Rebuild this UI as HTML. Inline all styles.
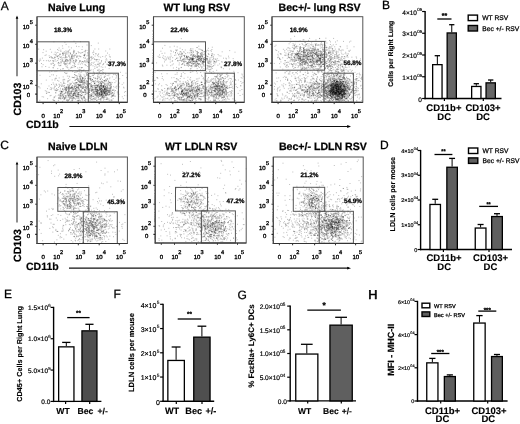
<!DOCTYPE html>
<html><head><meta charset="utf-8"><style>
html,body{margin:0;padding:0;background:#fff;}
svg{display:block;filter:blur(0.3px);}
text{font-family:"Liberation Sans", sans-serif;text-rendering:geometricPrecision;}
</style></head><body>
<svg width="520" height="424" viewBox="0 0 520 424">
<rect width="520" height="424" fill="#fff"/>
<path d="M68.6 76.2h1M102.5 74.2h1M52.6 88.1h1M108.7 68.6h1M59.3 98.1h1M91.8 58.5h1M101.2 92.7h1M98.8 88.7h1M48.5 86.0h1M46.2 93.5h1M90.5 85.1h1M109.2 56.7h1M104.9 91.1h1M126.8 95.7h1M89.5 79.0h1M59.9 90.0h1M104.8 56.9h1M45.8 80.1h1M39.3 100.3h1M65.8 73.6h1M91.8 85.7h1M117.3 93.9h1M53.6 100.4h1M98.4 76.5h1M50.4 87.5h1" stroke="#000" stroke-opacity="0.25"/>
<path d="M123.2 82.9h1M112.4 95.8h1M96.1 97.1h1M97.7 70.2h1M55.7 90.8h1M62.7 76.9h1M115.5 81.0h1M102.4 69.5h1M90.5 63.7h1M122.2 75.5h1M72.9 95.5h1M58.0 98.7h1M89.3 73.4h1M93.3 72.7h1M84.5 92.3h1M68.2 89.8h1M104.4 76.0h1M69.1 76.9h1M107.4 99.2h1M92.9 71.8h1M113.3 95.6h1M67.9 78.4h1M103.1 72.5h1M55.6 78.6h1M70.2 91.8h1" stroke="#000" stroke-opacity="0.25"/>
<path d="M67.5 101.3h1M96.8 96.2h1M95.7 61.0h1M50.9 89.6h1M100.4 85.3h1M121.8 96.8h1M100.2 63.0h1M95.6 53.8h1M96.2 59.8h1M109.3 74.1h1M43.1 97.0h1M123.5 88.0h1M124.2 95.6h1M77.8 94.5h1M77.5 100.7h1M90.4 60.3h1M108.6 92.5h1M51.7 79.9h1M74.2 74.6h1M72.9 94.4h1M117.3 74.5h1M125.1 91.5h1M103.7 77.1h1M78.8 79.1h1M91.3 57.7h1" stroke="#000" stroke-opacity="0.25"/>
<path d="M73.1 87.0h1M58.4 94.5h1M44.8 90.7h1M121.7 84.4h1M98.5 70.9h1M110.3 84.6h1M38.4 86.7h1M115.7 86.4h1M99.5 71.3h1M70.4 101.3h1M108.6 82.4h1M51.3 74.8h1M60.4 97.2h1M78.5 96.3h1M118.7 86.9h1M91.3 56.5h1M55.6 84.1h1M110.1 85.9h1M67.5 97.3h1M102.2 56.5h1M114.7 87.4h1M60.3 82.6h1M48.7 92.5h1M105.9 58.7h1M47.0 88.6h1" stroke="#000" stroke-opacity="0.25"/>
<path d="M39.5 75.3h1M111.7 100.1h1M49.7 89.3h1M93.0 92.8h1M94.2 83.3h1M116.1 76.9h1M126.0 77.7h1M82.2 88.1h1M124.0 92.2h1M69.5 97.3h1M99.0 93.3h1M82.7 98.7h1M105.2 51.0h1M93.1 80.8h1M105.9 80.7h1M95.3 59.6h1M123.1 87.2h1M58.7 77.9h1M96.6 72.9h1M71.9 100.9h1M110.5 82.3h1M84.9 72.0h1M104.7 73.1h1M96.4 73.5h1M54.4 80.1h1" stroke="#000" stroke-opacity="0.25"/>
<path d="M108.8 54.9h1M40.8 83.8h1M109.6 92.3h1M56.1 75.8h1M81.5 95.7h1M97.5 64.3h1M95.1 80.4h1M122.8 98.7h1M118.5 94.3h1M120.0 72.3h1M91.0 95.5h1M101.3 73.9h1M102.3 67.3h1M111.9 76.9h1M104.9 61.8h1M81.8 99.2h1M69.4 83.2h1M94.6 56.1h1M89.2 96.8h1M104.8 67.0h1M100.7 66.8h1M92.3 98.8h1M41.7 96.7h1M88.8 92.7h1M105.3 59.9h1" stroke="#000" stroke-opacity="0.25"/>
<path d="M100.1 57.2h1M112.1 96.1h1M83.1 83.0h1M86.4 84.6h1M84.1 80.8h1M97.0 76.9h1M116.2 75.5h1M71.5 99.9h1M97.3 59.6h1M106.4 64.2h1M111.4 95.5h1M125.5 73.2h1M53.1 100.2h1M59.8 94.0h1M74.2 74.6h1M103.0 64.4h1M80.7 86.9h1M117.5 92.0h1M66.9 76.1h1M92.9 57.7h1" stroke="#000" stroke-opacity="0.25"/>
<path d="M57.5 63.2h1M90.6 96.6h1M105.2 86.3h1M57.1 80.4h1M59.7 65.5h1M89.0 90.5h1M75.0 88.7h1M61.8 95.6h1M101.7 96.2h1M72.3 91.1h1M79.6 94.6h1M54.7 59.7h1M102.9 90.3h1M76.1 57.1h1M74.6 90.4h1M77.4 76.0h1M76.9 78.2h1M91.9 87.3h1M113.6 96.2h1M71.9 85.6h1M71.8 87.1h1M103.9 89.1h1M83.9 56.0h1M82.8 80.3h1M61.1 85.9h1" stroke="#000" stroke-opacity="0.27"/>
<path d="M72.3 88.2h1M89.2 84.0h1M73.3 95.7h1M110.6 94.2h1M105.1 94.2h1M89.9 87.9h1M64.4 83.6h1M55.2 96.0h1M102.1 96.1h1M79.6 100.5h1M79.8 56.7h1M62.8 52.3h1M67.3 82.0h1M65.4 90.0h1M103.8 81.1h1M79.7 86.2h1M64.9 89.3h1M103.3 85.6h1M81.5 92.1h1M91.5 90.5h1M98.5 72.3h1M62.7 68.6h1M98.2 77.9h1M74.0 65.8h1M83.2 84.1h1" stroke="#000" stroke-opacity="0.27"/>
<path d="M87.0 85.5h1M94.3 81.2h1M77.7 98.4h1M106.1 90.1h1M102.0 92.4h1M77.2 96.6h1M98.8 59.8h1M69.2 57.3h1M89.7 79.2h1M100.1 70.5h1M110.4 88.9h1M60.4 93.5h1M40.2 60.2h1M75.1 75.5h1M67.4 67.9h1M67.6 95.2h1M104.8 94.3h1M87.0 81.1h1M76.0 75.6h1M69.3 98.5h1M68.4 50.6h1M96.9 78.8h1M67.8 88.7h1M67.0 92.4h1M79.8 64.2h1" stroke="#000" stroke-opacity="0.27"/>
<path d="M95.5 65.1h1M74.7 89.8h1M54.9 89.9h1M56.1 90.4h1M54.5 78.9h1M80.8 90.5h1M96.8 79.1h1M89.7 57.2h1M63.6 89.3h1M83.3 87.1h1M75.4 95.5h1M106.8 84.5h1M109.2 94.5h1M112.6 90.3h1M83.8 83.2h1M106.5 79.1h1M106.4 60.0h1M95.8 91.8h1M78.1 58.7h1M78.3 94.5h1M96.3 67.2h1M72.8 95.1h1M65.8 89.9h1M100.8 83.3h1M60.5 96.6h1" stroke="#000" stroke-opacity="0.27"/>
<path d="M44.6 55.4h1M103.1 85.8h1M45.7 54.9h1M77.5 80.6h1M97.8 97.2h1M62.6 79.7h1M47.4 92.2h1M93.6 85.3h1M100.6 88.1h1M51.0 56.8h1M76.9 84.7h1M68.6 97.8h1M73.6 94.0h1M77.5 94.0h1M99.2 86.5h1M93.0 89.9h1M81.1 72.1h1M93.0 77.4h1M84.5 98.5h1M73.6 91.6h1M73.0 98.3h1M68.8 88.2h1M101.2 91.6h1M57.6 89.6h1M106.2 90.8h1" stroke="#000" stroke-opacity="0.27"/>
<path d="M67.5 92.7h1M78.4 46.6h1M87.6 55.3h1M66.7 63.0h1M107.4 90.0h1M38.6 60.2h1M74.6 66.5h1M101.0 83.8h1M71.9 85.9h1M87.0 82.7h1M75.8 93.0h1M104.3 89.4h1M94.2 99.5h1M64.1 51.8h1M54.1 100.7h1M61.2 91.5h1M62.3 48.3h1M97.5 74.2h1M111.0 91.9h1M82.9 92.5h1M64.4 98.8h1M72.3 77.5h1M81.9 88.5h1M80.8 89.4h1M79.8 78.6h1" stroke="#000" stroke-opacity="0.27"/>
<path d="M104.2 80.5h1M75.5 79.5h1M77.7 100.1h1M66.5 87.9h1M64.0 99.2h1M102.9 95.0h1M95.7 95.2h1M63.7 86.1h1M87.5 83.9h1M102.7 87.4h1M74.7 55.1h1M69.0 99.6h1M95.1 91.0h1M94.1 86.2h1M68.1 100.1h1M93.0 89.9h1M92.2 92.5h1M100.5 90.0h1M97.7 82.0h1M65.4 97.4h1M67.6 85.4h1M54.5 71.6h1M98.9 99.3h1M81.2 91.1h1M67.1 84.6h1" stroke="#000" stroke-opacity="0.27"/>
<path d="M78.6 81.8h1M84.5 64.4h1M109.2 90.6h1M80.0 41.7h1M79.0 85.6h1M64.5 87.6h1M109.0 85.7h1M103.9 77.5h1M65.4 97.1h1M83.4 92.5h1M74.2 72.5h1M85.0 87.4h1M95.9 87.5h1M116.5 86.0h1M83.8 78.0h1M78.7 69.3h1M62.5 53.9h1M55.4 54.9h1M79.1 81.9h1M86.1 75.5h1M96.5 94.3h1M94.1 93.0h1M53.5 61.0h1M60.1 95.1h1M77.2 97.9h1" stroke="#000" stroke-opacity="0.27"/>
<path d="M52.4 67.7h1M107.3 94.0h1M73.5 95.3h1M74.5 92.4h1M71.1 56.5h1M104.5 80.7h1M55.3 93.0h1M103.9 85.8h1M104.3 83.5h1M108.3 75.7h1M60.6 62.4h1M63.1 96.2h1M79.5 91.0h1M65.5 56.4h1M103.3 96.8h1M88.8 83.5h1M62.2 88.6h1M96.6 89.9h1M90.7 86.9h1M91.2 91.2h1M103.8 88.9h1M84.3 90.5h1M93.2 81.9h1M85.1 86.4h1M78.2 97.6h1" stroke="#000" stroke-opacity="0.27"/>
<path d="M98.9 72.7h1M88.2 98.4h1M66.6 67.4h1M77.6 96.1h1M101.7 90.7h1M62.2 101.3h1M98.8 89.9h1M72.8 60.7h1M104.5 93.2h1M68.6 89.2h1M98.8 89.4h1M102.7 86.8h1M84.9 101.4h1M66.1 86.9h1M66.6 100.0h1M78.6 84.6h1M82.3 100.9h1M62.0 60.3h1M88.4 97.7h1M106.0 93.4h1M109.0 93.2h1M95.3 87.6h1M111.8 95.8h1M78.4 81.2h1M77.9 92.7h1" stroke="#000" stroke-opacity="0.27"/>
<path d="M66.4 95.5h1M88.8 92.2h1M86.5 93.5h1M102.3 89.5h1M84.1 82.8h1M104.0 84.3h1M107.5 94.8h1M77.4 96.0h1M101.9 94.2h1M69.3 85.3h1M86.3 81.1h1M45.9 60.7h1M90.6 69.9h1M61.7 94.4h1M104.4 92.5h1M100.4 86.0h1M105.4 89.1h1M108.4 98.9h1M79.0 85.0h1M43.2 60.6h1M101.1 94.5h1M96.7 100.3h1M102.0 81.7h1M73.8 55.9h1M99.2 83.7h1" stroke="#000" stroke-opacity="0.27"/>
<path d="M107.8 81.0h1M69.1 63.4h1M79.8 61.2h1M89.5 98.6h1M96.3 89.3h1M114.1 91.9h1M97.7 61.8h1M91.6 79.5h1M99.1 87.2h1M98.2 93.9h1M77.7 51.7h1M75.0 61.3h1M65.0 96.0h1M104.9 95.4h1M108.8 78.8h1M81.8 70.6h1M99.4 92.2h1M65.2 57.4h1M85.8 73.8h1M68.5 95.6h1M102.4 97.8h1M52.4 99.8h1M89.6 83.7h1M101.1 60.5h1M63.9 87.6h1" stroke="#000" stroke-opacity="0.27"/>
<path d="M91.8 99.9h1M109.4 77.8h1M50.0 60.7h1M97.3 64.4h1M93.8 89.3h1M98.1 84.3h1M83.5 74.9h1M113.0 94.9h1M101.2 91.5h1M111.4 93.7h1M68.0 51.4h1M105.1 79.4h1M108.9 63.1h1M79.0 76.6h1M90.6 57.4h1M97.0 85.7h1M97.1 91.0h1M65.4 61.2h1M86.5 50.4h1M88.7 84.7h1M87.5 61.2h1M74.3 92.8h1M81.5 95.6h1M64.3 70.5h1M53.3 97.9h1" stroke="#000" stroke-opacity="0.27"/>
<path d="M95.2 53.8h1M108.0 92.1h1M100.5 91.2h1M67.6 81.2h1M79.0 85.0h1M98.3 56.7h1M74.7 86.1h1M88.9 58.4h1M75.0 90.9h1M93.3 92.2h1M72.9 53.4h1M59.4 96.4h1M94.9 87.9h1M100.6 95.7h1M75.6 83.1h1M102.0 89.1h1M62.6 80.9h1M101.2 81.4h1M72.4 90.0h1M65.5 57.3h1M77.2 94.4h1M78.4 95.6h1M72.1 95.0h1M98.6 69.3h1M74.3 84.1h1" stroke="#000" stroke-opacity="0.27"/>
<path d="M86.5 81.5h1M79.3 52.6h1M91.1 80.9h1M64.8 88.5h1M63.4 90.8h1M80.8 92.0h1M88.8 89.5h1M119.2 78.8h1M65.9 87.5h1M95.3 95.1h1M65.8 53.9h1M84.1 61.1h1M76.5 84.7h1M41.9 58.1h1M80.0 91.1h1M97.4 95.3h1M74.1 93.5h1M85.2 93.8h1M93.9 97.9h1M59.9 88.3h1M108.7 83.9h1M75.5 82.6h1M108.2 90.7h1M95.0 88.7h1M83.7 87.3h1" stroke="#000" stroke-opacity="0.27"/>
<path d="M102.5 86.9h1M107.6 83.0h1M98.5 81.8h1M41.5 66.8h1M102.4 70.0h1M103.0 86.6h1M79.8 94.9h1M99.5 90.1h1M59.4 54.5h1M77.5 80.9h1M94.7 89.9h1M84.8 50.9h1M84.0 97.4h1M71.7 58.9h1M98.4 84.2h1M112.0 92.6h1M96.3 59.6h1M103.1 80.7h1M94.9 78.0h1M72.1 55.9h1M104.3 93.0h1M60.7 98.8h1M83.9 55.1h1M59.7 57.6h1M79.0 100.0h1" stroke="#000" stroke-opacity="0.27"/>
<path d="M97.0 92.5h1M84.6 87.6h1M110.2 85.8h1M107.6 91.2h1M70.0 52.9h1M68.1 91.1h1M45.2 66.5h1M82.5 84.8h1M74.9 84.2h1M83.0 96.9h1M97.4 89.4h1M103.8 91.1h1M98.8 93.7h1M89.6 76.5h1M70.2 96.2h1M109.9 91.2h1M77.3 71.5h1M100.8 84.9h1M87.2 89.0h1M66.7 59.7h1M80.2 87.2h1M93.4 91.1h1M84.1 55.2h1M100.6 93.1h1M53.0 63.5h1" stroke="#000" stroke-opacity="0.27"/>
<path d="M84.9 51.9h1M101.3 85.0h1M93.1 51.0h1M79.7 92.0h1M71.0 56.0h1M63.6 93.8h1M110.6 84.4h1M107.8 88.2h1M94.4 92.1h1M97.2 90.9h1M78.5 89.1h1M69.9 68.1h1M108.1 81.3h1M78.2 84.1h1M68.2 87.2h1M102.1 93.0h1M82.6 88.3h1M101.1 86.5h1M79.6 90.2h1M87.1 78.2h1M102.3 94.5h1M79.6 72.8h1M90.8 97.7h1M84.7 76.5h1M62.1 98.4h1" stroke="#000" stroke-opacity="0.27"/>
<path d="M81.9 46.8h1M114.0 93.8h1M76.1 92.1h1M69.0 95.0h1M71.7 57.9h1M108.5 88.4h1M76.8 96.1h1M75.0 66.6h1M101.0 81.2h1M92.9 81.6h1M103.3 90.5h1M59.5 85.4h1M104.4 87.5h1M75.4 95.6h1M63.9 63.6h1M88.4 75.5h1M80.1 84.6h1M108.1 84.7h1M78.5 94.7h1M72.7 96.0h1M88.2 86.2h1M74.9 94.5h1M65.5 87.1h1M78.2 89.9h1M92.2 52.8h1" stroke="#000" stroke-opacity="0.27"/>
<path d="M80.7 81.3h1M64.4 42.4h1M76.6 56.9h1M79.4 76.9h1M76.2 60.4h1M54.7 52.2h1M88.5 94.4h1M70.9 47.9h1M88.1 87.0h1M57.2 60.5h1M80.8 82.5h1M59.3 84.9h1M100.9 84.7h1M110.8 86.2h1M109.7 87.8h1M62.4 94.0h1M70.2 97.9h1M105.0 84.2h1M82.3 83.7h1M65.6 44.4h1M83.0 57.7h1M64.7 60.1h1M78.3 93.2h1M106.6 98.9h1M80.0 95.3h1" stroke="#000" stroke-opacity="0.27"/>
<path d="M56.1 88.5h1M64.3 93.6h1M50.3 63.9h1M101.2 85.9h1M85.7 92.0h1M86.9 87.2h1M96.6 94.9h1M110.7 86.6h1M109.1 92.0h1M89.1 91.8h1M96.9 90.0h1M63.1 97.3h1M58.1 65.1h1M98.9 94.4h1M80.8 98.2h1M103.2 63.5h1M71.8 67.3h1M72.4 55.9h1M53.4 41.8h1M76.4 82.8h1M76.5 78.0h1M83.6 82.5h1M78.3 73.9h1M73.6 51.5h1M64.2 64.3h1" stroke="#000" stroke-opacity="0.27"/>
<path d="M71.5 57.1h1M96.5 85.6h1M86.3 88.2h1M93.2 98.4h1M38.2 49.1h1M75.3 43.4h1M58.1 87.5h1M100.9 95.0h1M97.9 85.8h1M100.3 90.9h1M104.4 81.8h1M83.9 81.9h1M93.5 101.2h1M98.2 49.0h1M85.2 94.6h1M60.6 63.0h1M54.4 56.9h1M96.0 87.8h1M107.7 91.5h1M106.8 90.6h1M75.7 53.3h1M78.0 100.7h1M80.2 85.2h1M47.1 98.7h1M65.8 91.9h1" stroke="#000" stroke-opacity="0.27"/>
<path d="M77.2 67.9h1M101.1 70.5h1M90.2 95.1h1M70.1 84.6h1M48.6 61.3h1M93.9 83.8h1M63.9 62.0h1M79.9 78.9h1M106.2 97.9h1M99.9 95.5h1M70.2 59.9h1M53.7 54.3h1M88.4 97.1h1M66.9 51.3h1M45.9 91.3h1M102.8 86.9h1M85.0 78.3h1M96.8 67.2h1M70.2 62.1h1M65.0 61.5h1M100.2 89.0h1M99.2 88.1h1M65.4 88.3h1M69.2 89.6h1M99.1 89.9h1" stroke="#000" stroke-opacity="0.27"/>
<path d="M54.6 90.4h1M75.4 59.6h1M86.4 89.8h1M104.2 93.9h1M104.4 88.2h1M57.8 58.4h1M78.8 71.3h1M94.2 93.8h1M91.7 90.4h1M62.3 53.4h1M92.2 81.5h1M96.0 93.1h1M55.4 78.1h1M86.4 92.9h1M84.0 100.5h1M99.8 79.1h1M75.3 62.1h1M84.8 65.0h1M95.3 93.8h1M98.4 74.9h1M71.8 82.1h1M68.2 91.8h1M111.9 92.6h1M82.7 91.9h1M60.7 91.4h1" stroke="#000" stroke-opacity="0.27"/>
<path d="M68.4 90.9h1M109.5 88.7h1M77.9 92.9h1M102.9 82.9h1M54.2 64.6h1M75.9 87.4h1M97.1 86.3h1M55.9 53.1h1M102.9 87.2h1M103.8 93.1h1M101.9 91.1h1M90.8 82.6h1M102.1 97.2h1M106.7 75.3h1M99.5 88.1h1M105.0 90.9h1M73.4 89.2h1M63.3 63.3h1M70.8 57.6h1M96.8 89.7h1M64.1 72.6h1M71.5 96.1h1M81.4 80.5h1M75.9 85.6h1M96.6 89.0h1" stroke="#000" stroke-opacity="0.27"/>
<path d="M77.7 87.1h1M52.9 61.8h1M75.1 96.5h1M76.3 94.9h1M52.8 60.7h1M60.3 92.1h1M72.9 93.7h1M90.1 78.3h1M101.2 91.7h1M69.3 90.7h1M109.6 100.9h1M84.3 91.2h1M103.6 91.1h1M87.6 86.0h1M110.5 87.3h1M70.9 83.7h1M73.7 77.8h1M112.9 93.1h1M99.3 93.7h1M81.5 82.1h1M91.2 80.3h1M72.4 99.7h1M75.7 90.7h1M87.0 74.6h1M86.8 61.6h1" stroke="#000" stroke-opacity="0.27"/>
<path d="M89.8 70.6h1M98.1 82.4h1M61.2 59.0h1M64.6 98.3h1M95.1 89.5h1M81.9 79.6h1M59.2 63.3h1M112.7 98.6h1M100.8 88.8h1M70.1 88.2h1M81.6 81.4h1M63.8 89.2h1M89.0 76.8h1M87.9 88.1h1M98.1 53.9h1M63.7 85.5h1M90.0 90.0h1M95.3 95.7h1M102.3 89.1h1M53.7 89.1h1M86.1 87.7h1M94.2 83.3h1M81.3 79.8h1M105.1 91.5h1M90.8 45.6h1" stroke="#000" stroke-opacity="0.27"/>
<path d="M71.9 94.1h1M59.2 56.1h1M67.4 52.7h1M57.9 100.6h1M72.9 52.1h1M104.4 86.1h1M100.9 88.1h1M101.8 89.3h1M107.0 94.9h1M74.1 86.7h1M97.6 93.1h1M110.8 87.7h1M100.4 94.5h1M101.5 94.5h1M78.0 85.9h1M76.8 94.2h1M99.5 89.6h1M69.3 91.6h1M98.1 98.0h1M87.3 58.8h1M79.1 61.7h1M100.8 77.2h1M106.1 95.6h1M76.5 87.1h1M87.4 83.7h1" stroke="#000" stroke-opacity="0.27"/>
<path d="M77.8 101.0h1M57.8 58.9h1M93.5 98.7h1M84.4 76.1h1M53.0 67.8h1M108.7 92.0h1M100.1 82.4h1M106.9 88.4h1M115.4 74.8h1M99.2 63.2h1M100.3 85.1h1M69.8 60.3h1M76.4 71.9h1M57.3 52.5h1M80.6 80.8h1M83.8 79.4h1M62.3 68.9h1M58.8 91.3h1M60.0 95.1h1M76.6 82.8h1M82.2 94.3h1M65.6 96.4h1M72.5 89.5h1M82.1 78.5h1M85.8 80.6h1" stroke="#000" stroke-opacity="0.27"/>
<path d="M106.5 93.2h1M69.6 97.9h1M67.6 94.6h1M61.2 86.4h1M100.7 98.1h1M87.8 76.0h1M65.4 64.7h1M39.5 88.0h1M108.8 82.4h1M75.6 88.7h1M82.9 82.0h1M57.8 95.6h1M97.4 86.4h1M96.9 93.8h1M103.9 92.2h1M66.2 100.5h1M104.4 93.3h1M70.6 94.1h1M98.1 95.7h1M73.5 41.3h1M82.1 84.8h1M85.7 61.3h1M74.0 87.7h1M86.2 83.4h1M62.7 54.4h1" stroke="#000" stroke-opacity="0.27"/>
<path d="M96.3 89.8h1M67.6 89.4h1M71.0 86.5h1M84.6 54.1h1M65.9 90.1h1M70.6 87.7h1M100.9 95.5h1M76.0 96.7h1M69.0 94.7h1M100.2 99.5h1M66.4 92.9h1M83.1 86.4h1M77.9 94.2h1M77.8 87.4h1M110.7 99.7h1M101.0 83.2h1M70.2 58.7h1M116.1 88.1h1M72.2 71.6h1M80.4 79.5h1M67.4 93.1h1M104.7 89.7h1M74.5 60.9h1M71.6 87.1h1M106.9 93.5h1" stroke="#000" stroke-opacity="0.27"/>
<path d="M103.0 86.1h1M62.2 92.0h1M90.0 80.6h1M84.2 98.8h1M83.5 96.7h1M94.4 87.9h1M86.5 62.7h1M68.2 86.8h1M59.4 65.8h1M94.4 83.0h1M103.2 88.0h1M102.3 91.5h1M61.0 91.2h1M81.1 81.0h1M104.1 80.6h1M84.4 60.6h1M95.5 98.6h1M78.0 84.7h1M69.7 93.6h1M88.2 62.4h1M81.0 87.9h1M78.5 62.7h1M104.9 62.2h1M85.4 86.6h1M100.9 90.3h1" stroke="#000" stroke-opacity="0.27"/>
<path d="M103.1 97.7h1M106.8 85.9h1M91.1 86.5h1M71.6 58.8h1M78.3 87.4h1M81.0 93.6h1M107.8 90.2h1M62.3 59.8h1M96.3 81.9h1M88.2 92.3h1M106.8 78.5h1M71.7 98.7h1M69.4 79.8h1M90.2 98.4h1M65.7 59.2h1M67.3 93.7h1M103.0 92.4h1M105.6 55.4h1M63.4 99.7h1M74.1 50.8h1M104.7 88.3h1M78.5 56.0h1M43.1 49.7h1M73.1 97.3h1M101.7 96.8h1" stroke="#000" stroke-opacity="0.27"/>
<path d="M84.9 82.1h1M105.4 87.8h1M105.4 87.1h1M80.3 85.0h1M70.3 96.0h1M87.2 72.5h1M54.6 86.5h1M102.6 92.6h1M56.6 90.0h1M106.0 95.7h1M62.1 85.2h1M78.7 69.9h1M103.0 89.7h1M104.9 94.8h1M66.5 73.1h1M67.1 60.4h1M79.9 76.6h1M74.9 95.6h1M100.0 88.2h1M97.1 55.7h1M70.9 93.6h1M51.0 84.5h1M70.0 93.3h1M69.3 59.6h1M58.3 81.1h1" stroke="#000" stroke-opacity="0.27"/>
<path d="M42.6 64.7h1M112.8 94.9h1M91.3 88.7h1M77.3 80.1h1M67.4 80.9h1M72.3 62.0h1M56.8 90.1h1M58.6 48.0h1M51.3 71.3h1M68.3 56.2h1M76.6 76.8h1M110.4 92.2h1M97.8 90.6h1M79.6 82.3h1M68.1 90.6h1M57.3 56.2h1M65.5 88.8h1M85.1 92.2h1M106.6 99.2h1M65.1 73.2h1M82.5 88.8h1M66.6 87.8h1M90.3 76.7h1M73.6 57.8h1M109.1 88.7h1" stroke="#000" stroke-opacity="0.27"/>
<path d="M71.0 91.7h1M90.1 85.7h1M79.2 80.8h1M71.6 87.6h1M96.4 90.1h1M84.1 97.3h1M98.6 66.3h1M103.7 96.3h1M86.9 85.0h1M80.3 74.9h1M109.1 91.6h1M65.6 66.6h1M58.1 62.4h1M108.6 90.2h1M81.0 76.3h1M101.5 98.0h1M91.8 75.6h1M76.4 87.3h1M100.1 89.6h1M99.8 89.8h1M73.7 85.2h1M106.5 89.0h1M76.8 91.4h1M96.5 92.6h1M64.6 97.9h1" stroke="#000" stroke-opacity="0.27"/>
<path d="M72.7 91.1h1M62.1 89.6h1M95.3 91.6h1M81.5 61.4h1M114.8 96.2h1M106.2 91.3h1M72.7 97.6h1M82.6 87.9h1M76.5 88.0h1M89.1 88.6h1M63.6 61.8h1M62.2 89.2h1M73.7 55.1h1M69.5 92.1h1M81.0 63.0h1M87.7 84.0h1M95.1 85.4h1M65.2 60.1h1M51.9 63.2h1M73.0 60.7h1M53.4 58.5h1M80.6 80.4h1M65.4 50.9h1M78.2 85.5h1M102.4 93.8h1" stroke="#000" stroke-opacity="0.27"/>
<path d="M76.6 89.8h1M99.3 87.4h1M74.1 63.1h1M105.4 81.0h1M76.3 56.8h1M77.8 88.6h1M103.0 100.0h1M101.0 61.7h1M71.5 98.0h1M53.3 84.3h1M82.1 82.7h1M98.8 92.3h1M86.4 99.8h1M91.8 89.8h1M97.6 54.7h1M69.7 88.5h1M87.5 86.1h1M75.5 60.0h1M99.9 91.7h1M81.8 80.2h1M103.1 98.1h1M73.6 83.0h1M71.9 98.1h1M93.7 95.9h1M90.8 86.2h1" stroke="#000" stroke-opacity="0.27"/>
<path d="M93.7 62.2h1M73.5 97.4h1M75.3 82.8h1M82.1 63.9h1M98.8 77.4h1M69.5 92.2h1M73.2 93.6h1M96.7 87.5h1M67.1 91.5h1M82.2 91.9h1M86.1 88.7h1M61.4 84.1h1M95.5 88.3h1M66.3 99.1h1M78.1 52.8h1M113.5 90.5h1M111.9 90.2h1M63.3 82.1h1M73.4 98.0h1M54.8 57.6h1M75.1 91.1h1M84.8 62.1h1M84.3 85.1h1M83.4 69.8h1M97.6 86.0h1" stroke="#000" stroke-opacity="0.27"/>
<path d="M102.0 85.9h1M89.1 83.6h1M97.3 87.8h1M60.4 93.5h1M82.1 87.2h1M96.1 91.5h1M98.2 87.8h1M105.1 87.1h1M92.0 79.8h1M115.4 78.1h1M90.3 65.3h1M112.9 74.6h1M59.8 98.4h1M103.6 92.5h1M116.8 92.1h1M73.5 67.1h1M105.8 89.2h1M103.8 97.8h1M104.4 89.0h1M75.6 98.2h1M62.3 61.5h1M94.0 73.2h1M74.8 91.9h1M95.4 87.9h1M76.9 87.6h1" stroke="#000" stroke-opacity="0.27"/>
<path d="M79.9 79.0h1M55.9 84.4h1M83.4 61.8h1M102.9 91.5h1M107.7 83.5h1M80.0 75.3h1M91.3 62.5h1M98.6 85.6h1M71.4 88.1h1M84.8 78.9h1M78.4 92.4h1M100.6 93.1h1M113.3 89.3h1M69.2 49.7h1M57.2 68.6h1M49.2 72.0h1M49.0 57.5h1M101.3 94.6h1M100.4 99.2h1M48.6 67.3h1M60.1 69.4h1M75.7 61.0h1M71.0 54.9h1M80.8 96.8h1M81.6 98.3h1" stroke="#000" stroke-opacity="0.27"/>
<path d="M64.2 79.8h1M62.0 53.1h1M71.5 96.4h1M84.4 94.4h1M39.6 58.9h1M91.2 59.1h1M94.4 81.8h1M96.0 100.5h1M87.4 75.4h1M70.9 67.1h1M106.7 87.5h1M98.2 94.1h1M110.2 64.0h1M87.3 81.7h1M65.0 56.1h1M106.4 83.3h1M106.9 94.4h1M92.5 99.7h1M101.1 88.3h1M102.0 93.5h1M91.1 85.6h1M68.3 95.8h1M71.7 88.1h1M80.9 95.4h1M67.9 92.9h1" stroke="#000" stroke-opacity="0.27"/>
<path d="M77.7 64.2h1M56.3 85.5h1M99.5 81.5h1M100.4 86.0h1M83.4 80.8h1M94.4 49.0h1M82.8 78.4h1M76.2 86.9h1M87.2 87.6h1M42.5 52.6h1M92.5 94.0h1M49.9 56.9h1M65.2 54.6h1M98.4 95.2h1M113.1 86.7h1M66.6 60.1h1M88.7 90.4h1M51.8 57.8h1M105.3 92.0h1M80.9 95.5h1M102.7 87.4h1M91.5 91.4h1M84.6 92.2h1M64.2 97.8h1M81.7 78.5h1" stroke="#000" stroke-opacity="0.27"/>
<path d="M100.9 89.9h1M95.2 99.4h1M97.3 93.0h1M104.0 88.6h1M74.4 64.4h1M62.6 96.5h1M84.9 58.0h1M55.2 54.9h1M72.0 54.6h1M101.9 72.0h1M100.4 86.4h1M104.5 96.0h1M56.4 55.9h1M48.7 55.8h1M102.1 64.8h1M104.4 88.8h1M102.9 91.1h1M107.6 61.7h1M84.9 99.5h1M108.6 94.8h1M75.1 99.1h1M90.8 84.5h1M90.7 94.0h1M67.6 99.8h1M65.6 90.4h1" stroke="#000" stroke-opacity="0.27"/>
<path d="M89.5 78.4h1M80.2 82.8h1M80.7 82.0h1M67.5 88.9h1M96.8 93.8h1M86.2 74.5h1M104.0 92.3h1M103.1 85.8h1M94.1 83.5h1M104.6 89.1h1M108.2 90.9h1M74.3 77.1h1M91.7 89.6h1M106.3 87.8h1M94.3 85.6h1M68.3 46.9h1M90.0 79.5h1M85.7 65.6h1M112.1 95.9h1M65.1 60.4h1M95.2 87.2h1M105.7 88.3h1M109.2 82.4h1M100.1 98.6h1M107.0 53.1h1" stroke="#000" stroke-opacity="0.27"/>
<path d="M70.9 87.5h1M63.7 53.6h1M100.7 86.0h1M69.4 62.5h1M83.8 85.0h1M53.0 74.9h1M106.5 85.5h1M86.0 72.9h1M74.7 91.1h1M88.4 71.7h1M100.8 78.4h1M109.5 89.5h1M104.1 92.6h1M79.6 77.6h1M95.2 97.7h1M105.6 92.1h1M67.6 87.2h1M61.3 95.7h1M71.4 56.1h1M88.7 74.9h1M59.5 53.7h1M97.8 85.0h1M68.9 85.4h1M79.0 89.8h1M69.7 94.8h1" stroke="#000" stroke-opacity="0.27"/>
<path d="M61.5 91.5h1M92.0 79.6h1M84.4 89.3h1M80.8 67.9h1M51.1 88.4h1M87.9 62.3h1M58.9 86.5h1M74.4 88.6h1M101.0 94.7h1M58.1 97.6h1M49.4 76.4h1M39.0 61.3h1M69.7 63.9h1M98.2 93.0h1M84.4 58.2h1M104.3 89.1h1M85.1 88.1h1M81.0 98.2h1M89.4 95.2h1M77.8 86.6h1M65.9 90.2h1M78.4 81.3h1M106.9 64.3h1M54.3 85.9h1M77.5 79.3h1" stroke="#000" stroke-opacity="0.27"/>
<path d="M87.5 86.4h1M102.3 95.6h1M64.7 52.7h1M78.7 98.1h1M96.2 90.3h1M98.8 65.2h1M62.2 94.9h1M83.4 55.5h1M60.2 95.7h1M83.7 96.0h1M73.1 50.3h1M97.6 97.3h1M78.8 85.6h1M64.5 58.0h1M56.3 71.2h1M82.1 77.5h1M92.8 69.9h1M111.1 100.6h1M48.6 92.4h1M83.7 51.6h1M54.1 87.7h1M99.8 79.7h1M92.8 63.2h1M90.9 95.8h1M107.7 65.2h1" stroke="#000" stroke-opacity="0.27"/>
<path d="M79.4 82.6h1M81.9 82.2h1M104.6 95.4h1M79.2 75.1h1M81.4 52.6h1M81.2 70.6h1M47.8 60.4h1M92.5 65.8h1M84.8 83.5h1M68.3 87.3h1M69.1 86.5h1M95.3 89.8h1M63.7 97.8h1M100.6 85.4h1M76.0 46.3h1M71.6 100.6h1M64.8 95.5h1M68.7 88.7h1M75.9 96.6h1M60.4 51.5h1M69.3 87.5h1M69.4 59.0h1M101.0 88.5h1M106.0 90.6h1M86.5 84.7h1" stroke="#000" stroke-opacity="0.27"/>
<path d="M97.1 93.9h1M110.4 93.5h1M102.3 90.3h1M73.4 92.3h1M107.4 88.9h1M72.4 65.5h1M80.7 86.8h1M101.5 92.8h1M104.0 86.8h1M98.9 90.2h1M85.7 82.7h1M95.8 85.7h1M51.1 64.1h1M77.4 92.5h1M74.9 80.2h1M105.0 92.9h1M84.9 50.3h1M73.4 95.3h1M73.7 63.4h1M99.2 86.4h1M88.9 94.9h1M76.2 82.7h1M86.8 72.8h1M110.9 96.8h1M90.8 87.0h1" stroke="#000" stroke-opacity="0.27"/>
<path d="M89.6 100.7h1M105.8 91.8h1M73.5 93.7h1M68.5 52.7h1M104.0 93.7h1M90.4 78.6h1M104.6 76.5h1M96.7 84.9h1M109.9 82.7h1M63.6 98.5h1M83.7 80.4h1M81.5 86.3h1M109.9 59.7h1M71.6 89.3h1M80.0 81.1h1M101.1 93.4h1M73.0 77.5h1M106.8 79.5h1M99.3 93.1h1M114.5 74.4h1M100.2 89.5h1M51.1 52.2h1M86.3 86.5h1M99.8 96.1h1M76.1 90.8h1" stroke="#000" stroke-opacity="0.27"/>
<path d="M71.8 91.2h1M104.2 89.1h1M71.0 91.9h1M45.7 51.2h1M84.3 54.9h1M66.1 59.8h1M99.8 85.4h1M68.5 93.8h1M69.9 95.4h1M104.0 89.8h1M62.5 55.5h1M101.0 92.2h1M90.3 95.1h1M87.3 66.5h1M70.0 53.5h1M75.3 72.1h1M80.3 85.3h1M77.8 84.7h1M60.3 50.2h1M101.0 94.8h1M102.0 79.6h1M69.8 54.2h1M65.0 91.9h1M104.2 89.6h1M91.3 90.1h1" stroke="#000" stroke-opacity="0.27"/>
<path d="M101.8 96.9h1M59.8 93.2h1M102.1 82.9h1M108.7 100.2h1M74.3 86.9h1M58.7 98.3h1M67.8 96.3h1M101.5 87.6h1M100.5 91.9h1M76.8 93.2h1M67.5 61.4h1M103.6 91.4h1M89.8 96.9h1M91.8 96.6h1M88.4 96.2h1M62.2 57.9h1M73.4 56.4h1M94.7 86.8h1M94.6 89.3h1M101.2 88.3h1M67.5 86.2h1M108.1 73.9h1M63.2 95.1h1M59.8 98.9h1M97.6 91.0h1" stroke="#000" stroke-opacity="0.27"/>
<path d="M79.5 92.2h1M100.2 83.5h1M74.4 80.4h1M38.3 86.9h1M98.0 90.5h1M86.5 60.4h1M66.4 61.4h1M104.7 90.0h1M62.4 91.2h1M70.5 61.1h1M103.1 93.9h1M73.3 89.2h1M75.9 53.6h1M101.3 97.8h1M59.6 54.5h1M97.1 75.9h1M83.6 55.0h1M80.4 87.3h1M71.2 96.4h1M99.4 88.1h1M66.8 65.9h1M86.5 55.9h1M99.0 92.7h1M105.7 85.1h1M100.9 93.6h1" stroke="#000" stroke-opacity="0.27"/>
<path d="M66.7 94.1h1M58.0 62.9h1M70.9 88.2h1M57.0 49.6h1M111.8 90.1h1M49.8 49.3h1M68.0 88.3h1M102.6 86.6h1M60.8 93.8h1M91.9 86.0h1M98.8 95.2h1M88.2 62.5h1M59.4 97.6h1M87.2 52.6h1M96.8 90.1h1M73.0 93.8h1M84.7 90.8h1M110.3 88.4h1M71.6 87.8h1M64.9 92.7h1M96.6 95.3h1M97.8 43.1h1M69.0 93.5h1M93.3 52.3h1M77.6 79.0h1" stroke="#000" stroke-opacity="0.27"/>
<path d="M115.0 90.5h1M78.1 96.5h1M117.6 84.3h1M71.1 90.7h1M106.1 94.5h1M71.2 67.8h1M85.3 90.7h1M89.0 92.2h1M68.4 69.7h1M69.5 87.7h1M71.2 92.0h1M63.0 83.2h1M99.0 94.7h1M93.8 58.9h1M96.5 86.7h1M109.9 57.0h1M88.2 96.4h1M72.0 96.0h1M80.7 84.9h1M93.0 75.4h1M111.8 82.6h1M82.3 92.4h1M58.5 84.2h1M99.9 73.7h1M74.8 93.5h1" stroke="#000" stroke-opacity="0.27"/>
<path d="M103.9 84.2h1M63.2 96.8h1M82.0 77.9h1M79.5 85.8h1M88.7 89.7h1M99.7 88.1h1M77.5 90.4h1M60.7 56.7h1M84.6 90.0h1M95.9 93.8h1M97.5 80.7h1M105.8 94.6h1M61.4 60.9h1M74.0 92.9h1M67.4 54.0h1M100.0 94.4h1M106.0 99.5h1M97.0 85.6h1M65.3 63.3h1M82.8 97.5h1M69.4 61.0h1M106.5 92.2h1M63.4 83.1h1M66.9 101.0h1M108.7 94.4h1" stroke="#000" stroke-opacity="0.27"/>
<path d="M100.7 92.5h1M99.4 63.8h1M108.5 85.3h1M108.3 95.2h1M68.5 80.5h1M102.3 91.0h1M96.6 92.2h1M94.6 64.6h1M96.9 81.6h1M97.7 64.0h1M52.7 82.9h1M82.0 61.5h1M62.6 86.4h1M80.7 82.5h1M92.8 85.4h1M76.4 78.9h1M108.6 87.2h1M73.1 51.8h1M70.9 98.0h1M82.5 87.0h1M63.5 79.3h1M95.8 91.5h1M100.6 83.4h1M105.0 86.3h1M55.2 92.6h1" stroke="#000" stroke-opacity="0.27"/>
<path d="M90.3 86.4h1M97.2 91.4h1M106.8 87.3h1M82.1 81.4h1M83.1 70.6h1M105.1 91.3h1M63.4 57.4h1M104.2 93.2h1M87.4 92.8h1M103.1 86.3h1M104.2 91.1h1M75.0 93.9h1M102.9 93.1h1M118.8 83.1h1M103.2 95.3h1M111.5 93.7h1M68.7 56.2h1M90.7 90.9h1M80.6 77.2h1M73.7 52.7h1M72.7 58.8h1M93.1 92.0h1M65.2 63.6h1M109.7 94.0h1M105.9 80.7h1" stroke="#000" stroke-opacity="0.27"/>
<path d="M95.7 91.5h1M63.6 62.1h1M91.4 93.7h1M64.8 93.0h1M73.2 62.3h1M61.3 92.4h1M98.5 86.7h1M96.6 93.4h1M102.3 95.9h1M89.5 88.4h1M93.0 54.6h1M100.3 100.4h1M65.6 87.7h1M60.4 65.2h1M74.5 86.6h1M94.0 74.2h1M78.5 88.6h1M107.0 92.2h1M60.5 57.6h1M79.3 56.1h1M74.9 85.8h1M91.3 95.0h1M74.1 98.6h1M107.1 90.1h1M99.1 96.4h1" stroke="#000" stroke-opacity="0.27"/>
<path d="M105.3 89.1h1M84.2 90.0h1M100.7 94.4h1M81.3 67.6h1M67.7 100.6h1M77.1 55.9h1M76.4 96.7h1M68.4 55.3h1M110.8 97.0h1M87.9 78.3h1M106.0 89.3h1M113.6 79.5h1M68.7 96.6h1M106.8 97.9h1M101.8 82.2h1M67.9 95.3h1M107.0 86.6h1M65.3 53.7h1M99.7 82.4h1M94.4 87.8h1M73.3 83.4h1M54.1 97.4h1M81.7 67.5h1M91.0 89.3h1M88.6 78.3h1" stroke="#000" stroke-opacity="0.27"/>
<path d="M96.8 78.3h1M79.3 60.7h1M97.8 99.4h1M75.8 79.5h1M90.8 64.6h1M57.2 56.7h1M94.2 59.4h1M71.7 77.3h1M96.8 92.7h1M68.4 63.8h1M106.8 90.4h1M66.6 57.3h1M101.0 91.1h1M92.0 89.2h1M95.7 85.2h1M90.6 95.9h1M102.5 85.5h1M66.1 88.9h1M94.3 66.8h1M114.4 82.6h1M66.3 64.0h1M70.4 70.5h1M93.7 78.1h1M97.0 70.3h1M92.5 75.0h1" stroke="#000" stroke-opacity="0.27"/>
<path d="M80.3 101.3h1M82.5 77.3h1M101.2 90.4h1M94.6 90.2h1M51.1 57.8h1M69.6 88.4h1M110.3 90.6h1M52.2 58.0h1M105.4 95.7h1M41.0 63.5h1M103.4 91.6h1M109.2 90.7h1M99.2 88.0h1M82.7 62.1h1M98.9 94.7h1M86.4 59.3h1M61.9 45.9h1M90.6 99.6h1M94.4 68.5h1M95.1 78.5h1M65.1 89.9h1M57.9 55.5h1M60.4 61.6h1M110.7 83.9h1M81.7 99.8h1" stroke="#000" stroke-opacity="0.27"/>
<path d="M94.5 94.6h1M92.5 88.8h1M72.9 88.4h1M105.8 91.8h1M60.5 91.4h1M97.4 96.4h1M68.5 84.4h1M77.7 88.2h1M59.9 59.6h1M80.0 97.0h1M71.0 93.0h1M93.7 91.5h1M99.4 94.1h1M97.5 92.8h1M75.7 89.3h1M118.3 96.8h1M85.0 100.7h1M99.7 79.0h1M71.2 58.2h1M64.7 64.8h1M109.3 49.0h1M108.2 92.5h1M76.8 100.8h1M70.2 83.8h1M87.8 93.7h1" stroke="#000" stroke-opacity="0.27"/>
<path d="M93.5 93.8h1M67.9 87.2h1M104.4 93.3h1M62.0 97.8h1M49.6 95.8h1M91.5 95.0h1M97.2 91.3h1M100.4 75.6h1M84.3 89.4h1M54.0 57.6h1M52.2 60.7h1M56.6 56.7h1M80.3 53.3h1M64.8 55.5h1M67.5 91.3h1M62.5 53.7h1M82.2 52.4h1M110.0 87.8h1M76.4 87.0h1M98.7 96.3h1M95.0 94.4h1M50.5 95.4h1M45.9 93.0h1M110.1 83.8h1M53.8 96.7h1" stroke="#000" stroke-opacity="0.27"/>
<path d="M76.3 90.4h1M86.5 45.0h1M104.6 90.7h1M109.7 89.9h1M81.5 49.5h1M105.8 93.5h1M74.1 94.1h1M75.8 90.0h1M92.4 87.4h1M90.8 99.7h1M96.2 96.1h1M92.9 96.5h1M100.7 91.9h1M75.5 55.2h1M80.4 56.7h1M103.2 90.9h1M55.5 61.2h1M80.2 69.7h1M100.6 96.2h1M107.2 93.2h1M105.1 74.4h1M87.3 53.8h1M79.5 60.8h1M53.6 65.9h1M58.3 50.3h1" stroke="#000" stroke-opacity="0.27"/>
<path d="M103.3 82.7h1M67.9 60.4h1M90.2 84.0h1M82.3 78.3h1M102.8 95.8h1M61.2 92.3h1M59.1 95.4h1M92.8 96.3h1M96.8 94.9h1M75.1 88.7h1M53.4 65.4h1M110.5 61.5h1M79.2 67.4h1M92.5 87.0h1M100.0 91.1h1M95.0 94.1h1M95.5 85.0h1M104.6 97.2h1M104.5 99.5h1M66.0 52.2h1" stroke="#000" stroke-opacity="0.27"/>
<rect x="37" y="41.8" width="52" height="29.0" fill="none" stroke="#555" stroke-width="1.0"/>
<rect x="88.3" y="73.2" width="30.10000000000001" height="29.0" fill="none" stroke="#555" stroke-width="1.0"/>
<rect x="37" y="16.7" width="90.4" height="85.6" fill="none" stroke="#555" stroke-width="1.0"/>
<line x1="36.5" y1="102.3" x2="127.4" y2="102.3" stroke="#333" stroke-width="1.2"/>
<line x1="37" y1="16.7" x2="37" y2="102.8" stroke="#444" stroke-width="1.1"/>
<line x1="36.0" y1="30.919569917615647" x2="37" y2="30.919569917615647" stroke="#666" stroke-width="0.8"/>
<line x1="36.0" y1="34.26530383967359" x2="37" y2="34.26530383967359" stroke="#666" stroke-width="0.8"/>
<line x1="36.0" y1="36.63913983523129" x2="37" y2="36.63913983523129" stroke="#666" stroke-width="0.8"/>
<line x1="36.0" y1="38.48043008238436" x2="37" y2="38.48043008238436" stroke="#666" stroke-width="0.8"/>
<line x1="36.0" y1="39.984873757289236" x2="37" y2="39.984873757289236" stroke="#666" stroke-width="0.8"/>
<line x1="36.0" y1="41.25686276027088" x2="37" y2="41.25686276027088" stroke="#666" stroke-width="0.8"/>
<line x1="36.0" y1="42.358709752846934" x2="37" y2="42.358709752846934" stroke="#666" stroke-width="0.8"/>
<line x1="36.0" y1="43.330607679347175" x2="37" y2="43.330607679347175" stroke="#666" stroke-width="0.8"/>
<line x1="36.0" y1="50.01956991761565" x2="37" y2="50.01956991761565" stroke="#666" stroke-width="0.8"/>
<line x1="36.0" y1="53.36530383967359" x2="37" y2="53.36530383967359" stroke="#666" stroke-width="0.8"/>
<line x1="36.0" y1="55.73913983523129" x2="37" y2="55.73913983523129" stroke="#666" stroke-width="0.8"/>
<line x1="36.0" y1="57.58043008238436" x2="37" y2="57.58043008238436" stroke="#666" stroke-width="0.8"/>
<line x1="36.0" y1="59.08487375728923" x2="37" y2="59.08487375728923" stroke="#666" stroke-width="0.8"/>
<line x1="36.0" y1="60.356862760270886" x2="37" y2="60.356862760270886" stroke="#666" stroke-width="0.8"/>
<line x1="36.0" y1="61.45870975284693" x2="37" y2="61.45870975284693" stroke="#666" stroke-width="0.8"/>
<line x1="36.0" y1="62.430607679347176" x2="37" y2="62.430607679347176" stroke="#666" stroke-width="0.8"/>
<line x1="36.0" y1="68.91956991761563" x2="37" y2="68.91956991761563" stroke="#666" stroke-width="0.8"/>
<line x1="36.0" y1="72.26530383967358" x2="37" y2="72.26530383967358" stroke="#666" stroke-width="0.8"/>
<line x1="36.0" y1="74.63913983523128" x2="37" y2="74.63913983523128" stroke="#666" stroke-width="0.8"/>
<line x1="36.0" y1="76.48043008238436" x2="37" y2="76.48043008238436" stroke="#666" stroke-width="0.8"/>
<line x1="36.0" y1="77.98487375728922" x2="37" y2="77.98487375728922" stroke="#666" stroke-width="0.8"/>
<line x1="36.0" y1="79.25686276027088" x2="37" y2="79.25686276027088" stroke="#666" stroke-width="0.8"/>
<line x1="36.0" y1="80.35870975284692" x2="37" y2="80.35870975284692" stroke="#666" stroke-width="0.8"/>
<line x1="36.0" y1="81.33060767934717" x2="37" y2="81.33060767934717" stroke="#666" stroke-width="0.8"/>
<line x1="36.0" y1="91.01956991761564" x2="37" y2="91.01956991761564" stroke="#666" stroke-width="0.8"/>
<line x1="36.0" y1="94.36530383967359" x2="37" y2="94.36530383967359" stroke="#666" stroke-width="0.8"/>
<line x1="36.0" y1="96.73913983523128" x2="37" y2="96.73913983523128" stroke="#666" stroke-width="0.8"/>
<line x1="36.0" y1="98.58043008238435" x2="37" y2="98.58043008238435" stroke="#666" stroke-width="0.8"/>
<line x1="43.1" y1="102.3" x2="43.1" y2="104.1" stroke="#333" stroke-width="1.0"/>
<line x1="56.3" y1="102.3" x2="56.3" y2="104.1" stroke="#333" stroke-width="1.0"/>
<line x1="78.3" y1="102.3" x2="78.3" y2="104.1" stroke="#333" stroke-width="1.0"/>
<line x1="99.2" y1="102.3" x2="99.2" y2="104.1" stroke="#333" stroke-width="1.0"/>
<line x1="119.3" y1="102.3" x2="119.3" y2="104.1" stroke="#333" stroke-width="1.0"/>
<text x="29.4" y="28.6" font-size="6.0" stroke="#000" stroke-width="0.32" text-anchor="end" fill="#000" >10</text>
<text x="29.7" y="24.0" font-size="5.6" stroke="#000" stroke-width="0.32" text-anchor="start" fill="#000" >5</text>
<line x1="35.2" y1="25.200000000000003" x2="37" y2="25.200000000000003" stroke="#333" stroke-width="1"/>
<text x="29.4" y="47.7" font-size="6.0" stroke="#000" stroke-width="0.32" text-anchor="end" fill="#000" >10</text>
<text x="29.7" y="43.1" font-size="5.6" stroke="#000" stroke-width="0.32" text-anchor="start" fill="#000" >4</text>
<line x1="35.2" y1="44.300000000000004" x2="37" y2="44.300000000000004" stroke="#333" stroke-width="1"/>
<text x="29.4" y="66.6" font-size="6.0" stroke="#000" stroke-width="0.32" text-anchor="end" fill="#000" >10</text>
<text x="29.7" y="61.99999999999999" font-size="5.6" stroke="#000" stroke-width="0.32" text-anchor="start" fill="#000" >3</text>
<line x1="35.2" y1="63.199999999999996" x2="37" y2="63.199999999999996" stroke="#333" stroke-width="1"/>
<text x="29.4" y="88.7" font-size="6.0" stroke="#000" stroke-width="0.32" text-anchor="end" fill="#000" >10</text>
<text x="29.7" y="84.10000000000001" font-size="5.6" stroke="#000" stroke-width="0.32" text-anchor="start" fill="#000" >2</text>
<line x1="35.2" y1="85.3" x2="37" y2="85.3" stroke="#333" stroke-width="1"/>
<text x="30.1" y="97.2" font-size="6.0" stroke="#000" stroke-width="0.32" text-anchor="end" fill="#000" >0</text>
<line x1="35.2" y1="94.10000000000001" x2="37" y2="94.10000000000001" stroke="#222" stroke-width="1.2"/>
<text x="43.1" y="117.89999999999999" font-size="6.0" stroke="#000" stroke-width="0.32" text-anchor="middle" fill="#000" >0</text>
<text x="53.3" y="117.89999999999999" font-size="6.0" stroke="#000" stroke-width="0.32" text-anchor="start" fill="#000" >10</text>
<text x="60.0" y="112.8" font-size="5.6" stroke="#000" stroke-width="0.32" text-anchor="start" fill="#000" >2</text>
<text x="75.5" y="117.89999999999999" font-size="6.0" stroke="#000" stroke-width="0.32" text-anchor="start" fill="#000" >10</text>
<text x="82.19999999999999" y="112.8" font-size="5.6" stroke="#000" stroke-width="0.32" text-anchor="start" fill="#000" >3</text>
<text x="96.0" y="117.89999999999999" font-size="6.0" stroke="#000" stroke-width="0.32" text-anchor="start" fill="#000" >10</text>
<text x="102.69999999999999" y="112.8" font-size="5.6" stroke="#000" stroke-width="0.32" text-anchor="start" fill="#000" >4</text>
<text x="116.10000000000001" y="117.89999999999999" font-size="6.0" stroke="#000" stroke-width="0.32" text-anchor="start" fill="#000" >10</text>
<text x="122.8" y="112.8" font-size="5.6" stroke="#000" stroke-width="0.32" text-anchor="start" fill="#000" >5</text>
<text x="54.1" y="31.6" font-size="6.35" font-weight="bold" stroke="#000" stroke-width="0.25" text-anchor="start" fill="#000" >18.3%</text>
<text x="107.9" y="66.1" font-size="6.35" font-weight="bold" stroke="#000" stroke-width="0.25" text-anchor="start" fill="#000" >37.3%</text>
<path d="M174.3 81.5h1M240.4 85.9h1M168.7 96.0h1M159.5 99.1h1M202.2 87.0h1M225.5 90.1h1M228.4 57.9h1M173.5 96.2h1M217.4 86.9h1M194.7 99.5h1M177.6 94.1h1M227.9 92.4h1M219.1 74.5h1M193.5 82.9h1M184.0 94.6h1M155.1 83.9h1M216.3 77.4h1M224.0 95.1h1M234.5 52.2h1M208.5 97.3h1M196.6 90.0h1M206.4 89.9h1M174.5 95.6h1M244.0 81.1h1M189.2 87.1h1" stroke="#000" stroke-opacity="0.25"/>
<path d="M226.5 77.3h1M228.0 56.2h1M224.4 99.8h1M156.7 77.5h1M221.7 51.8h1M176.1 81.3h1M197.0 88.5h1M234.0 94.5h1M189.3 79.2h1M157.4 88.5h1M228.8 78.3h1M218.2 91.7h1M154.7 80.3h1M164.7 98.3h1M240.1 85.7h1M173.4 92.4h1M218.3 60.5h1M217.3 93.3h1M225.4 58.2h1M198.7 78.2h1M183.2 95.8h1M237.7 93.4h1M163.5 96.6h1M186.4 99.0h1M180.9 73.7h1" stroke="#000" stroke-opacity="0.25"/>
<path d="M161.1 73.8h1M165.6 84.5h1M242.5 82.5h1M241.4 74.0h1M241.8 75.0h1M180.9 88.6h1M175.6 87.6h1M207.2 79.0h1M204.9 98.4h1M176.7 72.7h1M227.8 79.7h1M210.9 73.4h1M220.4 56.0h1M241.3 83.3h1M230.4 93.7h1M230.8 82.9h1M225.9 74.4h1M203.0 87.8h1M229.2 50.6h1M160.0 92.0h1M166.6 73.7h1M190.1 100.5h1M239.5 90.7h1M205.5 76.0h1M175.1 89.1h1" stroke="#000" stroke-opacity="0.25"/>
<path d="M189.8 72.4h1M223.0 58.2h1M186.6 85.6h1M206.9 92.0h1M230.4 92.8h1M226.6 72.9h1M237.5 72.7h1M167.3 98.2h1M211.2 94.7h1M210.9 64.3h1M176.8 86.2h1M232.7 58.6h1M207.9 100.0h1M237.9 80.0h1M209.6 64.2h1M221.1 67.7h1M163.4 94.8h1M203.6 79.9h1M174.7 74.4h1M208.2 65.4h1M186.6 101.3h1M233.1 73.7h1M201.0 75.3h1M220.2 95.5h1M173.1 97.6h1" stroke="#000" stroke-opacity="0.25"/>
<path d="M220.3 90.6h1M242.2 94.3h1M225.9 58.9h1M235.1 100.4h1M173.5 77.6h1M161.8 90.6h1M195.2 101.8h1M156.6 77.7h1M157.3 78.4h1M164.4 100.0h1M170.8 101.7h1M190.1 100.9h1M161.9 76.6h1M223.3 65.4h1M157.4 101.7h1M206.8 58.9h1M170.3 83.4h1M240.3 81.5h1M210.9 51.3h1M184.1 94.6h1M154.1 80.6h1M221.0 84.3h1M185.5 100.6h1M184.0 93.0h1M168.3 88.2h1" stroke="#000" stroke-opacity="0.25"/>
<path d="M233.4 71.3h1M159.3 93.9h1M172.5 97.7h1M203.1 96.0h1M207.8 53.4h1M222.9 68.7h1M171.2 77.8h1M181.2 97.4h1M182.8 72.3h1M201.2 84.5h1M226.7 73.9h1M216.0 96.1h1M214.1 61.7h1M162.2 99.8h1M228.7 99.3h1M222.5 84.4h1M174.2 87.4h1M241.6 78.2h1M230.1 81.1h1M167.1 88.6h1M162.9 99.0h1M182.5 99.4h1M201.5 84.6h1M217.6 54.5h1M182.5 95.1h1" stroke="#000" stroke-opacity="0.25"/>
<path d="M154.6 72.3h1M213.7 61.7h1M206.8 67.7h1M190.5 72.0h1M164.5 91.1h1M213.7 96.6h1M231.9 91.0h1M201.6 76.4h1M159.0 83.8h1M210.3 69.8h1M205.7 81.7h1M174.7 81.6h1M205.1 72.1h1M213.2 59.2h1M207.2 93.9h1M157.7 89.4h1M233.8 72.6h1M235.0 79.5h1M205.8 80.4h1M162.3 97.3h1M218.3 95.9h1M210.3 50.6h1M195.2 83.7h1M167.5 87.9h1M171.3 98.4h1" stroke="#000" stroke-opacity="0.25"/>
<path d="M229.1 69.0h1M212.6 81.8h1M190.6 86.7h1M231.9 86.8h1M230.4 64.6h1M161.1 89.7h1M181.8 99.9h1M176.5 74.2h1M207.3 99.2h1M217.3 75.4h1M235.3 80.5h1M218.5 94.6h1M185.6 101.3h1M212.0 95.1h1M213.2 58.5h1M206.8 56.3h1M157.9 84.9h1M197.5 93.3h1M180.3 96.9h1M209.6 61.2h1M228.3 75.9h1M231.2 95.9h1M239.6 95.5h1M232.6 76.3h1M240.7 77.6h1" stroke="#000" stroke-opacity="0.25"/>
<path d="M161.7 78.5h1M179.8 78.5h1M227.0 76.3h1M191.2 82.2h1M165.3 94.1h1M234.5 84.6h1M196.1 93.2h1M165.3 95.2h1M213.9 86.8h1M227.6 99.0h1M205.0 100.9h1M233.0 60.9h1M200.4 100.0h1M154.4 98.8h1M203.7 72.8h1M242.7 76.7h1M219.8 75.0h1M175.9 78.9h1M207.6 94.3h1M229.6 82.8h1" stroke="#000" stroke-opacity="0.25"/>
<path d="M186.0 63.6h1M216.2 101.3h1M175.1 94.4h1M209.1 71.1h1M193.5 92.7h1M196.1 64.7h1M218.4 96.3h1M206.0 88.5h1M204.6 60.5h1M185.1 93.8h1M215.8 86.3h1M225.9 92.1h1M169.1 93.7h1M191.2 84.9h1M184.1 84.7h1M181.9 91.2h1M198.5 58.3h1M176.7 94.0h1M218.9 95.0h1M190.9 59.9h1M205.4 87.7h1M221.8 85.0h1M168.5 95.6h1M188.6 89.7h1M168.0 58.1h1" stroke="#000" stroke-opacity="0.27"/>
<path d="M214.5 88.8h1M198.3 98.6h1M194.4 96.0h1M185.0 95.9h1M208.2 66.6h1M202.6 85.6h1M189.8 59.8h1M210.3 89.0h1M199.3 58.5h1M187.6 93.0h1M212.2 54.1h1M198.4 90.7h1M227.3 96.2h1M200.4 93.9h1M217.0 78.3h1M222.3 97.4h1M195.7 51.7h1M187.2 95.1h1M201.9 84.5h1M224.6 76.5h1M183.5 93.7h1M212.1 82.4h1M182.1 63.7h1M209.5 87.8h1M181.0 90.1h1" stroke="#000" stroke-opacity="0.27"/>
<path d="M195.7 98.0h1M203.5 57.4h1M184.0 56.4h1M195.4 66.6h1M173.8 46.2h1M174.2 88.6h1M198.8 89.0h1M190.9 59.8h1M217.2 98.1h1M191.0 63.7h1M188.3 59.3h1M180.6 67.6h1M203.0 77.9h1M199.0 94.5h1M196.6 51.4h1M208.3 85.0h1M201.2 58.9h1M205.3 90.0h1M185.7 94.1h1M202.7 58.6h1M222.4 81.5h1M203.5 62.4h1M214.2 89.3h1M203.7 86.6h1M207.3 66.3h1" stroke="#000" stroke-opacity="0.27"/>
<path d="M222.6 99.9h1M201.2 55.6h1M196.2 66.6h1M215.8 89.8h1M181.9 60.3h1M224.2 86.8h1M197.1 57.6h1M196.7 96.3h1M197.0 65.3h1M211.1 57.0h1M225.9 92.1h1M194.8 98.3h1M221.5 87.5h1M196.9 54.5h1M214.8 92.9h1M186.5 83.5h1M210.1 86.8h1M227.0 88.4h1M213.0 100.2h1M214.4 63.2h1M206.9 50.2h1M186.4 98.6h1M181.3 93.3h1M216.0 89.2h1M190.0 55.1h1" stroke="#000" stroke-opacity="0.27"/>
<path d="M224.4 86.2h1M191.2 57.4h1M198.5 58.0h1M222.3 90.4h1M190.1 57.5h1M206.5 58.9h1M188.5 93.8h1M174.1 55.4h1M214.9 88.4h1M220.7 66.9h1M179.0 97.1h1M199.9 96.6h1M221.8 91.5h1M191.8 59.1h1M174.1 100.9h1M204.8 82.8h1M202.1 56.8h1M182.6 96.4h1M217.3 86.1h1M192.1 90.1h1M200.9 99.2h1M182.3 95.6h1M194.1 56.2h1M192.5 63.6h1M200.8 91.7h1" stroke="#000" stroke-opacity="0.27"/>
<path d="M181.4 85.6h1M199.5 60.9h1M200.3 57.0h1M192.2 59.5h1M192.4 56.5h1M212.1 88.5h1M203.2 61.6h1M218.6 82.2h1M224.8 82.8h1M192.7 61.3h1M181.8 91.6h1M170.4 50.4h1M211.5 55.3h1M158.7 57.4h1M230.4 84.0h1M208.2 54.1h1M193.7 91.1h1M183.7 94.3h1M220.9 86.6h1M215.0 88.5h1M170.8 89.5h1M202.6 78.7h1M202.6 54.6h1M232.3 98.8h1M199.8 56.2h1" stroke="#000" stroke-opacity="0.27"/>
<path d="M225.7 88.8h1M207.9 48.3h1M196.7 68.7h1M217.4 83.5h1M181.0 75.1h1M196.1 65.7h1M196.5 96.7h1M188.4 61.0h1M196.2 89.9h1M222.4 83.3h1M171.7 64.9h1M166.8 94.5h1M191.7 89.1h1M218.6 80.0h1M203.5 92.9h1M181.2 91.2h1M205.3 88.0h1M181.8 64.2h1M210.4 66.4h1M182.5 84.1h1M184.2 98.6h1M155.8 91.3h1M196.5 59.9h1M225.3 95.7h1M214.7 100.8h1" stroke="#000" stroke-opacity="0.27"/>
<path d="M195.7 65.8h1M192.7 93.6h1M189.7 62.1h1M194.0 90.1h1M180.9 88.4h1M225.5 91.3h1M209.4 66.0h1M179.8 86.0h1M181.2 100.0h1M162.3 66.1h1M196.8 63.2h1M182.2 90.6h1M175.0 101.0h1M222.1 94.1h1M221.4 86.7h1M174.9 86.3h1M198.6 90.4h1M158.7 91.7h1M198.2 55.9h1M211.1 89.1h1M181.4 85.9h1M180.1 57.6h1M210.1 86.3h1M199.3 92.3h1M205.2 93.7h1" stroke="#000" stroke-opacity="0.27"/>
<path d="M219.7 89.9h1M220.7 101.1h1M186.0 92.5h1M197.5 86.1h1M197.4 65.0h1M200.7 92.9h1M206.9 65.7h1M199.4 57.0h1M226.9 98.1h1M220.9 94.4h1M217.4 65.2h1M241.4 89.5h1M176.2 58.3h1M215.3 84.8h1M224.0 96.7h1M219.1 93.3h1M174.1 88.2h1M187.2 88.3h1M216.7 94.4h1M181.8 53.7h1M167.1 88.9h1M179.9 58.7h1M196.7 55.0h1M197.7 56.2h1M192.7 52.3h1" stroke="#000" stroke-opacity="0.27"/>
<path d="M194.4 96.7h1M205.8 92.0h1M212.8 94.2h1M168.7 99.8h1M194.9 61.9h1M156.1 62.9h1M225.3 94.5h1M165.8 59.7h1M203.8 52.9h1M204.4 70.0h1M200.8 90.5h1M216.2 82.1h1M194.1 61.3h1M174.0 93.7h1M201.1 84.5h1M195.7 91.1h1M211.6 96.6h1M189.7 100.7h1M179.5 81.1h1M182.1 91.6h1M218.9 89.8h1M179.1 93.0h1M183.1 93.8h1M215.2 94.9h1M197.1 63.2h1" stroke="#000" stroke-opacity="0.27"/>
<path d="M207.9 95.7h1M201.6 50.4h1M213.5 79.9h1M198.6 56.1h1M199.8 59.1h1M193.2 64.2h1M220.8 77.9h1M208.6 67.6h1M216.0 96.9h1M179.3 87.4h1M178.8 53.7h1M187.0 90.6h1M204.7 83.1h1M177.7 94.6h1M194.7 95.8h1M224.6 91.5h1M179.1 99.3h1M198.1 66.5h1M179.7 87.7h1M193.1 54.7h1M220.2 92.3h1M178.8 63.0h1M192.4 57.5h1M222.8 98.0h1M208.3 98.5h1" stroke="#000" stroke-opacity="0.27"/>
<path d="M204.1 54.0h1M182.8 97.2h1M214.7 90.7h1M185.0 87.9h1M175.9 93.5h1M220.3 96.1h1M196.5 61.7h1M208.5 96.9h1M205.1 61.8h1M187.4 63.2h1M180.7 94.3h1M171.5 88.6h1M201.6 53.1h1M212.6 57.1h1M184.3 55.4h1M177.3 60.4h1M208.4 54.6h1M204.1 57.4h1M223.9 85.3h1M221.0 90.1h1M222.0 93.3h1M202.1 61.6h1M205.5 98.8h1M183.8 93.1h1M187.5 95.8h1" stroke="#000" stroke-opacity="0.27"/>
<path d="M164.2 88.5h1M182.0 94.8h1M191.8 83.2h1M198.8 67.5h1M194.9 87.2h1M180.8 86.8h1M189.2 86.0h1M201.9 90.4h1M210.5 62.0h1M164.3 53.1h1M204.4 95.0h1M218.6 96.0h1M228.4 94.3h1M200.2 57.5h1M215.0 89.3h1M220.6 87.0h1M224.5 93.4h1M191.5 84.6h1M219.7 81.4h1M182.1 91.7h1M202.4 61.5h1M200.3 96.6h1M220.8 94.3h1M173.7 94.1h1M211.2 55.4h1" stroke="#000" stroke-opacity="0.27"/>
<path d="M199.7 88.1h1M191.8 90.4h1M193.4 62.9h1M202.1 50.4h1M230.1 78.5h1M196.0 60.5h1M216.3 88.4h1M186.5 86.3h1M197.3 78.9h1M177.7 97.7h1M164.7 60.2h1M218.7 88.4h1M200.3 91.3h1M220.6 96.6h1M183.5 100.0h1M172.8 90.3h1M208.2 63.6h1M206.7 68.7h1M183.8 91.5h1M223.1 95.5h1M201.5 66.4h1M181.7 92.7h1M189.8 68.9h1M177.9 80.0h1M217.2 87.2h1" stroke="#000" stroke-opacity="0.27"/>
<path d="M231.5 93.8h1M213.4 90.4h1M189.2 91.7h1M192.4 87.7h1M213.3 82.5h1M196.6 91.5h1M189.6 91.3h1M213.2 87.1h1M188.1 93.4h1M186.4 63.9h1M180.8 98.0h1M196.1 90.5h1M215.8 76.7h1M198.1 63.5h1M223.3 88.0h1M162.0 48.2h1M229.1 91.7h1M199.1 58.0h1M219.7 83.3h1M197.4 89.5h1M217.9 79.2h1M182.5 90.2h1M216.7 76.7h1M190.5 51.1h1M204.4 61.6h1" stroke="#000" stroke-opacity="0.27"/>
<path d="M178.6 91.8h1M198.2 64.8h1M220.9 95.3h1M192.6 89.7h1M217.1 92.2h1M178.0 88.6h1M215.1 81.8h1M200.6 60.4h1M187.6 89.7h1M175.6 89.1h1M220.7 75.6h1M209.8 88.0h1M208.3 91.9h1M216.4 87.9h1M207.5 56.7h1M214.3 64.9h1M200.3 64.8h1M219.9 76.8h1M213.7 94.9h1M187.5 97.4h1M195.2 55.4h1M186.0 94.8h1M183.6 100.8h1M223.3 96.7h1M208.2 50.8h1" stroke="#000" stroke-opacity="0.27"/>
<path d="M185.7 93.4h1M214.1 91.6h1M207.4 80.4h1M205.5 69.0h1M191.1 97.5h1M198.3 59.2h1M213.1 101.2h1M192.7 59.2h1M197.3 83.5h1M207.4 62.4h1M214.4 100.5h1M192.1 89.4h1M207.8 90.8h1M201.5 50.2h1M195.1 56.9h1M179.4 51.9h1M192.2 85.7h1M174.1 98.5h1M200.4 66.4h1M202.7 86.5h1M178.4 87.9h1M180.4 86.8h1M170.7 99.9h1M191.2 82.9h1M211.3 91.9h1" stroke="#000" stroke-opacity="0.27"/>
<path d="M191.5 66.9h1M237.1 87.6h1M190.2 95.2h1M226.1 82.9h1M214.8 91.6h1M223.6 84.9h1M187.9 88.1h1M218.6 55.8h1M197.5 95.0h1M177.0 53.2h1M177.3 97.3h1M175.8 50.1h1M188.3 96.6h1M213.2 86.1h1M176.4 78.5h1M198.2 63.9h1M192.4 93.5h1M211.3 93.4h1M220.5 90.2h1M175.4 55.0h1M180.8 93.6h1M202.6 92.0h1M154.5 91.2h1M195.0 92.1h1M218.9 86.9h1" stroke="#000" stroke-opacity="0.27"/>
<path d="M180.3 94.5h1M218.5 97.7h1M235.8 86.7h1M211.0 67.8h1M183.4 85.8h1M192.9 84.0h1M197.7 56.2h1M172.8 83.3h1M185.0 70.4h1M205.0 61.3h1M196.5 59.4h1M218.8 80.3h1M224.8 90.0h1M203.6 58.8h1M193.1 58.0h1M194.7 63.2h1M188.4 63.3h1M204.3 91.2h1M185.7 88.7h1M192.8 52.0h1M235.4 84.1h1M185.4 99.1h1M210.2 69.2h1M195.4 57.3h1M200.1 59.2h1" stroke="#000" stroke-opacity="0.27"/>
<path d="M220.3 89.1h1M209.0 94.0h1M169.5 47.0h1M190.9 61.2h1M216.5 95.0h1M203.3 59.5h1M213.7 90.4h1M216.6 94.4h1M172.2 57.7h1M211.0 55.2h1M180.2 85.4h1M197.2 56.9h1M181.4 85.0h1M202.2 87.2h1M180.9 67.4h1M184.9 82.1h1M188.8 57.7h1M204.3 95.2h1M199.5 88.8h1M210.2 57.9h1M182.9 99.9h1M192.7 61.4h1M223.0 89.3h1M205.2 80.4h1M190.9 82.9h1" stroke="#000" stroke-opacity="0.27"/>
<path d="M202.9 65.9h1M189.9 91.5h1M189.4 90.4h1M216.6 86.6h1M206.5 65.2h1M213.7 54.8h1M216.5 82.8h1M221.7 94.9h1M216.1 61.3h1M199.9 56.5h1M197.4 95.2h1M195.7 95.1h1M201.5 94.0h1M206.9 92.8h1M217.1 90.6h1M173.6 95.0h1M230.9 92.4h1M212.0 82.8h1M194.1 96.1h1M207.9 88.9h1M214.9 91.2h1M199.9 55.8h1M190.4 98.0h1M175.0 53.0h1M214.3 83.2h1" stroke="#000" stroke-opacity="0.27"/>
<path d="M177.5 99.3h1M194.3 91.6h1M174.3 92.3h1M219.5 92.1h1M180.9 98.3h1M180.7 92.3h1M218.0 81.5h1M188.7 97.5h1M172.4 95.7h1M186.0 95.8h1M188.1 83.5h1M216.3 93.5h1M166.7 85.4h1M206.5 56.5h1M222.5 78.2h1M176.8 94.8h1M208.8 60.1h1M205.5 90.3h1M170.5 91.8h1M222.3 87.3h1M214.1 86.2h1M223.2 83.0h1M189.6 50.2h1M195.4 64.8h1M202.3 88.4h1" stroke="#000" stroke-opacity="0.27"/>
<path d="M187.2 80.4h1M211.7 89.3h1M190.1 77.6h1M210.4 96.0h1M211.1 84.9h1M184.3 93.3h1M190.4 59.6h1M211.5 66.2h1M211.5 53.5h1M206.4 58.4h1M219.2 91.0h1M218.8 86.3h1M219.9 94.0h1M206.7 60.5h1M218.2 83.8h1M182.5 90.4h1M186.6 91.7h1M160.0 95.7h1M182.6 83.4h1M215.1 90.1h1M225.1 90.0h1M188.7 95.7h1M198.2 60.4h1M183.6 52.6h1M211.3 91.9h1" stroke="#000" stroke-opacity="0.27"/>
<path d="M192.5 58.9h1M190.3 65.8h1M183.4 101.0h1M190.8 52.4h1M194.3 58.4h1M176.1 96.5h1M215.1 79.8h1M213.6 86.6h1M191.0 54.6h1M187.3 96.4h1M222.0 94.8h1M171.2 90.9h1M160.4 51.2h1M198.2 64.4h1M228.9 85.8h1M217.7 94.2h1M207.3 63.2h1M220.9 92.0h1M204.1 59.2h1M206.0 55.2h1M166.2 58.2h1M216.3 76.2h1M216.9 88.1h1M208.9 69.5h1M209.3 81.0h1" stroke="#000" stroke-opacity="0.27"/>
<path d="M189.4 88.8h1M212.8 98.1h1M170.0 95.8h1M188.1 84.4h1M204.8 92.5h1M194.4 65.6h1M190.6 86.0h1M227.0 92.6h1M180.1 58.2h1M204.0 93.0h1M182.7 81.9h1M183.2 99.5h1M218.7 90.2h1M212.3 87.2h1M187.1 58.6h1M188.6 57.3h1M170.1 98.3h1M210.1 81.2h1M215.5 94.9h1M190.7 66.2h1M179.2 97.4h1M214.4 94.1h1M187.7 56.6h1M220.6 81.3h1M216.2 86.6h1" stroke="#000" stroke-opacity="0.27"/>
<path d="M215.9 98.3h1M203.0 64.1h1M190.4 49.1h1M175.5 81.8h1M197.3 95.0h1M218.6 78.2h1M174.2 94.8h1M190.2 62.8h1M216.3 93.6h1M210.6 84.9h1M201.4 53.4h1M211.1 91.3h1M196.6 94.0h1M222.2 77.5h1M201.6 82.3h1M197.9 89.6h1M168.8 89.0h1M215.5 62.3h1M188.8 99.2h1M178.3 55.0h1M172.0 92.0h1M185.3 93.5h1M228.4 95.3h1M209.2 89.9h1M211.9 59.7h1" stroke="#000" stroke-opacity="0.27"/>
<path d="M219.2 79.5h1M196.9 51.8h1M213.7 73.1h1M196.6 94.5h1M205.9 59.8h1M192.5 80.6h1M169.8 62.1h1M231.1 90.7h1M210.3 93.2h1M169.8 87.0h1M186.3 93.9h1M157.5 96.1h1M190.9 90.2h1M211.2 87.2h1M219.0 90.9h1M177.3 58.0h1M189.8 58.3h1M197.4 88.7h1M194.3 97.1h1M221.7 97.5h1M231.9 81.3h1M219.5 87.8h1M191.6 92.6h1M218.1 90.8h1M215.6 93.2h1" stroke="#000" stroke-opacity="0.27"/>
<path d="M219.6 87.9h1M202.9 88.6h1M197.7 93.5h1M201.1 68.0h1M219.7 94.3h1M186.6 93.1h1M177.6 98.4h1M186.6 57.4h1M197.2 61.9h1M196.5 59.5h1M176.9 50.0h1M223.7 86.1h1M184.3 61.9h1M192.7 87.1h1M189.1 60.4h1M187.3 92.0h1M209.1 61.5h1M191.3 58.6h1M188.4 61.7h1M162.2 57.4h1M184.2 88.5h1M180.3 60.4h1M218.0 81.9h1M192.0 91.7h1M200.6 62.5h1" stroke="#000" stroke-opacity="0.27"/>
<path d="M181.1 76.6h1M206.4 94.0h1M187.9 81.9h1M188.6 96.4h1M222.9 90.0h1M188.4 62.5h1M217.5 99.1h1M214.7 61.8h1M198.2 87.1h1M191.2 87.9h1M198.3 89.3h1M192.1 58.6h1M218.3 93.6h1M220.3 83.3h1M218.1 88.8h1M181.8 90.1h1M223.5 92.6h1M181.1 97.4h1M185.1 53.6h1M186.9 57.6h1M186.7 95.9h1M221.7 88.0h1M187.9 94.7h1M219.3 76.5h1M213.4 84.2h1" stroke="#000" stroke-opacity="0.27"/>
<path d="M209.3 71.8h1M198.7 56.8h1M197.1 57.1h1M209.5 92.3h1M188.9 86.6h1M185.1 61.4h1M229.0 87.6h1M194.6 65.0h1M193.9 96.9h1M212.9 96.7h1M225.4 85.2h1M199.1 87.4h1M183.6 78.3h1M178.8 99.1h1M197.4 97.2h1M163.7 92.1h1M196.0 89.8h1M222.7 97.5h1M185.4 82.0h1M185.7 100.1h1M224.9 87.6h1M183.1 89.4h1M192.4 98.9h1M223.6 93.1h1M190.4 70.3h1" stroke="#000" stroke-opacity="0.27"/>
<path d="M181.0 91.5h1M225.8 94.5h1M207.1 95.3h1M231.0 79.0h1M215.9 85.4h1M212.9 95.6h1M171.0 86.9h1M202.2 70.0h1M185.6 94.6h1M180.6 85.2h1M233.8 99.0h1M167.3 57.0h1M194.3 90.5h1M190.8 98.9h1M181.4 56.2h1M197.9 59.3h1M172.2 93.5h1M222.3 82.2h1M207.6 89.8h1M213.0 63.1h1M183.7 55.5h1M188.9 88.3h1M220.1 78.6h1M225.4 101.5h1M216.5 86.2h1" stroke="#000" stroke-opacity="0.27"/>
<path d="M201.4 63.7h1M216.1 90.1h1M186.1 95.6h1M184.8 93.8h1M181.1 99.7h1M195.0 62.0h1M202.0 63.9h1M182.3 63.9h1M159.0 54.9h1M181.8 53.3h1M199.5 49.2h1M201.1 59.0h1M219.3 88.6h1M201.1 96.7h1M223.7 84.6h1M192.0 96.6h1M221.8 62.1h1M225.4 85.6h1M195.1 82.6h1M170.7 51.4h1M203.6 62.2h1M176.7 46.9h1M201.8 61.5h1M185.2 90.4h1M177.9 88.5h1" stroke="#000" stroke-opacity="0.27"/>
<path d="M192.7 91.4h1M200.6 93.6h1M216.2 70.3h1M195.5 64.2h1M185.9 94.0h1M196.6 56.5h1M215.2 91.3h1M203.3 64.8h1M180.6 56.1h1M173.3 88.9h1M185.7 65.3h1M203.6 54.9h1M215.8 92.2h1M196.9 55.8h1M181.1 54.1h1M176.4 89.4h1M178.8 87.9h1M210.7 87.6h1M174.6 87.0h1M189.3 94.5h1M207.4 61.8h1M180.7 53.8h1M214.4 100.1h1M190.6 54.0h1M216.3 87.7h1" stroke="#000" stroke-opacity="0.27"/>
<path d="M192.8 59.8h1M214.7 86.6h1M191.5 100.0h1M189.5 100.9h1M178.3 69.9h1M197.3 87.0h1M222.8 91.8h1M183.3 51.5h1M184.3 61.1h1M202.3 61.7h1M221.1 61.8h1M172.5 83.5h1M222.1 77.7h1M212.3 95.8h1M202.5 60.4h1M197.0 53.1h1M211.4 90.6h1M168.4 59.0h1M176.0 50.9h1M197.3 57.6h1M213.7 91.6h1M224.1 94.8h1M172.6 83.3h1M193.2 89.9h1M204.8 55.7h1" stroke="#000" stroke-opacity="0.27"/>
<path d="M223.7 91.7h1M217.2 89.9h1M218.7 86.2h1M199.6 99.1h1M222.9 84.1h1M176.1 67.4h1M186.7 97.5h1M217.1 84.7h1M197.1 90.8h1M232.4 88.4h1M205.7 58.6h1M166.4 65.2h1M210.6 92.5h1M167.5 95.3h1M189.2 65.5h1M217.6 90.8h1M196.0 56.6h1M216.4 86.4h1M200.0 59.3h1M179.7 54.5h1M196.8 59.4h1M218.1 98.6h1M216.6 83.1h1M203.1 61.3h1M190.6 95.5h1" stroke="#000" stroke-opacity="0.27"/>
<path d="M164.0 61.9h1M213.4 60.7h1M203.6 59.3h1M219.2 88.3h1M206.6 87.0h1M218.2 86.0h1M210.6 61.0h1M217.2 74.4h1M187.4 77.2h1M226.1 96.0h1M182.5 59.6h1M186.7 82.6h1M189.4 96.3h1M187.0 62.6h1M208.9 58.1h1M190.8 63.1h1M225.6 99.9h1M213.1 83.9h1M186.4 56.1h1M180.3 93.4h1M203.2 95.2h1M222.8 83.1h1M224.4 81.6h1M222.8 78.6h1M181.8 89.6h1" stroke="#000" stroke-opacity="0.27"/>
<path d="M205.8 89.4h1M182.9 93.4h1M171.7 88.8h1M177.6 85.7h1M195.6 100.6h1M213.0 83.1h1M178.1 54.6h1M201.7 56.9h1M185.6 86.9h1M219.7 90.7h1M221.8 88.5h1M222.9 87.4h1M188.6 90.7h1M217.9 83.2h1M194.7 61.0h1M177.3 60.9h1M213.0 65.5h1M200.6 85.2h1M186.6 90.3h1M222.2 100.2h1M170.6 56.1h1M201.0 82.5h1M213.9 90.6h1M224.9 88.3h1M181.2 92.1h1" stroke="#000" stroke-opacity="0.27"/>
<path d="M217.8 88.6h1M224.1 97.2h1M180.0 94.4h1M169.7 59.7h1M225.0 78.3h1M183.2 61.5h1M211.8 68.4h1M198.3 46.2h1M189.5 62.6h1M217.3 90.9h1M179.3 99.2h1M222.9 91.3h1M221.8 84.9h1M197.7 60.8h1M182.1 94.4h1M210.3 95.2h1M186.8 90.1h1M177.2 85.2h1M198.7 88.6h1M207.9 91.0h1M206.3 87.4h1M191.8 60.1h1M189.0 59.1h1M212.9 78.4h1M194.7 94.4h1" stroke="#000" stroke-opacity="0.27"/>
<path d="M199.0 91.9h1M205.2 92.8h1M176.1 101.0h1M198.4 49.0h1M221.2 86.4h1M193.2 60.9h1M215.7 85.2h1M208.8 62.7h1M187.4 65.2h1M216.6 89.1h1M179.0 60.3h1M206.8 91.0h1M178.5 68.9h1M206.8 59.6h1M223.9 86.2h1M223.7 89.2h1M175.9 58.3h1M200.1 69.8h1M200.9 90.2h1M166.0 93.7h1M212.7 71.4h1M205.5 89.4h1M217.7 84.8h1M221.8 92.6h1M209.3 88.3h1" stroke="#000" stroke-opacity="0.27"/>
<path d="M213.8 97.9h1M193.1 63.5h1M207.8 62.7h1M175.8 69.8h1M177.1 101.4h1M213.3 99.8h1M196.2 81.6h1M184.4 73.6h1M205.1 58.5h1M203.7 89.3h1M177.8 90.0h1M190.5 89.8h1M192.0 90.8h1M185.4 90.0h1M194.4 63.2h1M180.1 76.3h1M184.8 50.0h1M216.5 85.4h1M186.7 59.5h1M217.7 83.3h1M175.2 89.6h1M195.9 79.0h1M189.6 96.2h1M217.2 86.7h1M192.4 58.8h1" stroke="#000" stroke-opacity="0.27"/>
<path d="M211.4 87.1h1M194.8 56.1h1M191.2 95.7h1M178.2 95.3h1M204.9 64.7h1M203.8 51.5h1M217.5 85.7h1M193.7 95.5h1M196.9 53.0h1M195.0 66.1h1M226.1 87.5h1M169.8 58.0h1M193.8 61.4h1M175.4 90.4h1M179.6 48.2h1M197.0 85.4h1M161.9 65.1h1M220.6 93.4h1M182.2 90.3h1M200.1 54.2h1M196.6 91.4h1M190.6 87.4h1M212.8 56.8h1M178.8 93.7h1M186.1 92.8h1" stroke="#000" stroke-opacity="0.27"/>
<path d="M184.7 57.8h1M195.7 91.6h1M229.6 96.2h1M197.6 89.5h1M192.0 100.4h1M176.8 93.8h1M207.6 61.5h1M191.9 60.6h1M206.4 81.7h1M211.8 47.2h1M220.6 67.2h1M217.7 78.7h1M203.8 51.4h1M216.2 82.8h1M181.6 54.8h1M219.7 86.2h1M211.8 82.9h1M188.8 84.2h1M223.1 81.8h1M212.1 79.2h1M192.8 55.8h1M196.8 94.8h1M197.3 93.8h1M226.8 96.9h1M214.7 99.1h1" stroke="#000" stroke-opacity="0.27"/>
<path d="M196.4 95.5h1M187.9 100.3h1M206.4 95.8h1M159.7 57.3h1M191.8 92.3h1M170.1 88.2h1M217.9 92.0h1M221.3 97.8h1M203.3 60.3h1M191.2 65.6h1M200.6 49.7h1M192.5 58.7h1M202.8 61.1h1M198.3 93.1h1M195.4 90.3h1M202.8 62.5h1M187.9 66.4h1M219.5 88.9h1M230.8 95.0h1M194.5 87.7h1M170.2 65.7h1M184.0 99.6h1M209.6 86.1h1M222.6 96.3h1M211.0 80.9h1" stroke="#000" stroke-opacity="0.27"/>
<path d="M177.8 88.6h1M214.7 88.0h1M217.9 80.7h1M206.6 59.0h1M188.2 62.0h1M222.2 93.6h1M171.6 90.3h1M191.3 88.4h1M188.1 56.4h1M200.1 61.5h1M221.7 74.2h1M219.4 96.2h1M212.3 90.5h1M190.5 68.5h1M196.9 93.4h1M198.5 58.5h1M215.3 86.6h1M199.5 60.2h1M213.3 88.4h1M166.7 93.0h1M171.8 91.4h1M190.7 98.0h1M196.5 86.7h1M173.9 88.4h1M192.5 98.5h1" stroke="#000" stroke-opacity="0.27"/>
<path d="M217.6 86.9h1M190.9 97.3h1M187.8 86.3h1M173.0 51.9h1M183.2 83.8h1M182.2 59.4h1M198.7 56.2h1M210.4 92.7h1M174.6 90.6h1M198.4 59.5h1M190.6 86.2h1M175.0 52.5h1M177.7 98.0h1M221.0 79.2h1M170.3 53.9h1M219.1 95.7h1M168.9 95.7h1M187.6 84.3h1M216.2 86.1h1M199.6 98.8h1M220.1 82.7h1M181.1 64.6h1M179.2 84.2h1M196.2 86.5h1M230.3 91.5h1" stroke="#000" stroke-opacity="0.27"/>
<path d="M223.8 92.9h1M190.5 97.2h1M187.3 97.0h1M170.7 91.4h1M202.1 93.1h1M202.2 62.3h1M190.1 62.0h1M228.3 88.0h1M220.1 86.6h1M208.8 82.4h1M182.9 93.0h1M222.8 90.2h1M189.1 97.2h1M192.0 100.2h1M216.9 89.2h1M212.7 87.3h1M205.2 95.4h1M223.4 89.1h1M181.9 94.8h1M220.6 74.8h1M222.0 92.3h1M169.4 57.0h1M219.5 89.7h1M201.1 52.6h1M186.9 97.1h1" stroke="#000" stroke-opacity="0.27"/>
<path d="M189.9 95.5h1M186.1 85.6h1M197.9 52.8h1M189.0 100.4h1M184.7 59.4h1M219.8 92.2h1M197.8 88.9h1M213.1 96.8h1M184.2 58.5h1M184.2 65.4h1M225.1 98.4h1M193.8 97.8h1M214.8 94.7h1M181.7 87.7h1M189.0 96.3h1M174.9 59.5h1M186.0 83.4h1M185.9 89.6h1M192.2 65.0h1M217.9 84.8h1M200.6 82.3h1M195.2 90.8h1M199.1 85.0h1M183.9 64.8h1M214.1 83.4h1" stroke="#000" stroke-opacity="0.27"/>
<path d="M193.7 96.4h1M161.8 90.2h1M181.7 94.7h1M179.4 98.0h1M166.6 90.2h1M213.7 61.6h1M198.6 89.6h1M199.6 58.2h1M186.3 84.3h1M213.8 90.9h1M218.4 92.5h1M192.0 56.2h1M210.3 79.9h1M217.5 91.9h1M180.8 52.2h1M215.6 98.3h1M217.1 92.7h1M187.9 86.6h1M177.5 60.8h1M202.2 62.9h1M190.2 80.1h1M201.2 59.2h1M211.1 94.7h1M190.4 58.5h1M178.3 68.3h1" stroke="#000" stroke-opacity="0.27"/>
<path d="M221.6 74.0h1M173.1 92.0h1M208.0 77.6h1M174.9 86.8h1M191.6 81.7h1M193.2 87.8h1M213.4 90.4h1M202.9 58.7h1M192.1 60.9h1M196.7 83.8h1M188.7 85.8h1M215.1 84.9h1M221.2 98.1h1M227.1 88.2h1M202.3 96.5h1M186.6 56.7h1M184.2 95.5h1M210.7 72.4h1M222.3 92.8h1M205.0 47.8h1M209.8 89.3h1M196.8 58.9h1M201.3 56.5h1M172.2 90.3h1M179.5 81.8h1" stroke="#000" stroke-opacity="0.27"/>
<path d="M191.3 50.6h1M185.1 92.7h1M222.1 89.7h1M187.9 89.3h1M193.7 56.2h1M181.2 93.9h1M226.0 87.8h1M218.1 89.1h1M193.4 88.8h1M211.1 79.0h1M201.0 60.5h1M186.0 57.4h1M192.5 51.1h1M196.1 62.9h1M225.4 87.0h1M188.1 96.5h1M196.7 73.1h1M194.5 88.8h1M179.0 86.7h1M201.9 55.3h1M195.3 94.0h1M156.6 97.2h1M214.9 59.0h1M187.6 92.7h1M182.7 93.2h1" stroke="#000" stroke-opacity="0.27"/>
<path d="M180.2 86.4h1M196.0 71.4h1M193.1 61.5h1M226.6 93.8h1M181.9 49.6h1M219.8 82.0h1M188.4 64.9h1M231.4 84.9h1M188.2 84.0h1M214.3 96.3h1M203.7 96.9h1M166.2 92.4h1M187.5 63.7h1M219.2 90.2h1M196.1 90.0h1M202.3 52.0h1M212.9 84.0h1M186.1 58.8h1M191.9 59.2h1M180.1 88.8h1M223.6 84.0h1M207.4 82.2h1M179.5 100.4h1M214.8 87.2h1M201.2 88.7h1" stroke="#000" stroke-opacity="0.27"/>
<path d="M175.7 82.7h1M187.4 89.8h1M164.3 59.0h1M182.8 59.1h1M168.9 93.4h1M221.7 86.3h1M200.0 53.8h1M213.7 95.1h1M224.2 78.8h1M188.8 52.9h1M190.7 93.7h1M216.4 93.1h1M199.1 63.6h1M220.5 84.6h1M206.1 71.7h1M183.3 96.0h1M222.5 85.6h1M200.1 99.7h1M200.2 61.2h1M200.9 82.1h1M208.7 94.6h1M190.5 89.0h1M186.4 100.9h1M204.4 61.6h1M212.7 83.1h1" stroke="#000" stroke-opacity="0.27"/>
<path d="M192.3 71.6h1M225.8 94.1h1M221.7 85.1h1M174.5 96.0h1M185.9 56.2h1M218.3 91.9h1M195.5 57.9h1M203.1 86.1h1M194.3 86.0h1M166.5 98.6h1M225.8 93.4h1M191.6 81.5h1M193.1 88.0h1M203.4 68.7h1M206.4 93.9h1M198.6 89.5h1M185.3 90.2h1M183.0 59.0h1M214.7 86.5h1M164.7 56.8h1M221.0 83.2h1M192.2 95.1h1M225.4 92.8h1M216.8 58.7h1M204.1 59.4h1" stroke="#000" stroke-opacity="0.27"/>
<path d="M216.5 89.0h1M196.0 61.5h1M162.9 58.6h1M217.5 95.0h1M197.5 91.7h1M224.1 92.9h1M198.9 90.1h1M214.7 100.1h1M175.7 90.2h1M184.8 89.2h1M217.5 84.0h1M187.4 93.0h1M198.3 99.1h1M219.4 93.8h1M201.2 58.4h1M190.3 48.7h1M225.6 90.3h1M209.8 62.8h1M191.9 62.1h1M221.3 87.3h1M220.3 94.1h1M225.9 91.1h1M161.6 53.4h1M189.9 86.0h1M171.4 93.8h1" stroke="#000" stroke-opacity="0.27"/>
<path d="M190.3 58.3h1M208.4 60.8h1M193.1 94.6h1M212.7 92.8h1M193.6 95.4h1M214.9 84.4h1M208.1 91.1h1M212.1 84.7h1M211.9 87.3h1M195.1 95.2h1M205.8 91.7h1M187.8 59.6h1M209.2 92.7h1M192.8 99.4h1M197.0 87.4h1M190.2 93.1h1M176.1 89.4h1M172.9 68.0h1M192.5 55.4h1M229.8 87.5h1M210.7 90.7h1M207.6 82.1h1M214.3 76.4h1M216.5 95.1h1M197.4 81.1h1" stroke="#000" stroke-opacity="0.27"/>
<path d="M180.3 60.0h1M211.3 87.8h1M182.9 93.1h1M217.7 85.9h1M181.4 61.4h1M186.9 63.1h1M200.5 60.1h1M164.4 45.4h1M193.8 66.7h1M197.7 52.6h1M191.7 59.2h1M205.0 61.2h1M227.1 86.0h1M230.1 84.7h1M186.0 56.4h1M194.9 50.4h1M213.3 84.9h1M223.9 99.7h1M190.3 61.5h1M186.8 57.8h1M193.1 55.8h1M196.9 63.5h1M181.1 91.0h1M180.5 83.4h1M204.0 83.4h1" stroke="#000" stroke-opacity="0.27"/>
<path d="M200.9 54.4h1M200.2 72.5h1M197.5 96.1h1M226.6 86.9h1M192.2 54.0h1M186.0 61.9h1M215.0 97.4h1M173.4 92.1h1M192.0 58.0h1M218.9 85.6h1M167.6 93.5h1M194.1 80.7h1M190.3 91.6h1M193.4 58.8h1M205.4 83.0h1M190.3 58.9h1M222.0 86.7h1M221.7 90.7h1M191.9 63.1h1M222.9 80.6h1M208.4 90.7h1M161.3 96.9h1M175.2 87.6h1M219.9 75.7h1M196.6 53.7h1" stroke="#000" stroke-opacity="0.27"/>
<path d="M215.4 82.2h1M212.5 73.7h1M177.4 84.1h1M186.7 94.3h1M174.5 100.3h1M182.4 83.8h1M192.4 97.5h1M211.4 49.5h1M171.7 61.2h1M210.8 92.4h1M212.3 66.5h1M200.9 55.3h1M201.5 67.7h1M199.6 90.8h1M175.6 91.2h1M190.7 52.6h1M215.2 88.9h1M172.8 63.9h1M182.2 100.9h1M222.7 84.7h1M191.1 90.1h1M206.0 51.1h1M177.7 97.8h1M223.2 92.7h1M162.3 100.6h1" stroke="#000" stroke-opacity="0.27"/>
<path d="M186.1 90.5h1M173.4 95.4h1M190.0 94.4h1M175.2 50.1h1M202.6 63.2h1M223.8 97.2h1M194.8 92.2h1M223.0 80.5h1M186.1 57.0h1M198.8 64.2h1M190.5 50.7h1M190.9 90.4h1M193.5 54.6h1M206.3 58.1h1M191.3 98.3h1M188.5 64.8h1M221.4 86.4h1M176.5 95.1h1M183.5 62.9h1M198.7 60.4h1M231.1 87.4h1M181.0 92.2h1M221.1 90.1h1M191.0 85.3h1M208.9 66.3h1" stroke="#000" stroke-opacity="0.27"/>
<path d="M217.4 73.4h1M166.8 92.0h1M214.5 85.8h1M226.8 81.4h1M188.3 91.7h1M171.4 90.1h1M177.8 89.1h1M182.9 93.0h1M190.6 86.5h1M194.2 63.1h1M201.2 58.6h1M192.4 58.5h1M208.9 92.3h1M184.0 88.3h1M198.5 85.8h1M218.8 100.4h1M205.3 52.7h1M172.0 85.5h1M181.6 91.3h1M189.9 90.5h1M203.5 62.0h1M191.5 85.5h1M180.9 60.9h1M212.1 92.7h1M171.8 84.5h1" stroke="#000" stroke-opacity="0.27"/>
<path d="M221.8 91.3h1M214.3 82.8h1M209.5 59.6h1M180.2 99.6h1M188.6 96.3h1M218.4 87.9h1M215.2 85.0h1M196.5 47.6h1M214.6 94.3h1M173.9 95.6h1M215.4 76.8h1M187.8 92.7h1M187.3 63.2h1M186.4 98.9h1M208.6 63.5h1M223.5 88.8h1M223.2 80.1h1M184.0 56.7h1M195.3 98.3h1M219.1 63.9h1M185.4 91.9h1M196.8 87.6h1M187.2 97.5h1M226.2 87.1h1M194.1 56.3h1" stroke="#000" stroke-opacity="0.27"/>
<path d="M196.0 61.7h1M196.3 92.5h1M161.9 93.1h1M199.8 53.2h1M207.9 86.8h1M171.7 88.9h1M219.2 95.3h1M209.8 66.9h1M196.9 96.2h1M214.1 87.8h1M192.5 64.1h1M182.8 60.8h1M183.5 88.1h1M195.2 87.3h1M174.9 92.7h1M162.9 79.9h1M221.5 91.6h1M213.7 83.5h1M205.2 92.9h1M226.0 81.8h1M198.9 96.6h1M214.7 78.5h1M191.0 101.0h1M219.9 89.8h1M192.0 59.5h1" stroke="#000" stroke-opacity="0.27"/>
<path d="M200.6 93.2h1M219.1 85.7h1M196.2 61.2h1M210.7 95.6h1M221.8 91.2h1M199.9 65.0h1M183.9 89.8h1M184.1 89.9h1M186.2 84.8h1M190.6 91.3h1M197.9 58.0h1M190.7 55.6h1M215.4 59.4h1M208.3 97.6h1M222.0 90.5h1M209.8 100.4h1M196.6 47.5h1M180.1 51.6h1M198.7 60.9h1M167.4 89.2h1M197.6 55.6h1M189.0 59.7h1M188.7 59.8h1M217.2 94.4h1M190.8 65.8h1" stroke="#000" stroke-opacity="0.27"/>
<path d="M223.3 92.2h1M224.4 91.1h1M173.7 88.1h1M201.5 54.3h1M179.2 56.8h1M216.5 85.3h1M157.6 56.3h1M195.3 84.3h1M184.1 59.8h1M188.9 62.3h1M189.4 90.1h1M198.3 59.3h1M192.7 93.5h1M222.7 89.5h1M195.6 61.0h1M214.7 76.8h1M220.2 79.6h1M195.5 88.6h1M192.4 59.8h1M201.9 56.8h1M171.3 95.2h1M172.1 60.8h1M219.3 93.9h1M214.4 94.9h1M180.8 56.8h1" stroke="#000" stroke-opacity="0.27"/>
<path d="M187.2 52.7h1M162.8 55.8h1M216.4 60.4h1M185.1 95.0h1M224.6 65.5h1M204.2 66.0h1M219.9 85.0h1M187.7 99.1h1M187.1 65.1h1M227.3 75.2h1M167.9 93.1h1M191.8 96.7h1M215.5 80.4h1M192.4 48.9h1M199.3 98.6h1M207.8 69.2h1M178.6 64.9h1M161.2 85.8h1M191.0 58.7h1M220.5 87.9h1M222.0 94.2h1M224.7 89.2h1M197.6 56.5h1M217.2 81.7h1M176.6 96.6h1" stroke="#000" stroke-opacity="0.27"/>
<path d="M215.9 97.2h1M199.3 85.5h1M208.4 91.0h1M177.3 79.8h1M182.0 97.1h1M173.2 91.3h1M180.9 91.7h1M180.8 38.7h1M182.5 91.1h1M193.7 94.2h1M189.4 91.1h1M197.7 93.4h1M188.7 97.8h1M183.3 55.4h1M183.3 61.9h1" stroke="#000" stroke-opacity="0.27"/>
<rect x="153.5" y="41.8" width="52.0" height="28.799999999999997" fill="none" stroke="#555" stroke-width="1.0"/>
<rect x="205.2" y="73.2" width="29.200000000000017" height="29.0" fill="none" stroke="#555" stroke-width="1.0"/>
<rect x="153.5" y="16.7" width="90.80000000000001" height="85.6" fill="none" stroke="#555" stroke-width="1.0"/>
<line x1="153.0" y1="102.3" x2="244.3" y2="102.3" stroke="#333" stroke-width="1.2"/>
<line x1="153.5" y1="16.7" x2="153.5" y2="102.8" stroke="#444" stroke-width="1.1"/>
<line x1="152.5" y1="30.919569917615647" x2="153.5" y2="30.919569917615647" stroke="#666" stroke-width="0.8"/>
<line x1="152.5" y1="34.26530383967359" x2="153.5" y2="34.26530383967359" stroke="#666" stroke-width="0.8"/>
<line x1="152.5" y1="36.63913983523129" x2="153.5" y2="36.63913983523129" stroke="#666" stroke-width="0.8"/>
<line x1="152.5" y1="38.48043008238436" x2="153.5" y2="38.48043008238436" stroke="#666" stroke-width="0.8"/>
<line x1="152.5" y1="39.984873757289236" x2="153.5" y2="39.984873757289236" stroke="#666" stroke-width="0.8"/>
<line x1="152.5" y1="41.25686276027088" x2="153.5" y2="41.25686276027088" stroke="#666" stroke-width="0.8"/>
<line x1="152.5" y1="42.358709752846934" x2="153.5" y2="42.358709752846934" stroke="#666" stroke-width="0.8"/>
<line x1="152.5" y1="43.330607679347175" x2="153.5" y2="43.330607679347175" stroke="#666" stroke-width="0.8"/>
<line x1="152.5" y1="50.01956991761565" x2="153.5" y2="50.01956991761565" stroke="#666" stroke-width="0.8"/>
<line x1="152.5" y1="53.36530383967359" x2="153.5" y2="53.36530383967359" stroke="#666" stroke-width="0.8"/>
<line x1="152.5" y1="55.73913983523129" x2="153.5" y2="55.73913983523129" stroke="#666" stroke-width="0.8"/>
<line x1="152.5" y1="57.58043008238436" x2="153.5" y2="57.58043008238436" stroke="#666" stroke-width="0.8"/>
<line x1="152.5" y1="59.08487375728923" x2="153.5" y2="59.08487375728923" stroke="#666" stroke-width="0.8"/>
<line x1="152.5" y1="60.356862760270886" x2="153.5" y2="60.356862760270886" stroke="#666" stroke-width="0.8"/>
<line x1="152.5" y1="61.45870975284693" x2="153.5" y2="61.45870975284693" stroke="#666" stroke-width="0.8"/>
<line x1="152.5" y1="62.430607679347176" x2="153.5" y2="62.430607679347176" stroke="#666" stroke-width="0.8"/>
<line x1="152.5" y1="68.91956991761563" x2="153.5" y2="68.91956991761563" stroke="#666" stroke-width="0.8"/>
<line x1="152.5" y1="72.26530383967358" x2="153.5" y2="72.26530383967358" stroke="#666" stroke-width="0.8"/>
<line x1="152.5" y1="74.63913983523128" x2="153.5" y2="74.63913983523128" stroke="#666" stroke-width="0.8"/>
<line x1="152.5" y1="76.48043008238436" x2="153.5" y2="76.48043008238436" stroke="#666" stroke-width="0.8"/>
<line x1="152.5" y1="77.98487375728922" x2="153.5" y2="77.98487375728922" stroke="#666" stroke-width="0.8"/>
<line x1="152.5" y1="79.25686276027088" x2="153.5" y2="79.25686276027088" stroke="#666" stroke-width="0.8"/>
<line x1="152.5" y1="80.35870975284692" x2="153.5" y2="80.35870975284692" stroke="#666" stroke-width="0.8"/>
<line x1="152.5" y1="81.33060767934717" x2="153.5" y2="81.33060767934717" stroke="#666" stroke-width="0.8"/>
<line x1="152.5" y1="91.01956991761564" x2="153.5" y2="91.01956991761564" stroke="#666" stroke-width="0.8"/>
<line x1="152.5" y1="94.36530383967359" x2="153.5" y2="94.36530383967359" stroke="#666" stroke-width="0.8"/>
<line x1="152.5" y1="96.73913983523128" x2="153.5" y2="96.73913983523128" stroke="#666" stroke-width="0.8"/>
<line x1="152.5" y1="98.58043008238435" x2="153.5" y2="98.58043008238435" stroke="#666" stroke-width="0.8"/>
<line x1="159.6" y1="102.3" x2="159.6" y2="104.1" stroke="#333" stroke-width="1.0"/>
<line x1="172.8" y1="102.3" x2="172.8" y2="104.1" stroke="#333" stroke-width="1.0"/>
<line x1="194.8" y1="102.3" x2="194.8" y2="104.1" stroke="#333" stroke-width="1.0"/>
<line x1="215.7" y1="102.3" x2="215.7" y2="104.1" stroke="#333" stroke-width="1.0"/>
<line x1="235.8" y1="102.3" x2="235.8" y2="104.1" stroke="#333" stroke-width="1.0"/>
<text x="145.9" y="28.6" font-size="6.0" stroke="#000" stroke-width="0.32" text-anchor="end" fill="#000" >10</text>
<text x="146.2" y="24.0" font-size="5.6" stroke="#000" stroke-width="0.32" text-anchor="start" fill="#000" >5</text>
<line x1="151.7" y1="25.200000000000003" x2="153.5" y2="25.200000000000003" stroke="#333" stroke-width="1"/>
<text x="145.9" y="47.7" font-size="6.0" stroke="#000" stroke-width="0.32" text-anchor="end" fill="#000" >10</text>
<text x="146.2" y="43.1" font-size="5.6" stroke="#000" stroke-width="0.32" text-anchor="start" fill="#000" >4</text>
<line x1="151.7" y1="44.300000000000004" x2="153.5" y2="44.300000000000004" stroke="#333" stroke-width="1"/>
<text x="145.9" y="66.6" font-size="6.0" stroke="#000" stroke-width="0.32" text-anchor="end" fill="#000" >10</text>
<text x="146.2" y="61.99999999999999" font-size="5.6" stroke="#000" stroke-width="0.32" text-anchor="start" fill="#000" >3</text>
<line x1="151.7" y1="63.199999999999996" x2="153.5" y2="63.199999999999996" stroke="#333" stroke-width="1"/>
<text x="145.9" y="88.7" font-size="6.0" stroke="#000" stroke-width="0.32" text-anchor="end" fill="#000" >10</text>
<text x="146.2" y="84.10000000000001" font-size="5.6" stroke="#000" stroke-width="0.32" text-anchor="start" fill="#000" >2</text>
<line x1="151.7" y1="85.3" x2="153.5" y2="85.3" stroke="#333" stroke-width="1"/>
<text x="146.6" y="97.2" font-size="6.0" stroke="#000" stroke-width="0.32" text-anchor="end" fill="#000" >0</text>
<line x1="151.7" y1="94.10000000000001" x2="153.5" y2="94.10000000000001" stroke="#222" stroke-width="1.2"/>
<text x="159.6" y="117.89999999999999" font-size="6.0" stroke="#000" stroke-width="0.32" text-anchor="middle" fill="#000" >0</text>
<text x="169.8" y="117.89999999999999" font-size="6.0" stroke="#000" stroke-width="0.32" text-anchor="start" fill="#000" >10</text>
<text x="176.5" y="112.8" font-size="5.6" stroke="#000" stroke-width="0.32" text-anchor="start" fill="#000" >2</text>
<text x="192.0" y="117.89999999999999" font-size="6.0" stroke="#000" stroke-width="0.32" text-anchor="start" fill="#000" >10</text>
<text x="198.7" y="112.8" font-size="5.6" stroke="#000" stroke-width="0.32" text-anchor="start" fill="#000" >3</text>
<text x="212.5" y="117.89999999999999" font-size="6.0" stroke="#000" stroke-width="0.32" text-anchor="start" fill="#000" >10</text>
<text x="219.2" y="112.8" font-size="5.6" stroke="#000" stroke-width="0.32" text-anchor="start" fill="#000" >4</text>
<text x="232.6" y="117.89999999999999" font-size="6.0" stroke="#000" stroke-width="0.32" text-anchor="start" fill="#000" >10</text>
<text x="239.29999999999998" y="112.8" font-size="5.6" stroke="#000" stroke-width="0.32" text-anchor="start" fill="#000" >5</text>
<text x="170.5" y="31.900000000000002" font-size="6.35" font-weight="bold" stroke="#000" stroke-width="0.25" text-anchor="start" fill="#000" >22.4%</text>
<text x="224.1" y="65.8" font-size="6.35" font-weight="bold" stroke="#000" stroke-width="0.25" text-anchor="start" fill="#000" >27.8%</text>
<path d="M359.5 97.3h1M308.0 101.0h1M318.9 92.4h1M288.6 98.7h1M313.3 75.3h1M324.9 99.7h1M346.3 93.4h1M355.6 86.4h1M284.5 96.3h1M361.2 100.4h1M276.5 93.6h1M344.7 99.2h1M345.3 82.3h1M355.6 83.0h1M355.4 78.9h1M285.9 77.2h1M336.5 83.7h1M300.0 86.8h1M282.7 85.7h1M337.6 91.6h1M301.1 82.3h1M350.5 101.3h1M344.7 88.6h1M325.9 97.1h1M304.8 80.3h1" stroke="#000" stroke-opacity="0.25"/>
<path d="M344.3 78.6h1M290.4 99.3h1M342.1 82.8h1M347.9 78.7h1M335.9 84.3h1M293.5 74.7h1M277.3 95.6h1M275.0 84.1h1M316.7 99.4h1M313.2 78.5h1M331.6 85.5h1M347.0 95.1h1M311.7 94.0h1M357.8 94.3h1M302.1 98.8h1M336.8 88.1h1M300.1 95.5h1M312.9 84.8h1M361.5 79.4h1M291.9 93.4h1M352.7 91.0h1M327.2 75.4h1M334.6 87.9h1M294.6 76.9h1M305.6 92.5h1" stroke="#000" stroke-opacity="0.25"/>
<path d="M323.2 89.3h1M316.1 88.3h1M314.0 90.8h1M355.0 90.4h1M306.3 77.9h1M354.7 92.9h1M358.9 73.2h1M322.5 94.1h1M301.5 78.6h1M360.2 86.0h1M358.5 80.5h1M322.3 76.3h1M351.6 90.8h1M295.7 72.7h1M298.1 93.5h1M276.3 78.1h1M285.3 77.5h1M277.4 96.0h1M342.3 96.8h1M338.7 92.1h1M356.6 90.1h1M298.1 77.0h1M282.3 95.0h1M329.3 88.6h1M300.2 80.5h1" stroke="#000" stroke-opacity="0.25"/>
<path d="M314.1 84.2h1M276.8 94.8h1M339.5 73.9h1M304.2 90.8h1M304.0 80.9h1M344.7 80.0h1M288.7 82.5h1M350.2 89.7h1M289.6 83.7h1M287.8 74.1h1M304.1 92.6h1M308.6 91.5h1M335.9 81.7h1M317.6 84.2h1M357.0 97.1h1M360.1 81.3h1M281.4 84.9h1M316.1 100.6h1M334.7 72.7h1M355.8 79.9h1M283.8 88.3h1M344.6 94.4h1M279.7 89.8h1M356.4 81.0h1M351.2 98.0h1" stroke="#000" stroke-opacity="0.25"/>
<path d="M355.5 89.7h1M329.5 91.6h1M333.5 77.8h1M336.2 79.9h1M275.7 98.6h1M299.9 79.4h1M322.2 88.1h1M341.9 97.0h1M298.0 100.2h1M313.6 73.0h1M319.4 96.6h1M336.0 99.5h1M347.4 85.1h1M320.7 85.2h1M327.7 76.5h1M354.9 95.4h1M318.9 83.2h1M341.8 91.9h1M345.4 89.5h1M273.9 89.2h1M292.2 88.0h1M297.5 77.7h1M353.0 100.7h1M358.6 94.9h1M315.6 101.1h1" stroke="#000" stroke-opacity="0.25"/>
<path d="M288.8 72.0h1M335.4 86.3h1M326.7 83.1h1M317.8 95.6h1M319.0 84.7h1M293.6 96.0h1M327.0 80.9h1M273.9 83.1h1M298.7 82.5h1M330.6 91.7h1M284.3 76.4h1M355.8 78.6h1M324.0 81.2h1M322.9 82.4h1M351.0 82.2h1M313.6 97.7h1M316.0 81.7h1M361.4 77.3h1M316.4 79.2h1M321.0 87.8h1M327.3 96.7h1M336.1 79.7h1M307.4 76.4h1M298.5 78.7h1M280.0 80.8h1" stroke="#000" stroke-opacity="0.25"/>
<path d="M337.3 84.0h1M331.1 74.8h1M358.7 77.1h1M274.0 86.5h1M356.0 82.5h1M307.9 88.7h1M353.5 86.6h1M321.0 91.9h1M327.9 101.1h1M361.0 77.9h1M346.6 85.6h1M319.4 86.0h1M337.9 99.2h1M356.9 95.0h1M321.8 91.4h1M308.5 82.9h1M361.9 74.8h1M276.6 81.6h1M307.7 73.2h1M337.7 96.5h1M361.7 76.2h1M277.0 88.3h1M335.0 82.3h1M305.0 87.7h1M359.4 74.4h1" stroke="#000" stroke-opacity="0.25"/>
<path d="M302.8 74.5h1M297.4 82.8h1M283.3 83.8h1M344.1 100.4h1M328.0 97.9h1M276.5 101.0h1M355.5 80.0h1M330.8 84.4h1M328.9 84.9h1M277.8 87.9h1M334.4 76.7h1M329.6 88.8h1M355.9 84.3h1M331.5 98.0h1M356.0 74.3h1M276.2 100.8h1M324.2 92.6h1M301.9 89.7h1M348.7 79.8h1M312.6 96.2h1M327.5 95.6h1M298.4 80.2h1M348.2 89.2h1M310.6 101.2h1M317.4 83.3h1" stroke="#000" stroke-opacity="0.25"/>
<path d="M293.7 89.0h1M282.3 99.1h1M325.5 87.8h1M287.2 78.8h1M326.1 82.8h1M358.0 88.3h1M295.4 72.7h1M351.5 100.0h1M361.4 79.1h1M340.4 79.8h1M330.3 99.1h1M280.1 100.3h1M293.8 100.6h1M305.4 75.2h1M358.8 98.8h1M311.2 101.3h1M307.2 97.3h1M288.4 73.4h1M288.5 83.4h1M291.9 73.1h1M292.5 95.0h1M360.5 85.3h1M334.0 76.0h1M335.5 99.5h1M294.7 78.4h1" stroke="#000" stroke-opacity="0.25"/>
<path d="M282.9 86.8h1M287.1 79.6h1M353.4 91.2h1M302.2 87.5h1M316.8 76.6h1M338.8 79.2h1M289.6 88.2h1M285.0 79.3h1M331.8 94.8h1M304.0 95.1h1M299.5 85.6h1M338.4 75.3h1M291.4 101.5h1M356.0 100.9h1M284.5 73.0h1M277.0 91.0h1M298.6 88.2h1M292.5 72.7h1M281.9 93.9h1M300.4 87.9h1M354.5 72.4h1M334.8 79.0h1M315.7 84.1h1M297.4 97.7h1M299.5 75.8h1" stroke="#000" stroke-opacity="0.25"/>
<path d="M295.5 78.2h1M282.8 77.4h1M338.0 89.2h1M348.4 94.0h1M343.0 75.1h1M343.0 81.2h1M313.2 81.6h1M315.7 102.0h1M299.7 72.3h1M285.4 95.4h1M324.9 92.9h1M349.3 89.6h1M275.6 72.9h1M321.9 72.1h1M281.2 98.1h1M279.2 87.0h1M286.5 92.2h1M325.2 88.4h1M356.0 83.2h1M298.3 88.3h1M303.7 77.5h1M333.3 75.6h1M291.0 98.1h1M289.4 85.1h1M307.7 100.8h1" stroke="#000" stroke-opacity="0.25"/>
<path d="M290.0 80.6h1M300.2 95.2h1M317.3 83.0h1M325.7 93.3h1M335.2 75.3h1M336.6 83.3h1M344.2 75.2h1M354.4 90.8h1M279.8 101.3h1M289.3 74.1h1M280.5 101.6h1M320.8 81.8h1M278.2 77.9h1M329.9 95.0h1M303.4 96.1h1M294.9 90.2h1M295.5 80.3h1M327.7 91.9h1M308.7 96.7h1M317.0 89.0h1M343.7 77.8h1M355.8 84.9h1M301.2 101.4h1M327.9 79.0h1M335.0 99.0h1" stroke="#000" stroke-opacity="0.25"/>
<path d="M302.8 55.9h1M337.9 85.0h1M347.3 95.8h1M346.1 87.1h1M287.5 50.8h1M333.8 86.4h1M311.5 51.2h1M284.3 50.4h1M325.7 90.8h1M329.8 85.6h1M328.4 97.4h1M330.7 88.3h1M343.0 93.5h1M297.3 53.9h1M310.1 50.8h1M335.6 94.5h1M282.9 49.3h1M305.2 56.2h1M344.0 92.6h1M338.1 95.5h1M343.7 93.2h1M311.9 64.8h1M303.5 61.5h1M303.0 48.7h1M297.0 54.7h1" stroke="#000" stroke-opacity="0.27"/>
<path d="M318.8 59.7h1M337.5 89.1h1M339.8 87.4h1M327.9 66.7h1M338.6 49.4h1M340.8 69.7h1M322.6 86.5h1M329.9 44.5h1M298.1 55.2h1M302.8 100.0h1M349.3 87.3h1M317.9 90.4h1M301.9 68.0h1M346.7 97.1h1M314.1 53.3h1M319.1 83.5h1M334.8 86.0h1M335.4 88.6h1M322.8 92.3h1M335.5 88.2h1M340.6 88.2h1M314.6 49.6h1M305.7 92.1h1M308.1 59.5h1M293.6 60.0h1" stroke="#000" stroke-opacity="0.27"/>
<path d="M319.8 48.1h1M337.4 81.5h1M308.4 59.8h1M308.5 87.3h1M311.2 91.0h1M337.2 90.7h1M320.9 66.4h1M337.5 81.9h1M336.1 75.5h1M339.4 76.4h1M349.5 93.6h1M333.1 38.4h1M328.1 78.3h1M310.4 87.0h1M333.6 88.0h1M336.5 84.8h1M339.8 82.0h1M303.8 63.1h1M316.1 52.5h1M346.4 86.4h1M334.8 86.7h1M310.7 53.5h1M320.3 80.7h1M308.3 52.0h1M326.4 86.7h1" stroke="#000" stroke-opacity="0.27"/>
<path d="M326.1 94.7h1M341.4 98.3h1M326.9 66.3h1M299.1 84.1h1M316.1 50.3h1M328.2 101.0h1M337.4 86.4h1M338.3 86.1h1M317.4 64.5h1M336.4 88.6h1M337.0 82.4h1M317.5 58.9h1M296.7 54.0h1M344.4 84.5h1M314.1 83.9h1M339.3 76.3h1M339.6 84.4h1M324.4 59.4h1M303.0 56.3h1M332.0 92.9h1M306.7 49.7h1M336.5 96.8h1M287.3 47.9h1M352.2 74.5h1M357.8 90.7h1" stroke="#000" stroke-opacity="0.27"/>
<path d="M328.1 94.0h1M324.7 64.4h1M348.6 83.3h1M294.3 87.1h1M344.4 90.4h1M344.0 90.6h1M343.9 86.3h1M336.3 51.4h1M320.2 66.1h1M316.4 54.7h1M339.2 87.3h1M340.2 95.8h1M328.2 101.2h1M345.6 93.1h1M314.2 73.5h1M320.3 54.0h1M292.7 59.5h1M295.5 46.9h1M317.4 53.2h1M338.8 94.5h1M315.4 45.2h1M289.7 42.2h1M326.1 87.0h1M331.7 93.5h1M318.8 54.8h1" stroke="#000" stroke-opacity="0.27"/>
<path d="M348.8 89.3h1M304.8 54.0h1M339.3 73.0h1M340.6 88.4h1M339.4 62.2h1M298.1 53.5h1M310.3 70.7h1M328.7 81.2h1M335.4 84.9h1M314.3 64.7h1M338.1 87.6h1M339.6 98.7h1M319.8 51.9h1M324.1 88.5h1M338.1 88.6h1M337.2 95.7h1M339.3 82.4h1M348.7 67.0h1M308.9 92.9h1M307.4 52.6h1M321.2 95.7h1M339.1 92.1h1M332.5 90.9h1M294.1 60.0h1M337.3 90.0h1" stroke="#000" stroke-opacity="0.27"/>
<path d="M344.5 86.9h1M316.1 63.4h1M325.3 50.4h1M338.4 56.0h1M328.9 76.5h1M334.5 88.7h1M300.0 46.6h1M312.5 50.7h1M325.8 57.5h1M334.3 83.6h1M320.7 62.4h1M340.4 59.4h1M346.1 94.5h1M296.1 46.0h1M318.3 58.0h1M317.3 69.1h1M301.9 59.9h1M338.5 57.6h1M334.5 56.9h1M293.7 100.1h1M329.1 40.6h1M313.8 47.3h1M339.1 87.1h1M331.0 70.9h1M315.5 54.0h1" stroke="#000" stroke-opacity="0.27"/>
<path d="M305.3 63.0h1M321.2 56.4h1M342.5 82.2h1M323.5 58.3h1M344.7 93.4h1M299.0 65.3h1M336.1 88.0h1M340.9 90.3h1M303.2 55.8h1M356.1 76.5h1M336.5 99.5h1M310.0 52.8h1M342.0 89.5h1M327.5 89.4h1M338.4 82.4h1M334.9 67.6h1M329.4 78.8h1M303.4 59.3h1M324.9 97.0h1M329.6 91.0h1M334.9 71.3h1M340.9 97.9h1M344.7 90.9h1M312.6 54.8h1M318.3 91.2h1" stroke="#000" stroke-opacity="0.27"/>
<path d="M342.3 95.0h1M326.2 61.3h1M321.0 87.3h1M286.1 49.3h1M342.2 89.2h1M315.0 88.3h1M305.2 56.8h1M340.1 46.9h1M329.9 94.7h1M311.5 51.6h1M343.7 85.3h1M351.2 91.4h1M352.2 90.3h1M347.4 85.6h1M297.4 46.3h1M315.6 81.4h1M326.6 86.0h1M318.9 90.4h1M327.5 86.5h1M337.3 99.4h1M317.4 71.0h1M321.1 96.3h1M349.2 98.4h1M294.4 94.0h1M346.4 67.6h1" stroke="#000" stroke-opacity="0.27"/>
<path d="M345.8 91.1h1M342.6 90.8h1M333.1 92.9h1M333.8 80.7h1M336.8 95.8h1M325.4 79.8h1M336.9 74.5h1M295.0 59.1h1M322.1 74.5h1M320.1 55.2h1M345.8 84.1h1M339.0 86.9h1M303.0 62.1h1M331.5 64.7h1M334.8 85.5h1M329.1 100.4h1M315.1 92.1h1M313.6 41.4h1M334.6 92.4h1M339.3 87.0h1M324.3 62.4h1M355.9 86.7h1M303.9 57.1h1M333.2 83.1h1M333.0 94.3h1" stroke="#000" stroke-opacity="0.27"/>
<path d="M342.2 90.9h1M347.2 93.9h1M333.3 76.6h1M335.7 63.2h1M312.2 56.7h1M294.2 93.5h1M329.4 70.1h1M286.7 96.9h1M328.7 48.9h1M318.3 97.4h1M303.4 58.7h1M338.0 91.6h1M332.0 66.8h1M296.4 53.9h1M313.2 58.4h1M336.0 76.8h1M343.6 75.1h1M352.3 90.6h1M345.1 89.4h1M336.6 86.6h1M311.6 58.9h1M326.9 86.7h1M333.3 87.6h1M299.6 61.4h1M319.9 95.7h1" stroke="#000" stroke-opacity="0.27"/>
<path d="M341.0 93.7h1M340.9 99.5h1M341.1 95.9h1M342.0 77.9h1M330.9 54.6h1M339.3 84.4h1M344.5 79.1h1M351.8 70.4h1M305.4 84.6h1M302.8 90.7h1M336.4 100.3h1M335.8 90.0h1M329.7 78.8h1M325.1 83.7h1M319.6 60.5h1M343.0 41.4h1M333.9 80.7h1M318.4 86.2h1M339.0 96.4h1M336.7 99.5h1M356.1 58.1h1M332.7 93.3h1M341.2 95.4h1M330.2 92.5h1M342.8 86.5h1" stroke="#000" stroke-opacity="0.27"/>
<path d="M331.5 48.4h1M314.5 54.4h1M340.3 94.9h1M319.4 58.4h1M343.3 85.2h1M323.0 87.8h1M333.6 93.4h1M341.1 89.6h1M347.3 78.6h1M338.6 76.7h1M334.9 92.4h1M336.8 84.8h1M297.4 91.8h1M334.1 93.6h1M307.7 58.2h1M312.7 46.4h1M338.8 92.0h1M317.5 93.7h1M360.4 78.4h1M312.7 58.5h1M329.6 84.7h1M336.1 81.7h1M339.7 94.3h1M335.5 88.5h1M346.0 98.9h1" stroke="#000" stroke-opacity="0.27"/>
<path d="M323.9 100.5h1M327.6 84.8h1M339.9 83.8h1M338.8 89.3h1M300.3 65.8h1M303.9 59.3h1M330.9 68.5h1M334.0 84.7h1M322.0 89.8h1M328.5 77.1h1M298.0 59.5h1M297.5 57.1h1M352.2 88.8h1M294.8 90.5h1M335.9 87.4h1M333.5 87.8h1M343.9 56.6h1M310.4 53.7h1M285.2 66.7h1M347.9 83.6h1M337.8 82.2h1M307.1 90.8h1M315.7 62.5h1M327.7 82.0h1M335.6 84.6h1" stroke="#000" stroke-opacity="0.27"/>
<path d="M335.8 84.6h1M336.1 91.6h1M311.2 67.0h1M339.6 89.6h1M333.4 80.2h1M341.5 97.1h1M341.8 89.6h1M324.3 92.2h1M352.3 84.4h1M324.3 43.8h1M338.3 78.5h1M277.0 57.7h1M333.9 94.3h1M333.1 86.9h1M338.4 98.5h1M317.6 96.5h1M346.9 87.2h1M332.8 53.4h1M343.9 56.8h1M339.0 78.8h1M323.4 60.4h1M326.2 66.1h1M332.2 92.6h1M340.0 92.1h1M352.6 82.2h1" stroke="#000" stroke-opacity="0.27"/>
<path d="M287.8 54.6h1M338.3 92.2h1M344.6 86.6h1M339.6 92.9h1M297.0 56.1h1M342.1 97.3h1M342.8 93.4h1M308.6 90.8h1M305.4 58.2h1M334.8 54.7h1M342.2 84.9h1M303.5 89.5h1M322.9 83.9h1M332.7 88.3h1M341.9 84.1h1M333.3 88.8h1M351.5 92.4h1M341.9 94.9h1M341.4 98.6h1M323.7 85.1h1M320.4 56.5h1M344.8 93.5h1M332.2 79.7h1M327.6 80.9h1M339.7 91.6h1" stroke="#000" stroke-opacity="0.27"/>
<path d="M330.8 90.9h1M298.5 58.5h1M319.5 61.5h1M341.1 91.5h1M342.5 93.3h1M312.3 89.7h1M341.9 87.3h1M345.4 83.0h1M319.5 64.1h1M347.5 96.9h1M328.3 86.9h1M299.7 88.8h1M346.2 77.1h1M309.6 51.7h1M343.6 74.2h1M299.3 48.3h1M313.7 64.7h1M337.0 91.5h1M290.9 91.2h1M345.4 90.1h1M327.6 92.4h1M343.4 72.0h1M335.1 85.6h1M311.3 65.8h1M328.8 94.3h1" stroke="#000" stroke-opacity="0.27"/>
<path d="M338.8 97.9h1M337.5 90.3h1M337.2 95.8h1M304.1 94.0h1M290.3 90.2h1M352.4 85.7h1M306.2 60.5h1M331.6 93.1h1M339.1 94.0h1M333.4 91.7h1M312.6 46.2h1M336.2 94.5h1M330.9 85.6h1M311.9 55.1h1M323.7 73.5h1M315.3 53.2h1M327.7 88.3h1M355.1 88.6h1M321.1 57.4h1M336.9 69.8h1M287.5 70.3h1M330.5 90.8h1M338.9 93.4h1M333.9 85.8h1M302.9 59.7h1" stroke="#000" stroke-opacity="0.27"/>
<path d="M335.3 93.6h1M349.0 88.9h1M305.2 87.7h1M330.9 94.6h1M304.5 69.3h1M348.7 51.5h1M323.3 84.6h1M318.0 87.9h1M307.2 68.0h1M343.1 89.3h1M329.1 64.9h1M308.2 59.9h1M347.2 87.4h1M347.3 88.3h1M338.7 92.2h1M341.6 79.4h1M307.3 53.6h1M300.4 56.7h1M325.2 89.5h1M303.3 49.8h1M338.1 93.2h1M342.8 95.6h1M321.2 61.5h1M311.8 100.2h1M320.8 90.5h1" stroke="#000" stroke-opacity="0.27"/>
<path d="M337.3 89.4h1M325.9 79.1h1M352.3 85.6h1M324.5 72.0h1M336.2 81.7h1M321.7 44.2h1M336.8 40.8h1M335.0 42.0h1M326.6 97.0h1M304.3 82.3h1M327.1 65.4h1M286.1 62.5h1M309.6 82.3h1M311.6 93.5h1M324.5 90.0h1M339.3 84.4h1M329.7 77.5h1M320.1 63.7h1M300.1 47.6h1M333.9 89.2h1M333.2 94.1h1M301.9 61.8h1M310.4 62.9h1M337.8 82.4h1M303.5 64.1h1" stroke="#000" stroke-opacity="0.27"/>
<path d="M306.8 62.9h1M301.0 89.8h1M329.1 90.1h1M336.1 96.1h1M324.3 45.6h1M312.5 60.2h1M316.8 61.3h1M343.4 88.0h1M325.2 83.6h1M331.8 94.7h1M295.4 60.8h1M346.8 82.2h1M298.3 60.5h1M330.3 84.0h1M304.7 42.3h1M347.4 88.6h1M317.0 70.5h1M333.0 89.3h1M348.9 95.5h1M342.7 89.0h1M323.8 72.0h1M327.1 61.0h1M336.9 88.1h1M328.7 64.6h1M333.0 94.8h1" stroke="#000" stroke-opacity="0.27"/>
<path d="M337.8 98.9h1M336.2 53.0h1M303.3 48.4h1M341.9 90.1h1M324.5 54.0h1M296.5 60.3h1M327.8 62.3h1M328.9 55.8h1M336.0 88.9h1M323.7 59.7h1M344.0 72.3h1M338.6 87.3h1M299.3 57.2h1M351.6 93.1h1M318.4 60.9h1M309.2 95.0h1M341.6 89.4h1M334.6 85.2h1M341.0 71.7h1M299.8 71.4h1M290.5 60.8h1M336.6 75.2h1M340.3 81.8h1M340.3 85.7h1M337.3 89.3h1" stroke="#000" stroke-opacity="0.27"/>
<path d="M334.2 97.6h1M327.7 85.4h1M333.3 74.5h1M317.0 54.8h1M303.5 49.9h1M322.9 90.5h1M285.4 55.0h1M356.1 78.8h1M303.0 48.0h1M342.5 90.1h1M336.4 86.6h1M337.7 96.4h1M348.3 81.2h1M308.2 60.7h1M344.4 94.2h1M296.9 71.1h1M314.2 63.2h1M329.0 99.5h1M335.4 95.9h1M325.1 62.9h1M344.0 81.2h1M333.3 90.5h1M308.1 94.8h1M317.9 83.8h1M314.1 58.8h1" stroke="#000" stroke-opacity="0.27"/>
<path d="M311.3 56.9h1M338.1 92.0h1M310.7 55.7h1M302.7 54.3h1M309.2 65.6h1M329.7 48.2h1M340.5 88.9h1M334.8 80.7h1M336.3 87.7h1M328.2 69.3h1M332.6 95.2h1M333.9 91.2h1M310.3 44.5h1M323.8 56.9h1M330.0 86.1h1M307.2 58.2h1M327.2 96.7h1M305.6 92.1h1M304.6 49.4h1M341.4 80.1h1M347.8 100.3h1M317.8 60.0h1M333.5 80.8h1M285.2 84.7h1M337.8 96.3h1" stroke="#000" stroke-opacity="0.27"/>
<path d="M323.7 59.1h1M333.2 92.0h1M329.7 70.1h1M325.1 84.7h1M338.6 88.8h1M350.5 91.7h1M332.8 93.4h1M315.1 49.4h1M330.2 59.5h1M331.9 100.6h1M355.7 56.9h1M349.3 88.6h1M295.9 95.4h1M304.8 72.3h1M319.5 69.9h1M302.0 62.1h1M337.4 91.4h1M339.7 69.0h1M322.4 49.4h1M332.7 59.2h1M294.4 61.5h1M331.2 97.2h1M299.9 58.4h1M295.9 54.9h1M323.1 62.0h1" stroke="#000" stroke-opacity="0.27"/>
<path d="M323.6 69.1h1M327.0 92.9h1M346.9 84.1h1M332.3 78.4h1M303.7 69.5h1M334.3 90.8h1M309.4 53.9h1M329.2 46.9h1M311.8 41.5h1M340.0 88.1h1M332.0 90.8h1M349.4 94.3h1M340.1 86.1h1M347.7 96.9h1M312.7 49.9h1M337.5 83.4h1M331.5 82.6h1M337.4 56.7h1M333.9 98.9h1M334.5 60.7h1M311.2 66.9h1M303.6 47.2h1M327.2 85.0h1M316.6 84.1h1M359.5 75.0h1" stroke="#000" stroke-opacity="0.27"/>
<path d="M323.4 91.0h1M327.0 94.7h1M310.2 60.9h1M307.6 48.8h1M312.6 86.1h1M339.6 84.1h1M316.7 88.3h1M327.7 85.9h1M273.8 63.4h1M335.9 93.5h1M334.2 84.0h1M325.0 51.8h1M328.2 53.5h1M336.3 95.0h1M295.3 65.2h1M309.7 61.8h1M348.9 79.1h1M341.4 87.8h1M302.5 55.2h1M280.4 61.9h1M331.7 81.7h1M335.0 62.3h1M292.6 43.7h1M300.2 65.8h1M341.7 59.7h1" stroke="#000" stroke-opacity="0.27"/>
<path d="M347.2 92.1h1M334.7 73.9h1M316.3 51.5h1M319.1 38.6h1M340.5 91.5h1M351.2 85.7h1M338.1 98.1h1M331.4 73.7h1M337.5 99.7h1M323.4 86.6h1M314.0 101.0h1M291.0 81.8h1M320.5 66.4h1M306.9 91.4h1M333.3 91.7h1M344.8 90.4h1M339.8 67.8h1M333.2 92.1h1M332.6 94.4h1M317.9 92.4h1M303.6 89.6h1M336.4 88.2h1M348.0 92.9h1M297.1 53.9h1M354.0 83.5h1" stroke="#000" stroke-opacity="0.27"/>
<path d="M307.4 50.6h1M322.5 74.2h1M325.2 67.7h1M305.1 51.0h1M299.4 58.3h1M341.0 82.5h1M314.1 69.7h1M335.4 92.1h1M325.5 92.4h1M306.4 95.9h1M350.2 92.8h1M315.3 41.3h1M329.7 91.3h1M288.0 54.0h1M316.0 68.8h1M330.3 81.9h1M297.2 57.7h1M331.9 92.7h1M291.2 88.8h1M340.0 83.6h1M334.5 85.7h1M345.7 80.7h1M312.9 95.2h1M331.3 88.5h1M279.0 58.2h1" stroke="#000" stroke-opacity="0.27"/>
<path d="M343.1 85.8h1M286.3 71.5h1M303.4 39.8h1M328.0 52.4h1M291.4 55.3h1M332.9 86.5h1M279.0 59.2h1M312.7 61.4h1M289.4 48.5h1M332.0 90.2h1M292.4 53.1h1M328.3 90.6h1M321.2 71.9h1M308.0 87.8h1M286.6 97.8h1M326.3 86.7h1M312.9 59.0h1M336.7 55.7h1M338.0 67.7h1M315.1 100.7h1M324.4 84.5h1M318.5 95.2h1M309.3 48.1h1M337.1 93.9h1M343.2 78.4h1" stroke="#000" stroke-opacity="0.27"/>
<path d="M336.9 90.6h1M348.3 96.7h1M341.1 94.6h1M320.2 60.4h1M345.3 89.7h1M326.5 63.4h1M333.2 93.6h1M324.2 86.0h1M318.6 90.2h1M346.9 55.5h1M345.6 98.3h1M334.9 63.6h1M336.3 90.3h1M308.7 50.5h1M322.6 85.2h1M311.4 83.0h1M308.2 54.4h1M335.6 99.2h1M301.9 64.1h1M345.4 57.0h1M336.9 91.4h1M332.7 64.3h1M344.1 86.2h1M339.1 88.4h1M301.2 59.7h1" stroke="#000" stroke-opacity="0.27"/>
<path d="M336.1 75.4h1M294.1 46.1h1M341.1 64.4h1M327.6 56.0h1M317.5 100.4h1M298.7 56.4h1M292.4 65.1h1M316.9 56.5h1M338.1 89.7h1M301.1 54.4h1M334.5 79.5h1M330.1 54.5h1M338.1 72.1h1M332.1 93.0h1M318.5 88.1h1M343.0 91.4h1M322.8 89.2h1M321.8 96.5h1M305.7 55.3h1M296.9 50.6h1M320.6 53.7h1M336.1 89.0h1M338.2 95.7h1M291.7 59.0h1M313.4 88.8h1" stroke="#000" stroke-opacity="0.27"/>
<path d="M320.3 95.2h1M307.2 97.3h1M341.3 90.7h1M318.8 55.0h1M350.6 98.5h1M331.9 84.1h1M276.2 50.5h1M306.4 58.9h1M322.4 49.7h1M293.3 68.5h1M341.7 94.5h1M307.2 54.2h1M303.2 59.4h1M333.0 90.9h1M289.7 52.2h1M319.2 60.5h1M346.3 81.9h1M327.6 58.7h1M338.3 88.3h1M314.8 60.3h1M340.5 88.4h1M288.8 85.7h1M329.9 85.8h1M306.4 59.0h1M335.3 84.8h1" stroke="#000" stroke-opacity="0.27"/>
<path d="M336.4 81.3h1M309.7 61.2h1M340.1 65.8h1M341.8 95.2h1M305.2 46.4h1M300.9 54.7h1M323.6 94.3h1M329.1 52.2h1M342.1 71.2h1M342.1 90.0h1M332.7 81.7h1M329.8 63.0h1M326.9 90.7h1M289.2 64.0h1M296.2 84.5h1M329.2 91.7h1M335.0 89.1h1M322.2 60.1h1M336.1 56.1h1M312.2 57.0h1M343.1 93.3h1M315.6 80.8h1M323.0 84.3h1M323.9 72.1h1M313.2 95.0h1" stroke="#000" stroke-opacity="0.27"/>
<path d="M333.1 88.1h1M298.9 58.5h1M343.7 82.8h1M291.2 57.2h1M319.0 79.4h1M314.0 55.5h1M341.7 96.6h1M333.5 78.7h1M343.1 86.2h1M337.4 94.6h1M332.3 89.3h1M306.2 62.4h1M334.6 86.6h1M328.9 100.6h1M341.3 94.1h1M319.9 58.4h1M341.6 66.6h1M345.3 94.0h1M330.5 85.4h1M316.8 85.3h1M331.6 89.2h1M335.6 86.1h1M327.1 90.3h1M336.1 81.9h1M341.0 85.4h1" stroke="#000" stroke-opacity="0.27"/>
<path d="M299.2 48.0h1M307.1 71.1h1M339.6 80.7h1M331.9 92.7h1M310.5 62.5h1M330.2 65.7h1M303.3 95.6h1M337.1 88.7h1M290.8 59.6h1M304.0 100.2h1M348.3 92.9h1M317.9 51.2h1M310.9 61.8h1M324.5 62.1h1M338.8 76.4h1M315.4 54.8h1M341.2 75.6h1M324.9 68.1h1M312.3 67.4h1M318.8 92.5h1M356.1 90.5h1M315.4 89.9h1M323.7 92.6h1M343.6 70.5h1M323.4 55.3h1" stroke="#000" stroke-opacity="0.27"/>
<path d="M343.9 89.9h1M347.5 57.2h1M335.3 92.3h1M332.0 87.0h1M341.4 60.4h1M331.5 57.7h1M303.4 52.8h1M317.4 58.0h1M325.8 93.7h1M342.3 85.3h1M329.9 92.7h1M335.6 58.7h1M280.1 59.6h1M309.6 89.5h1M290.8 99.1h1M333.9 78.4h1M325.7 77.4h1M316.5 45.2h1M328.5 90.8h1M288.4 54.8h1M322.2 99.4h1M329.3 61.7h1M336.3 101.5h1M300.3 86.4h1M336.4 90.7h1" stroke="#000" stroke-opacity="0.27"/>
<path d="M306.8 59.4h1M348.3 87.8h1M342.6 54.4h1M331.5 92.9h1M342.9 78.1h1M308.6 49.7h1M317.4 64.8h1M311.2 98.1h1M336.8 90.1h1M317.1 49.8h1M348.8 94.3h1M312.4 57.7h1M337.6 74.2h1M339.6 88.6h1M309.1 38.4h1M331.7 89.8h1M326.4 54.9h1M346.9 88.0h1M313.3 93.2h1M326.9 81.3h1M334.8 85.7h1M338.9 83.6h1M325.7 83.3h1M333.9 86.5h1M327.0 96.0h1" stroke="#000" stroke-opacity="0.27"/>
<path d="M341.6 94.8h1M335.0 94.1h1M309.2 50.4h1M324.0 81.2h1M277.4 54.3h1M339.5 82.0h1M320.6 67.7h1M341.5 83.4h1M322.9 94.8h1M342.3 77.7h1M311.5 66.3h1M340.3 92.8h1M334.4 56.9h1M335.2 84.5h1M346.4 93.1h1M302.5 61.3h1M305.7 61.9h1M328.7 73.8h1M308.5 52.2h1M345.3 85.3h1M332.3 95.4h1M330.8 88.8h1M336.1 99.1h1M304.7 62.0h1M342.1 95.7h1" stroke="#000" stroke-opacity="0.27"/>
<path d="M301.0 60.5h1M305.9 67.4h1M353.6 87.6h1M330.0 93.9h1M341.8 91.7h1M296.6 93.6h1M336.1 86.5h1M329.3 57.5h1M315.1 66.7h1M312.9 92.9h1M325.4 61.8h1M312.7 90.9h1M334.7 86.5h1M330.1 88.1h1M331.4 89.6h1M341.1 90.9h1M340.2 79.6h1M342.0 66.9h1M333.3 79.5h1M323.7 44.4h1M301.7 57.8h1M324.2 95.0h1M286.3 67.3h1M355.7 94.7h1M310.9 61.3h1" stroke="#000" stroke-opacity="0.27"/>
<path d="M333.2 89.4h1M343.9 94.9h1M290.1 54.8h1M337.9 61.7h1M331.1 66.2h1M316.1 43.8h1M322.6 54.4h1M285.3 55.6h1M332.5 61.6h1M314.1 89.0h1M315.0 48.2h1M337.3 87.5h1M297.7 55.2h1M318.2 60.6h1M347.1 80.3h1M338.7 91.0h1M338.7 84.6h1M322.1 61.8h1M328.4 82.9h1M322.6 50.1h1M341.8 96.2h1M343.9 96.2h1M329.6 61.3h1M337.0 86.8h1M319.2 53.5h1" stroke="#000" stroke-opacity="0.27"/>
<path d="M320.6 65.7h1M332.8 44.9h1M335.1 82.6h1M335.8 86.5h1M345.8 96.6h1M330.4 82.6h1M340.0 94.0h1M296.4 57.7h1M335.7 96.7h1M327.5 59.8h1M304.2 50.9h1M340.0 84.1h1M303.7 56.3h1M312.5 92.5h1M336.7 87.7h1M320.7 41.5h1M345.1 81.7h1M328.1 80.9h1M320.6 58.4h1M308.1 40.4h1M347.6 97.7h1M319.8 46.0h1M330.4 73.2h1M335.2 92.9h1M310.4 48.4h1" stroke="#000" stroke-opacity="0.27"/>
<path d="M310.3 86.9h1M320.3 44.7h1M338.2 90.5h1M324.3 93.7h1M275.5 45.2h1M334.0 93.8h1M339.6 93.5h1M318.0 87.0h1M311.6 91.9h1M336.8 81.5h1M313.1 66.6h1M309.2 94.9h1M306.7 82.2h1M308.8 90.7h1M315.9 84.1h1M341.7 83.6h1M338.4 79.8h1M331.7 91.3h1M320.9 86.0h1M330.6 91.3h1M287.9 88.8h1M296.6 53.2h1M338.6 89.5h1M308.2 56.7h1M322.7 84.7h1" stroke="#000" stroke-opacity="0.27"/>
<path d="M325.3 56.3h1M322.4 57.3h1M307.2 52.9h1M303.5 45.3h1M333.1 87.4h1M335.6 87.3h1M335.7 44.4h1M333.2 87.5h1M322.2 61.0h1M291.9 87.3h1M324.3 99.2h1M321.9 57.3h1M327.4 94.9h1M336.4 57.3h1M329.0 85.0h1M298.4 56.1h1M350.1 80.0h1M318.1 53.7h1M337.6 79.2h1M345.8 88.2h1M330.2 78.2h1M338.0 89.2h1M351.4 91.0h1M292.1 66.8h1M341.7 99.0h1" stroke="#000" stroke-opacity="0.27"/>
<path d="M323.8 47.5h1M330.1 90.7h1M332.7 91.6h1M351.5 96.3h1M324.1 78.0h1M332.6 84.5h1M315.2 97.1h1M314.1 82.8h1M288.7 57.7h1M294.7 78.7h1M298.5 52.1h1M337.7 86.4h1M288.6 43.8h1M346.7 91.0h1M327.8 88.7h1M338.2 100.0h1M328.8 91.2h1M340.2 86.6h1M338.3 72.5h1M333.0 99.0h1M336.2 80.0h1M286.9 62.2h1M331.5 91.9h1M315.1 83.5h1M313.2 93.8h1" stroke="#000" stroke-opacity="0.27"/>
<path d="M313.3 95.7h1M335.4 91.1h1M341.5 90.3h1M335.0 95.9h1M333.0 83.5h1M279.1 63.6h1M289.6 71.7h1M305.3 58.3h1M315.2 47.9h1M292.8 95.2h1M345.6 90.4h1M337.0 84.0h1M306.4 90.7h1M301.0 62.5h1M301.6 43.6h1M324.7 90.7h1M337.0 92.1h1M315.8 52.9h1M309.6 89.0h1M336.1 85.9h1M337.0 98.2h1M326.1 56.1h1M341.5 84.8h1M313.1 83.6h1M344.1 88.6h1" stroke="#000" stroke-opacity="0.27"/>
<path d="M334.5 92.0h1M323.3 88.2h1M316.2 78.4h1M339.8 87.0h1M347.9 82.4h1M341.9 97.8h1M340.0 89.9h1M334.4 61.2h1M322.6 86.4h1M289.1 57.8h1M293.6 49.2h1M313.8 50.8h1M322.1 55.2h1M349.9 92.4h1M337.3 91.7h1M340.3 91.7h1M350.0 76.0h1M291.9 47.4h1M348.8 90.4h1M340.0 60.5h1M331.3 82.8h1M351.2 89.6h1M342.9 83.9h1M329.0 86.8h1M316.9 98.7h1" stroke="#000" stroke-opacity="0.27"/>
<path d="M342.2 96.7h1M311.0 45.0h1M337.6 85.0h1M311.9 72.1h1M303.4 96.8h1M330.9 75.8h1M342.4 90.4h1M304.8 87.2h1M305.4 57.9h1M327.5 88.2h1M323.3 64.4h1M311.6 58.7h1M339.0 94.9h1M312.0 54.9h1M337.9 72.1h1M337.9 101.2h1M336.1 91.6h1M310.7 50.8h1M344.6 84.1h1M305.4 44.2h1M335.5 95.0h1M337.8 89.2h1M317.4 48.8h1M341.1 85.4h1M345.9 92.2h1" stroke="#000" stroke-opacity="0.27"/>
<path d="M332.0 94.0h1M324.5 96.9h1M326.0 96.1h1M336.1 54.1h1M335.7 93.3h1M316.3 94.9h1M293.9 87.5h1M343.9 96.8h1M344.2 87.1h1M306.9 54.2h1M334.1 92.8h1M336.9 89.9h1M331.5 89.2h1M340.5 98.5h1M335.3 94.3h1M330.3 100.3h1M334.0 50.8h1M295.3 41.7h1M337.9 89.1h1M301.5 47.5h1M334.9 98.1h1M297.1 51.4h1M348.2 86.4h1M323.8 79.9h1M346.6 46.0h1" stroke="#000" stroke-opacity="0.27"/>
<path d="M350.3 41.1h1M330.3 87.7h1M299.1 49.5h1M336.9 93.1h1M338.7 89.7h1M308.3 67.6h1M310.5 56.6h1M342.0 94.1h1M346.9 85.5h1M332.1 48.6h1M316.3 96.6h1M314.8 84.8h1M307.6 63.9h1M349.8 50.2h1M310.2 47.7h1M351.1 63.2h1M287.9 100.4h1M353.5 46.8h1M350.7 85.1h1M310.8 64.7h1M312.7 59.0h1M343.3 76.2h1M327.1 65.8h1M304.6 60.7h1M315.5 53.9h1" stroke="#000" stroke-opacity="0.27"/>
<path d="M325.3 49.3h1M301.4 56.5h1M330.7 85.1h1M334.7 93.5h1M315.9 74.4h1M336.5 82.2h1M331.4 94.6h1M334.1 91.6h1M335.4 94.2h1M322.8 92.7h1M313.7 88.2h1M327.2 54.9h1M358.9 94.0h1M337.9 84.2h1M310.5 53.0h1M324.9 96.5h1M328.5 94.1h1M331.7 61.4h1M315.8 64.4h1M285.5 53.1h1M343.8 89.3h1M323.4 86.2h1M333.4 84.7h1M341.1 90.9h1M307.2 90.0h1" stroke="#000" stroke-opacity="0.27"/>
<path d="M308.5 43.9h1M320.5 80.6h1M311.1 56.1h1M340.5 89.2h1M339.9 64.2h1M331.1 86.7h1M313.3 66.4h1M299.8 61.5h1M333.0 87.1h1M318.4 57.5h1M337.7 83.6h1M310.3 61.2h1M317.0 56.9h1M300.9 69.2h1M357.1 78.7h1M312.4 93.7h1M308.3 61.3h1M334.7 92.7h1M330.4 60.3h1M313.1 61.8h1M335.2 97.0h1M333.2 89.7h1M307.6 45.7h1M346.1 77.7h1M335.7 90.1h1" stroke="#000" stroke-opacity="0.27"/>
<path d="M335.9 87.7h1M323.1 61.5h1M330.1 86.1h1M332.5 81.8h1M329.9 69.9h1M356.4 65.6h1M324.5 90.1h1M293.3 48.3h1M329.2 66.2h1M302.2 44.6h1M303.9 92.4h1M336.0 93.0h1M300.4 94.7h1M348.4 89.1h1M315.2 44.6h1M326.1 95.3h1M336.2 88.7h1M307.4 94.0h1M333.1 89.9h1M332.8 89.3h1M299.6 59.7h1M337.7 72.0h1M336.3 74.9h1M336.6 95.3h1M333.0 89.2h1" stroke="#000" stroke-opacity="0.27"/>
<path d="M339.2 59.4h1M336.1 88.4h1M308.0 64.4h1M305.6 44.7h1M343.5 86.8h1M299.8 58.3h1M335.3 82.9h1M313.5 52.2h1M322.4 56.3h1M330.5 89.4h1M339.9 79.9h1M308.2 97.4h1M321.8 52.9h1M331.6 89.1h1M331.4 46.0h1M334.2 92.5h1M299.1 50.6h1M331.5 89.9h1M316.5 60.3h1M337.6 98.9h1M312.6 60.3h1M301.6 93.4h1M330.3 81.2h1M338.8 83.5h1M333.2 82.5h1" stroke="#000" stroke-opacity="0.27"/>
<path d="M302.3 59.3h1M282.3 69.2h1M303.8 92.0h1M325.8 87.2h1M305.2 55.8h1M302.5 84.6h1M345.9 84.4h1M336.4 69.2h1M304.7 64.0h1M296.2 60.2h1M310.8 50.7h1M306.7 52.0h1M345.3 98.5h1M315.0 53.1h1M338.3 91.7h1M323.7 77.5h1M321.8 62.8h1M323.8 98.4h1M309.0 87.7h1M316.2 86.3h1M333.1 80.7h1M341.4 83.7h1M348.3 94.0h1M304.2 53.9h1M318.2 51.0h1" stroke="#000" stroke-opacity="0.27"/>
<path d="M320.8 65.9h1M329.7 63.4h1M274.4 46.3h1M312.1 57.3h1M304.1 81.8h1M323.1 89.9h1M331.5 78.9h1M296.1 58.9h1M340.1 87.3h1M336.1 98.7h1M334.1 56.4h1M333.3 85.1h1M336.0 90.2h1M310.2 56.1h1M339.6 83.3h1M330.9 62.4h1M317.3 45.1h1M304.1 78.2h1M331.2 92.1h1M309.7 83.9h1M286.7 64.7h1M333.4 96.7h1M331.7 97.7h1M299.6 40.9h1M332.6 74.1h1" stroke="#000" stroke-opacity="0.27"/>
<path d="M345.0 88.7h1M336.4 87.0h1M343.2 88.6h1M332.5 87.6h1M338.2 92.8h1M334.9 96.0h1M326.7 92.1h1M316.3 81.6h1M313.8 86.9h1M285.0 60.7h1M305.2 54.3h1M338.0 88.2h1M312.0 83.2h1M330.6 56.9h1M293.5 64.1h1M309.6 96.9h1M335.9 54.0h1M336.9 86.2h1M325.8 57.4h1M343.1 82.2h1M289.0 90.9h1M340.4 79.6h1M301.7 51.4h1M336.6 56.1h1M333.7 91.9h1" stroke="#000" stroke-opacity="0.27"/>
<path d="M339.5 91.4h1M311.5 62.4h1M331.0 85.7h1M301.8 59.9h1M328.0 91.3h1M333.6 87.7h1M308.9 93.4h1M332.3 85.6h1M307.1 43.7h1M338.7 89.5h1M315.5 92.7h1M345.4 86.2h1M320.0 66.9h1M337.2 84.1h1M338.9 89.9h1M300.3 56.5h1M346.5 91.0h1M331.7 78.4h1M339.9 100.4h1M339.1 91.1h1M329.6 93.7h1M336.9 84.6h1M339.4 99.5h1M296.6 54.8h1M357.7 80.6h1" stroke="#000" stroke-opacity="0.27"/>
<path d="M317.7 59.1h1M341.8 64.7h1M328.2 80.2h1M336.1 85.5h1M318.3 45.1h1M356.7 87.9h1M319.0 86.7h1M330.4 89.9h1M325.0 87.0h1M291.7 64.4h1M342.7 83.0h1M335.4 73.9h1M330.5 90.0h1M304.1 63.5h1M288.1 62.3h1M322.7 95.9h1M314.0 53.5h1M321.0 54.7h1M324.5 91.5h1M331.7 96.8h1M321.7 55.0h1M339.5 93.1h1M334.4 81.0h1M330.8 91.2h1M338.7 91.0h1" stroke="#000" stroke-opacity="0.27"/>
<path d="M313.7 62.0h1M332.6 69.2h1M332.2 90.1h1M336.5 98.8h1M337.7 94.6h1M305.1 91.4h1M311.3 95.5h1M343.5 69.1h1M316.7 55.8h1M337.0 89.0h1M352.6 88.6h1M307.3 65.8h1M361.1 88.6h1M302.7 60.4h1M301.9 62.5h1M341.7 89.2h1M318.5 57.9h1M311.5 85.1h1M329.2 79.2h1M277.7 55.9h1M322.5 86.9h1M302.0 56.9h1M344.6 86.9h1M335.3 84.9h1M311.8 60.3h1" stroke="#000" stroke-opacity="0.27"/>
<path d="M305.5 68.3h1M334.7 79.3h1M304.4 59.8h1M310.7 95.6h1M342.6 91.7h1M329.7 95.3h1M300.5 64.7h1M338.6 98.0h1M316.0 61.2h1M328.7 70.8h1M340.0 87.2h1M334.3 88.8h1M343.2 87.8h1M338.2 65.9h1M330.0 80.5h1M343.2 94.7h1M314.9 95.4h1M340.6 91.8h1M317.9 49.5h1M276.8 89.7h1M310.0 61.6h1M308.6 95.4h1M303.8 51.2h1M313.4 82.9h1M327.7 74.6h1" stroke="#000" stroke-opacity="0.27"/>
<path d="M303.8 54.5h1M335.7 92.5h1M343.4 77.0h1M323.9 65.2h1M298.9 51.6h1M340.3 87.4h1M335.5 92.0h1M332.5 85.9h1M309.5 52.9h1M329.1 83.1h1M334.0 58.0h1M335.4 78.2h1M303.5 47.7h1M312.8 52.9h1M337.4 91.5h1M304.9 81.5h1M332.2 76.9h1M343.2 90.4h1M312.4 44.9h1M316.5 49.9h1M331.4 94.9h1M326.6 100.5h1M336.9 96.3h1M332.1 72.6h1M337.3 95.1h1" stroke="#000" stroke-opacity="0.27"/>
<path d="M346.2 89.2h1M331.7 87.8h1M344.1 100.3h1M342.6 95.1h1M300.1 55.8h1M335.0 61.1h1M336.4 97.1h1M333.0 88.8h1M302.2 90.4h1M328.4 64.9h1M291.3 59.1h1M319.7 58.6h1M339.9 97.6h1M294.5 58.9h1M337.3 97.3h1M320.7 70.0h1M298.1 58.5h1M303.1 48.5h1M303.7 59.9h1M331.8 93.4h1M333.6 82.2h1M329.3 56.4h1M305.1 68.3h1M325.9 47.7h1M339.9 85.7h1" stroke="#000" stroke-opacity="0.27"/>
<path d="M307.8 85.3h1M313.5 95.1h1M330.1 91.3h1M335.4 94.6h1M350.5 83.0h1M339.4 97.5h1M336.0 81.7h1M337.0 61.8h1M353.2 84.8h1M340.2 91.0h1M297.5 59.0h1M297.5 67.4h1M332.8 95.0h1M342.8 69.7h1M345.1 96.2h1M333.1 89.9h1M335.3 70.5h1M324.8 85.1h1M341.2 92.3h1M313.3 55.1h1M345.4 86.1h1M339.3 87.8h1M348.5 50.7h1M316.3 87.5h1M331.5 90.6h1" stroke="#000" stroke-opacity="0.27"/>
<path d="M304.4 79.3h1M339.0 80.7h1M339.4 93.6h1M336.8 92.6h1M309.2 53.6h1M327.6 87.8h1M342.5 96.5h1M325.4 38.2h1M292.9 90.2h1M341.9 95.7h1M343.5 97.3h1M336.4 78.9h1M317.1 60.0h1M306.5 93.6h1M311.9 86.9h1M318.2 97.7h1M340.0 85.9h1M342.8 83.8h1M315.4 74.6h1M346.4 91.3h1M332.1 96.3h1M334.9 92.4h1M344.4 92.9h1M306.0 55.8h1M336.7 91.6h1" stroke="#000" stroke-opacity="0.27"/>
<path d="M319.9 58.0h1M309.5 59.3h1M344.2 86.5h1M295.7 56.6h1M336.9 76.2h1M332.8 76.9h1M330.0 89.0h1M316.3 59.0h1M335.2 88.0h1M335.6 86.8h1M293.1 100.6h1M300.3 59.6h1M355.1 66.9h1M345.2 87.8h1M326.1 66.3h1M332.0 94.7h1M338.5 48.8h1M284.2 52.1h1M313.9 50.1h1M315.8 61.3h1M339.4 93.2h1M326.1 74.8h1M294.0 57.1h1M340.1 99.3h1M332.6 81.3h1" stroke="#000" stroke-opacity="0.27"/>
<path d="M331.6 86.5h1M321.8 54.8h1M293.8 87.3h1M353.1 97.1h1M322.8 57.6h1M317.1 93.7h1M333.2 100.4h1M330.6 53.0h1M339.9 96.6h1M324.2 44.6h1M332.7 57.8h1M342.8 92.2h1M299.4 53.8h1M336.0 92.3h1M344.8 96.9h1M299.5 97.4h1M296.6 48.3h1M300.3 67.8h1M348.4 89.6h1M325.8 47.2h1M338.0 87.3h1M345.2 52.3h1M316.4 70.3h1M312.7 57.7h1M307.5 89.4h1" stroke="#000" stroke-opacity="0.27"/>
<path d="M316.6 64.6h1M292.5 61.1h1M325.1 87.4h1M295.7 96.7h1M338.0 64.4h1M330.3 65.2h1M311.9 59.8h1M339.6 64.6h1M340.8 82.4h1M310.3 82.4h1M314.9 74.1h1M301.1 80.9h1M299.6 63.4h1M307.0 65.2h1M345.6 101.4h1M341.5 49.9h1M330.4 85.5h1M316.0 57.8h1M331.6 89.5h1M336.9 89.9h1M343.3 88.1h1M332.9 84.9h1M333.9 75.9h1M329.4 95.5h1M311.0 53.1h1" stroke="#000" stroke-opacity="0.27"/>
<path d="M310.7 90.1h1M327.8 94.4h1M329.9 90.4h1M301.5 90.1h1M320.9 42.7h1M296.6 98.2h1M317.9 92.9h1M344.2 58.7h1M329.9 95.8h1M332.7 52.2h1M328.5 74.6h1M303.5 50.3h1M347.7 81.8h1M313.4 61.6h1M337.5 94.7h1M311.4 65.4h1M290.3 38.9h1M329.2 94.9h1M326.5 47.4h1M294.7 54.3h1M339.6 89.2h1M319.0 59.1h1M334.5 84.0h1M312.9 87.5h1M339.5 83.1h1" stroke="#000" stroke-opacity="0.27"/>
<path d="M294.3 67.4h1M337.4 86.9h1M311.2 80.1h1M328.5 79.4h1M320.5 63.8h1M315.1 91.1h1M319.9 97.7h1M339.9 91.5h1M307.1 91.9h1M343.4 78.7h1M325.4 54.0h1M341.4 93.9h1M288.5 52.7h1M342.4 90.7h1M325.7 50.4h1M334.2 91.5h1M301.7 84.5h1M343.6 90.5h1M343.0 91.6h1M344.6 91.1h1M307.0 55.4h1M340.7 86.4h1M312.1 60.7h1M299.2 57.0h1M338.2 84.3h1" stroke="#000" stroke-opacity="0.27"/>
<path d="M327.6 59.6h1M310.3 55.5h1M316.6 96.3h1M314.5 58.9h1M343.0 99.9h1M309.5 58.9h1M298.3 96.1h1M328.5 60.3h1M327.5 96.2h1M295.2 54.9h1M348.5 88.2h1M313.1 86.1h1M339.3 93.9h1M347.1 98.8h1M332.9 88.8h1M341.1 98.5h1M312.0 55.5h1M315.8 54.4h1M328.5 93.0h1M317.9 56.5h1M328.7 92.0h1M344.4 93.7h1M319.8 83.7h1M323.1 81.7h1M305.2 64.0h1" stroke="#000" stroke-opacity="0.27"/>
<path d="M340.6 90.7h1M344.5 87.3h1M330.9 86.2h1M329.1 87.5h1M343.0 70.6h1M311.8 78.8h1M343.5 86.8h1M329.8 98.4h1M337.7 87.3h1M297.1 53.6h1M323.2 54.4h1M344.4 86.3h1M340.5 93.5h1M338.8 93.6h1M300.2 63.6h1M303.8 56.6h1M306.2 48.9h1M321.9 80.0h1M324.8 98.5h1M346.1 98.3h1M319.5 64.1h1M346.9 78.9h1M317.7 72.9h1M342.5 91.6h1M321.9 86.5h1" stroke="#000" stroke-opacity="0.27"/>
<path d="M294.1 58.1h1M334.2 46.8h1M317.1 98.0h1M301.6 64.4h1M337.5 85.6h1M298.5 58.4h1M332.6 67.5h1M339.7 98.0h1M341.7 100.6h1M336.0 86.5h1M315.8 52.7h1M332.0 94.0h1M340.8 96.9h1M342.3 92.1h1M321.5 55.5h1M334.0 81.9h1M329.2 90.9h1M308.2 65.6h1M278.1 51.9h1M317.7 56.3h1M331.9 90.6h1M318.4 44.8h1M323.3 59.9h1M300.3 85.8h1M344.2 87.1h1" stroke="#000" stroke-opacity="0.27"/>
<path d="M332.7 87.1h1M342.8 81.7h1M303.9 55.6h1M337.7 92.2h1M326.0 84.2h1M303.8 56.0h1M338.4 57.7h1M288.0 66.7h1M332.6 91.5h1M341.2 98.2h1M334.7 82.8h1M303.1 51.6h1M334.5 91.0h1M338.3 91.9h1M332.8 89.3h1M320.7 51.5h1M305.7 63.1h1M312.6 49.0h1M339.1 94.0h1M334.0 87.1h1M320.8 71.6h1M339.5 87.9h1M317.4 51.0h1M325.7 99.3h1M329.1 101.1h1" stroke="#000" stroke-opacity="0.27"/>
<path d="M300.0 64.0h1M339.2 84.9h1M346.8 83.4h1M357.3 73.8h1M322.9 85.4h1M287.9 56.6h1M343.9 84.3h1M332.3 87.5h1M331.6 85.5h1M322.3 89.7h1M338.9 88.7h1M302.9 50.5h1M326.9 83.3h1M331.2 91.7h1M332.7 85.3h1M340.1 89.2h1M332.2 95.1h1M301.3 64.3h1M306.8 91.3h1M330.6 70.8h1M340.0 86.7h1M332.4 85.0h1M335.3 90.5h1M340.6 91.9h1M329.3 53.1h1" stroke="#000" stroke-opacity="0.27"/>
<path d="M318.1 92.0h1M330.7 56.5h1M334.9 83.1h1M342.4 84.8h1M322.2 57.7h1M336.8 100.5h1M332.9 92.4h1M323.0 58.6h1M303.0 50.0h1M332.8 83.6h1M337.8 86.6h1M330.9 93.5h1M335.8 83.8h1M296.2 84.4h1M328.2 53.2h1M345.1 67.1h1M334.0 80.9h1M302.6 39.8h1M318.9 84.2h1M335.2 98.2h1M321.8 46.7h1M342.5 89.4h1M310.9 76.4h1M337.2 93.0h1M300.3 49.4h1" stroke="#000" stroke-opacity="0.27"/>
<path d="M337.6 90.9h1M341.0 84.4h1M337.4 94.4h1M328.4 89.7h1M325.0 90.8h1M343.8 97.3h1M334.1 54.9h1M335.0 84.9h1M303.6 53.1h1M345.2 93.4h1M325.9 86.0h1M334.2 58.4h1M342.3 94.1h1M294.0 96.2h1M341.1 84.9h1M335.8 84.3h1M315.7 52.9h1M325.5 93.4h1M314.0 48.7h1M333.8 62.6h1M314.3 88.3h1M342.7 90.9h1M343.1 86.4h1M349.1 95.2h1M310.2 67.0h1" stroke="#000" stroke-opacity="0.27"/>
<path d="M339.7 92.7h1M319.8 59.4h1M319.5 64.3h1M322.1 48.1h1M334.8 97.1h1M300.5 60.8h1M321.0 92.2h1M334.5 85.1h1M319.5 94.3h1M342.2 81.6h1M307.9 67.0h1M341.3 85.7h1M336.0 92.6h1M303.9 61.8h1M329.0 90.8h1M295.7 46.6h1M349.0 42.0h1M324.9 68.7h1M305.6 55.5h1M340.9 94.2h1M337.6 93.9h1M330.2 96.4h1M333.3 88.8h1M314.7 43.8h1M331.2 91.4h1" stroke="#000" stroke-opacity="0.27"/>
<path d="M332.4 90.9h1M309.7 92.5h1M335.4 89.8h1M336.0 87.8h1M334.0 93.6h1M332.6 93.0h1M326.1 56.2h1M341.9 66.3h1M330.5 68.2h1M304.8 61.4h1M338.1 93.8h1M343.7 92.2h1M323.6 89.4h1M325.8 87.7h1M300.4 57.9h1M341.3 84.3h1M327.1 74.4h1M299.9 58.8h1M343.6 96.6h1M344.4 97.1h1M332.2 86.2h1M335.9 88.8h1M311.9 65.2h1M336.1 90.1h1M339.9 90.1h1" stroke="#000" stroke-opacity="0.27"/>
<path d="M324.2 90.4h1M336.8 84.6h1M345.1 93.4h1M338.5 85.2h1M345.5 88.5h1M297.1 62.5h1M343.7 77.5h1M319.2 92.4h1M335.4 87.9h1M307.4 86.5h1M337.9 91.6h1M313.6 67.0h1M339.2 90.1h1M305.5 54.9h1M339.5 89.0h1M332.1 49.3h1M333.6 95.3h1M323.1 82.4h1M331.9 51.8h1M306.0 68.9h1M335.4 93.0h1M325.9 94.2h1M335.6 94.8h1M324.9 75.4h1M343.8 93.1h1" stroke="#000" stroke-opacity="0.27"/>
<path d="M324.4 88.0h1M306.7 59.3h1M333.6 95.7h1M331.3 58.8h1M333.3 90.5h1M330.2 93.9h1M342.6 90.2h1M330.8 87.1h1M299.8 87.7h1M309.6 86.0h1M354.5 82.2h1M317.8 86.0h1M334.9 98.9h1M292.1 64.7h1M331.4 77.4h1M296.9 91.7h1M326.4 49.3h1M345.2 87.9h1M311.5 67.8h1M344.0 93.5h1M337.8 87.8h1M320.7 76.5h1M299.5 50.7h1M306.6 91.4h1M307.1 59.0h1" stroke="#000" stroke-opacity="0.27"/>
<path d="M331.7 84.1h1M311.0 59.3h1M300.7 52.1h1M298.4 92.2h1M330.3 68.4h1M340.7 58.0h1M291.2 53.8h1M327.9 58.6h1M332.9 92.3h1M330.1 94.8h1M319.3 55.9h1M348.5 87.1h1M314.8 83.3h1M352.1 97.6h1M298.0 53.3h1M318.8 64.5h1M335.8 86.7h1M313.6 53.5h1M337.2 84.0h1M297.6 65.6h1M307.6 47.0h1M317.0 62.2h1M313.9 84.4h1M319.4 94.0h1M305.0 91.4h1" stroke="#000" stroke-opacity="0.27"/>
<path d="M343.7 91.3h1M331.6 70.6h1M343.4 100.0h1M339.3 91.1h1M327.0 68.1h1M330.5 90.0h1M342.0 91.6h1M336.3 73.4h1M342.9 92.8h1M350.7 82.4h1M318.6 89.5h1M317.4 55.9h1M345.6 98.3h1M331.2 83.8h1M332.1 86.9h1M343.5 87.1h1M314.1 56.7h1M339.8 86.3h1M289.5 61.1h1M337.2 87.0h1M308.1 49.7h1M324.4 88.9h1M301.9 68.8h1M298.1 51.8h1M344.6 83.0h1" stroke="#000" stroke-opacity="0.27"/>
<path d="M306.5 57.3h1M336.8 86.5h1M312.6 52.6h1M318.3 57.4h1M313.3 88.1h1M329.0 65.2h1M324.2 65.8h1M339.2 96.2h1M316.3 51.8h1M321.5 90.8h1M331.6 84.1h1M332.1 100.6h1M343.3 85.3h1M340.1 65.7h1M314.3 98.5h1M313.6 63.7h1M333.6 89.0h1M317.0 87.9h1M334.9 90.5h1M323.8 54.5h1M323.4 48.0h1M308.3 56.5h1M311.8 55.1h1M331.6 92.7h1M339.0 101.4h1" stroke="#000" stroke-opacity="0.27"/>
<path d="M334.0 85.0h1M342.7 89.6h1M333.8 94.2h1M328.2 93.4h1M339.7 90.0h1M333.1 83.1h1M288.8 99.0h1M302.9 51.3h1M339.3 84.5h1M309.6 93.8h1M333.2 96.7h1M298.4 60.7h1M329.0 97.7h1M294.0 97.0h1M284.7 72.2h1M354.5 79.6h1M331.8 90.1h1M337.8 91.3h1M333.1 95.5h1M343.7 97.0h1M337.3 84.9h1M339.7 98.9h1M299.7 47.8h1M333.0 62.6h1M337.7 77.6h1" stroke="#000" stroke-opacity="0.27"/>
<path d="M307.6 86.3h1M290.1 51.0h1M333.2 51.1h1M317.6 55.5h1M309.6 68.7h1M338.6 50.2h1M318.2 55.3h1M340.1 92.9h1M335.0 85.6h1M315.5 88.0h1M296.2 63.9h1M338.8 54.4h1M320.8 95.7h1M304.9 90.1h1M343.5 91.0h1M341.2 74.8h1M314.3 60.1h1M340.7 88.4h1M332.6 87.0h1M337.2 97.3h1M307.6 73.0h1M325.8 54.3h1M345.5 79.0h1M298.5 55.6h1M337.8 96.6h1" stroke="#000" stroke-opacity="0.27"/>
<path d="M340.2 89.6h1M334.0 94.3h1M330.9 87.7h1M343.7 85.2h1M300.3 59.7h1M337.8 91.7h1M330.8 96.2h1M303.9 94.9h1M341.3 83.8h1M325.8 83.3h1M340.1 81.8h1M322.7 49.9h1M293.8 53.4h1M315.8 90.1h1M304.5 42.2h1M353.6 93.1h1M331.7 88.6h1M342.5 100.6h1M315.2 92.3h1M344.1 88.1h1M344.3 73.9h1M322.6 94.6h1M312.5 68.8h1M335.7 69.8h1M325.5 91.1h1" stroke="#000" stroke-opacity="0.27"/>
<path d="M342.6 90.1h1M340.9 89.1h1M330.0 66.3h1M336.7 85.4h1M312.5 46.8h1M344.3 78.8h1M312.5 78.6h1M335.9 82.7h1M336.0 90.9h1M297.2 89.1h1M341.2 92.8h1M339.8 87.5h1M317.0 60.2h1M306.5 61.0h1M331.2 73.0h1M335.3 98.1h1M309.5 98.4h1M323.9 56.5h1M334.1 81.9h1M305.3 99.4h1M325.3 95.7h1M339.4 93.0h1M343.2 84.2h1M336.3 90.5h1M333.9 94.5h1" stroke="#000" stroke-opacity="0.27"/>
<path d="M315.9 61.3h1M337.2 69.0h1M310.3 86.4h1M308.6 56.2h1M330.9 94.1h1M332.8 91.7h1M312.1 56.2h1M341.7 91.5h1M339.0 93.9h1M320.3 100.6h1M324.2 95.6h1M330.6 93.0h1M325.0 41.8h1M301.4 68.9h1M340.8 88.1h1M316.3 56.8h1M321.6 57.4h1M343.6 87.1h1M317.4 82.3h1M315.5 39.9h1M320.9 53.6h1M326.5 92.3h1M343.0 94.4h1M336.2 61.4h1M326.2 91.7h1" stroke="#000" stroke-opacity="0.27"/>
<path d="M332.3 87.7h1M329.8 95.7h1M326.3 95.3h1M337.6 90.8h1M294.6 57.1h1M341.0 86.7h1M337.2 61.5h1M306.9 94.7h1M278.1 57.4h1M294.7 44.2h1M333.5 70.0h1M329.1 95.7h1M348.6 85.3h1M304.5 87.1h1M286.9 92.3h1M323.5 57.3h1M297.3 58.2h1M330.6 90.6h1M325.1 90.0h1M306.0 89.3h1M333.3 99.2h1M302.4 86.4h1M304.3 52.2h1M280.6 100.2h1M340.8 92.5h1" stroke="#000" stroke-opacity="0.27"/>
<path d="M299.4 54.5h1M337.9 94.2h1M340.0 93.4h1M334.1 85.6h1M308.8 51.0h1M317.3 52.8h1M342.0 97.1h1M340.4 82.3h1M300.5 88.8h1M320.2 94.3h1M341.6 86.9h1M327.6 92.3h1M324.8 47.4h1M347.6 86.2h1M336.5 91.3h1M334.0 92.7h1M335.0 87.4h1M334.8 94.2h1M327.4 50.1h1M335.6 52.5h1M321.5 59.4h1M336.4 66.0h1M304.9 52.5h1M313.0 52.4h1M309.1 92.5h1" stroke="#000" stroke-opacity="0.27"/>
<path d="M333.8 87.7h1M335.9 89.8h1M345.0 65.2h1M317.2 62.4h1M342.7 97.1h1M312.2 51.0h1M310.3 55.4h1M341.1 77.0h1M291.9 51.6h1M314.2 61.9h1M320.8 85.8h1M333.9 97.1h1M296.4 92.5h1M351.0 92.3h1M332.2 97.8h1M340.1 75.1h1M347.5 88.8h1M316.2 79.9h1M336.7 94.4h1M336.8 63.9h1M331.9 53.1h1M323.4 84.5h1M327.6 97.7h1M334.4 85.6h1M294.5 48.0h1" stroke="#000" stroke-opacity="0.27"/>
<path d="M342.9 81.5h1M310.1 79.9h1M318.8 71.8h1M338.1 88.1h1M318.8 94.3h1M315.3 88.6h1M313.9 51.6h1M344.2 98.0h1M336.1 86.2h1M334.2 64.8h1M352.5 88.1h1M354.1 93.4h1M339.8 75.3h1M329.3 93.8h1M331.2 96.7h1M312.3 77.1h1M284.2 64.6h1M333.3 97.6h1M302.7 94.4h1M299.4 93.1h1M339.8 77.5h1M339.5 81.5h1M346.2 84.4h1M306.0 50.6h1M307.9 54.6h1" stroke="#000" stroke-opacity="0.27"/>
<path d="M334.9 84.9h1M339.3 98.2h1M343.4 70.1h1M329.9 93.1h1M307.1 89.5h1M346.3 80.6h1M319.9 50.6h1M330.3 95.9h1M325.5 82.5h1M340.9 93.4h1M325.0 52.0h1M331.9 89.2h1M317.4 61.5h1M275.2 49.9h1M341.0 96.3h1M319.2 58.6h1M291.3 55.3h1M317.2 68.8h1M351.8 89.3h1M331.0 90.1h1M321.9 55.0h1M342.1 83.7h1M330.7 96.0h1M349.7 99.5h1M333.2 62.4h1" stroke="#000" stroke-opacity="0.27"/>
<path d="M348.8 95.5h1M352.6 89.4h1M303.4 58.4h1M331.1 98.9h1M338.2 86.4h1M340.6 85.8h1M320.1 58.0h1M305.4 64.9h1M340.0 76.5h1M352.7 87.3h1M347.4 91.9h1M302.7 52.0h1M342.6 79.4h1M324.3 87.4h1M312.4 50.4h1M334.1 97.7h1M326.2 91.1h1M316.7 82.7h1M331.9 79.3h1M313.0 62.8h1M316.2 55.0h1M345.8 90.6h1M310.7 86.0h1M320.1 54.9h1M344.6 91.3h1" stroke="#000" stroke-opacity="0.27"/>
<path d="M326.3 53.4h1M306.3 51.0h1M320.4 62.0h1M299.8 54.2h1M280.4 54.5h1M287.6 55.6h1M349.6 81.7h1M341.3 92.8h1M294.7 60.7h1M320.3 61.8h1M329.6 92.3h1M300.1 57.1h1M299.4 51.0h1M342.9 89.6h1M327.2 68.4h1M335.6 95.4h1M342.0 81.2h1M331.2 87.3h1M344.4 91.4h1M306.7 63.1h1M304.1 52.6h1M336.1 71.5h1M338.5 90.4h1M318.1 93.5h1M301.9 68.0h1" stroke="#000" stroke-opacity="0.27"/>
<path d="M310.6 96.1h1M317.4 60.9h1M347.5 87.7h1M305.8 90.8h1M306.6 91.3h1M329.9 83.9h1M349.7 94.5h1M342.7 50.1h1M335.5 91.0h1M307.0 92.7h1M344.2 79.7h1M301.0 90.7h1M329.7 91.9h1M309.3 57.5h1M343.3 91.8h1M311.9 88.7h1M341.7 90.1h1M333.5 87.1h1M345.0 82.9h1M329.8 57.0h1M335.6 83.4h1M343.1 92.7h1M342.8 95.8h1M323.5 88.3h1M344.9 81.8h1" stroke="#000" stroke-opacity="0.27"/>
<path d="M343.3 90.1h1M295.0 53.8h1M344.9 93.3h1M329.4 85.8h1M308.2 56.6h1M322.3 59.4h1M321.4 81.6h1M301.9 85.6h1M328.2 85.4h1M295.7 84.1h1M292.8 51.2h1M321.6 51.3h1M334.2 91.0h1M306.6 54.3h1M307.3 59.2h1M337.4 86.7h1M339.9 83.4h1M294.5 96.0h1M327.5 82.7h1M339.1 100.3h1M317.6 60.6h1M344.1 91.4h1M328.3 52.9h1M306.8 53.7h1M328.2 48.1h1" stroke="#000" stroke-opacity="0.27"/>
<path d="M317.3 71.8h1M317.7 60.9h1M325.9 89.8h1M338.6 99.9h1M337.2 71.3h1M292.5 45.7h1M328.3 88.0h1M320.3 58.8h1M322.2 45.5h1M332.1 90.4h1M333.8 89.2h1M322.0 84.0h1M343.1 85.3h1M321.3 95.4h1M299.7 57.9h1M306.1 84.4h1M305.7 85.6h1M335.6 89.0h1M336.2 85.6h1M339.6 85.8h1M295.1 67.6h1M291.7 53.6h1M315.2 54.4h1M345.5 89.1h1M313.0 69.2h1" stroke="#000" stroke-opacity="0.27"/>
<path d="M341.3 83.5h1M282.2 57.8h1M322.9 51.1h1M318.5 65.4h1M320.5 78.3h1M341.2 79.7h1M311.5 84.8h1M339.0 96.3h1M342.1 97.2h1M304.8 45.7h1M292.6 51.1h1M301.5 54.8h1M331.4 64.7h1M339.7 92.1h1M337.7 95.0h1M306.8 56.4h1M335.3 95.1h1M341.6 100.4h1M339.6 84.1h1M290.7 63.7h1M335.1 92.6h1M340.8 82.5h1M325.2 98.7h1M327.2 79.7h1M333.6 83.8h1" stroke="#000" stroke-opacity="0.27"/>
<path d="M324.2 96.0h1M305.5 61.1h1M340.4 93.5h1M311.1 95.7h1M284.1 55.2h1M336.8 86.9h1M296.0 81.0h1M332.0 88.0h1M291.7 85.2h1M323.3 82.3h1M319.6 88.9h1M347.7 71.5h1M347.9 53.9h1M313.6 87.4h1M318.4 55.3h1M352.2 83.1h1M323.9 70.1h1M337.5 84.5h1M335.7 83.4h1M336.2 93.3h1M336.4 94.1h1M340.8 79.7h1M312.0 62.9h1M313.7 94.2h1M303.3 66.8h1" stroke="#000" stroke-opacity="0.27"/>
<path d="M332.2 83.3h1M325.9 76.5h1M319.1 38.4h1M301.5 69.8h1M341.3 56.5h1M307.4 56.8h1M341.4 63.4h1M313.1 90.3h1M319.3 58.6h1M302.0 60.1h1M288.6 93.5h1M346.6 56.3h1M331.7 89.1h1M280.5 53.7h1M335.4 86.9h1M293.6 57.0h1M333.8 87.0h1M341.5 94.8h1M330.9 87.6h1M338.7 93.1h1M341.5 69.9h1M307.9 56.3h1M339.3 82.2h1M347.6 87.2h1M322.9 51.5h1" stroke="#000" stroke-opacity="0.27"/>
<path d="M341.8 91.5h1M291.4 84.9h1M338.2 65.5h1M331.9 81.5h1M306.2 55.9h1M292.4 61.0h1M334.5 61.9h1M315.9 62.1h1M333.1 91.2h1M332.8 50.5h1M330.9 89.0h1M333.0 74.9h1M330.9 91.6h1M295.1 54.1h1M322.2 64.3h1M338.3 85.3h1M337.0 84.6h1M336.2 90.1h1M303.8 61.0h1M347.6 95.9h1M291.4 54.4h1M338.0 81.8h1M343.7 94.9h1M339.4 86.4h1M331.8 97.1h1" stroke="#000" stroke-opacity="0.27"/>
<path d="M340.9 81.5h1M329.5 51.2h1M332.0 83.9h1M296.5 54.3h1M337.9 99.9h1M331.7 93.0h1M341.8 95.2h1M337.0 72.9h1M312.3 94.8h1M324.0 91.4h1M293.8 48.8h1M330.5 88.5h1M339.0 79.7h1M330.2 101.3h1M338.3 96.4h1M326.4 84.9h1M330.6 47.1h1M311.6 52.4h1M343.6 94.6h1M328.1 72.0h1M297.7 55.9h1M338.4 87.9h1M339.6 98.8h1M335.0 94.1h1M305.5 57.1h1" stroke="#000" stroke-opacity="0.27"/>
<path d="M334.3 81.2h1M326.8 87.9h1M345.6 98.1h1M336.6 85.4h1M326.1 93.2h1M343.6 90.7h1M336.0 93.1h1M323.3 63.6h1M297.7 41.6h1M310.8 56.9h1M332.1 83.5h1M330.9 85.5h1M329.3 60.7h1M331.2 96.5h1M297.8 53.0h1M337.3 92.6h1M347.7 91.6h1M340.0 93.5h1M323.8 98.8h1M331.7 66.6h1M333.1 99.4h1M346.6 55.3h1M304.6 62.6h1M342.0 83.4h1M303.7 52.1h1" stroke="#000" stroke-opacity="0.27"/>
<path d="M342.2 92.7h1M337.1 66.8h1M334.3 86.2h1M337.5 84.2h1M341.2 53.8h1M329.7 85.9h1M320.2 54.8h1M309.7 65.8h1M307.4 56.6h1M343.1 81.5h1M344.4 73.7h1M325.5 63.4h1M330.2 79.2h1M335.4 90.4h1M345.4 99.0h1M314.8 59.0h1M293.3 63.4h1M316.5 53.3h1M326.4 93.7h1M349.1 80.1h1M328.0 52.2h1M334.0 89.2h1M331.6 99.1h1M320.7 87.3h1M321.4 44.7h1" stroke="#000" stroke-opacity="0.27"/>
<path d="M353.3 83.2h1M335.4 99.1h1M295.7 55.0h1M303.7 64.6h1M326.1 65.7h1M332.8 80.2h1M327.6 66.1h1M327.5 94.5h1M336.1 91.6h1M333.5 87.4h1M345.7 84.8h1M360.0 58.9h1M339.3 96.1h1M332.6 87.4h1M306.5 50.5h1M329.5 91.9h1M332.6 91.4h1M294.1 36.3h1M340.9 90.8h1M293.5 44.9h1M329.3 47.0h1M314.2 49.5h1M337.7 89.1h1M339.7 95.0h1M335.0 87.2h1" stroke="#000" stroke-opacity="0.27"/>
<path d="M324.7 84.2h1M338.0 87.8h1M344.7 53.7h1M308.6 50.1h1M302.1 89.9h1M338.5 94.6h1M323.5 93.4h1M320.5 55.3h1M356.5 101.1h1M312.2 90.0h1M354.5 62.5h1M336.7 92.7h1M321.0 101.4h1M349.0 95.6h1M346.7 48.2h1M325.4 62.0h1M339.4 90.2h1M316.4 55.9h1M344.2 93.1h1M302.7 61.9h1M304.2 64.4h1M320.9 89.2h1M343.7 93.8h1M334.1 90.0h1M335.0 93.1h1" stroke="#000" stroke-opacity="0.27"/>
<path d="M351.4 57.2h1M310.6 88.9h1M318.0 69.6h1M321.1 83.4h1M323.6 95.8h1M342.0 88.1h1M330.6 84.3h1M319.5 67.1h1M341.4 89.2h1M343.5 96.7h1M330.0 41.9h1M311.1 42.9h1M337.5 57.9h1M340.6 94.2h1M337.0 74.6h1M321.3 52.5h1M337.1 91.2h1M293.2 56.9h1M314.9 54.1h1M336.6 69.0h1M320.0 91.1h1M292.1 96.3h1M307.8 52.9h1M336.7 98.8h1M350.1 86.8h1" stroke="#000" stroke-opacity="0.27"/>
<path d="M340.3 70.3h1M345.7 87.0h1M332.6 84.9h1M343.5 92.1h1M319.6 60.3h1M335.1 100.4h1M296.1 53.1h1M347.9 101.3h1M336.9 85.7h1M314.8 61.7h1M316.8 62.9h1M329.7 52.6h1M322.4 64.6h1M342.6 88.3h1M318.4 66.3h1M329.8 58.1h1M330.7 58.8h1M309.7 89.2h1M338.1 86.8h1M299.0 81.2h1M317.7 84.2h1M307.3 89.3h1M336.8 81.6h1M329.7 98.2h1M319.4 59.8h1" stroke="#000" stroke-opacity="0.27"/>
<path d="M354.1 82.0h1M320.8 89.0h1M328.9 62.1h1M336.0 93.2h1M343.6 92.6h1M339.2 100.9h1M322.8 66.5h1M324.0 51.7h1M309.6 91.3h1M327.7 90.0h1M295.7 60.4h1M279.3 58.6h1M341.7 88.8h1M328.4 95.5h1M340.9 91.3h1M334.9 97.5h1M285.9 65.3h1M333.1 86.5h1M345.0 89.9h1M316.6 93.9h1M338.2 60.9h1M298.3 57.0h1M343.5 95.6h1M343.6 98.9h1M319.8 97.4h1" stroke="#000" stroke-opacity="0.27"/>
<path d="M318.0 63.9h1M330.7 97.9h1M301.7 63.6h1M327.1 88.2h1M339.1 85.9h1M340.9 85.7h1M327.7 86.9h1M302.1 58.6h1M331.5 95.9h1M331.5 57.9h1M302.3 95.2h1M333.8 90.5h1M338.6 95.8h1M317.1 54.9h1M329.7 52.9h1M296.2 55.1h1M344.0 77.7h1M337.4 86.2h1M334.2 91.0h1M355.7 88.3h1M344.2 85.5h1M338.7 61.8h1M301.2 60.1h1M311.3 88.0h1M313.7 90.4h1" stroke="#000" stroke-opacity="0.27"/>
<path d="M334.8 87.7h1M336.3 81.0h1M286.7 65.8h1M335.3 89.9h1M335.4 87.8h1M338.4 77.7h1M302.7 74.6h1M335.6 101.3h1M314.7 68.4h1M334.6 83.1h1M342.8 74.7h1M302.6 90.8h1M305.0 78.6h1M339.6 89.8h1M330.0 79.8h1M334.8 49.1h1M324.1 55.4h1M309.9 59.2h1M307.3 62.7h1M300.0 60.3h1M336.9 95.6h1M336.0 90.0h1M346.7 100.0h1M354.2 90.5h1M331.7 50.3h1" stroke="#000" stroke-opacity="0.27"/>
<path d="M320.0 92.9h1M355.4 92.3h1M319.5 60.2h1M349.6 69.8h1M327.0 80.3h1M335.5 93.8h1M300.7 59.0h1M335.4 99.9h1M323.5 88.0h1M347.0 87.1h1M320.0 59.5h1M337.4 78.3h1M339.0 93.7h1M331.1 91.1h1M309.1 87.6h1M338.4 85.7h1M322.3 59.5h1M334.4 93.2h1M301.1 62.0h1M324.0 54.0h1M335.5 88.7h1M345.8 81.9h1M287.0 80.2h1M333.4 91.6h1M339.7 86.7h1" stroke="#000" stroke-opacity="0.27"/>
<path d="M329.5 88.9h1M302.9 57.4h1M338.8 94.6h1M305.2 60.8h1M343.4 68.2h1M326.4 97.3h1M332.3 85.4h1M312.7 93.1h1M317.8 54.9h1M319.0 86.7h1M312.8 48.2h1M330.3 98.5h1M312.3 64.2h1M303.2 56.7h1M331.5 85.2h1M306.4 49.5h1M313.6 79.3h1M313.4 63.6h1M325.5 76.0h1M336.6 93.8h1M323.4 91.9h1M325.6 87.4h1M342.7 77.6h1M304.9 62.9h1M301.1 51.5h1" stroke="#000" stroke-opacity="0.27"/>
<path d="M340.6 97.5h1M310.2 65.5h1M341.9 94.9h1M316.3 61.7h1M337.8 92.7h1M335.5 51.1h1M330.2 92.5h1M320.3 52.6h1M342.8 86.1h1M308.4 97.6h1M334.9 93.1h1M338.4 89.9h1M296.0 90.0h1M340.4 85.5h1M347.8 100.8h1M338.3 83.2h1M343.5 94.2h1M299.3 62.0h1M338.5 96.1h1M339.6 97.7h1M337.8 92.7h1M331.6 87.2h1M330.5 83.0h1M315.3 66.3h1M303.3 61.4h1" stroke="#000" stroke-opacity="0.27"/>
<path d="M356.3 91.7h1M338.0 92.2h1M316.7 93.3h1M330.2 92.4h1M341.0 90.6h1M306.0 44.8h1M341.8 56.9h1M279.7 53.5h1M334.0 93.3h1M338.3 61.9h1M345.6 69.7h1M309.5 88.0h1M349.0 85.0h1M283.9 98.1h1M323.0 86.3h1M306.4 51.0h1M292.2 60.1h1M331.1 99.8h1M301.8 65.8h1M318.3 92.0h1M335.7 88.3h1M345.7 90.8h1M299.2 64.3h1M331.0 84.5h1M323.4 90.8h1" stroke="#000" stroke-opacity="0.27"/>
<path d="M347.1 90.9h1M329.9 66.9h1M318.3 68.6h1M286.8 58.3h1M301.8 99.4h1M330.0 86.2h1M302.8 54.3h1M316.2 55.6h1M331.3 61.9h1M339.3 93.9h1M312.0 93.8h1M312.6 74.7h1M288.0 57.5h1M346.5 53.9h1M330.5 72.6h1M338.0 92.5h1M298.9 85.8h1M310.2 59.7h1M341.7 84.2h1M317.8 71.8h1M336.3 93.2h1M329.4 93.1h1M332.1 86.8h1M305.7 44.2h1M304.9 52.4h1" stroke="#000" stroke-opacity="0.27"/>
<path d="M319.4 80.3h1M335.8 84.0h1M330.0 95.9h1M288.3 47.8h1M290.0 91.0h1M335.0 93.8h1M323.4 53.9h1M325.1 93.5h1M306.1 87.9h1M344.0 96.6h1M328.5 85.0h1M337.2 98.4h1M335.9 84.9h1M334.6 89.6h1M340.8 90.7h1M338.9 92.5h1M291.2 76.1h1M319.4 61.1h1M328.9 90.2h1M309.9 59.5h1M339.6 46.4h1M283.3 63.6h1M311.7 48.8h1M317.7 49.4h1M340.7 86.7h1" stroke="#000" stroke-opacity="0.27"/>
<path d="M345.2 101.3h1M341.2 92.4h1M344.1 94.8h1M318.6 51.2h1M316.1 59.9h1M320.6 88.3h1M279.8 67.0h1M341.9 86.2h1M323.0 64.3h1M312.4 89.0h1M326.8 97.7h1M334.3 80.9h1M329.3 81.0h1M323.8 85.7h1M303.0 52.4h1M342.3 86.1h1M320.6 63.2h1M325.0 82.2h1M297.3 93.0h1M289.4 57.3h1M332.8 90.8h1M343.6 81.3h1M299.2 44.4h1M343.5 85.0h1M340.2 92.3h1" stroke="#000" stroke-opacity="0.27"/>
<path d="M296.1 90.0h1M274.6 100.0h1M344.5 88.6h1M329.6 95.3h1M299.8 64.1h1M341.1 95.3h1M304.1 68.0h1M293.8 87.8h1M335.1 92.3h1M341.9 71.0h1M308.7 56.0h1M338.8 97.4h1M293.6 84.7h1M338.1 100.8h1M345.8 95.6h1M343.1 58.4h1M306.7 57.5h1M310.8 86.7h1M299.4 46.9h1M337.0 80.3h1M347.1 83.1h1M338.2 59.6h1M332.8 92.1h1M323.2 64.2h1M335.3 93.4h1" stroke="#000" stroke-opacity="0.27"/>
<path d="M328.8 50.7h1M351.5 82.2h1M334.7 88.5h1M298.5 62.8h1M331.3 80.9h1M340.9 95.1h1M312.3 61.6h1M332.3 88.7h1M352.7 73.5h1M323.5 91.5h1M298.1 66.3h1M335.1 83.0h1M320.1 57.0h1M337.3 81.5h1M353.1 75.3h1M325.7 54.8h1M319.3 58.7h1M325.6 91.8h1M327.2 93.8h1M324.6 88.1h1M339.4 94.1h1M336.0 90.8h1M327.1 72.3h1M338.7 88.4h1M315.2 57.6h1" stroke="#000" stroke-opacity="0.27"/>
<path d="M320.1 62.3h1M299.2 53.5h1M321.2 53.9h1M290.7 57.2h1M333.3 84.0h1M349.8 86.5h1M321.5 62.6h1M303.7 67.8h1M309.0 62.5h1M329.4 58.5h1M344.0 92.0h1M352.9 81.1h1M344.3 92.6h1M320.4 43.8h1M339.3 93.4h1M334.2 96.8h1M335.3 97.0h1M337.9 85.7h1M341.8 98.8h1M311.0 85.2h1M332.0 92.0h1M340.4 50.5h1M345.2 94.7h1M317.7 56.1h1M337.5 92.0h1" stroke="#000" stroke-opacity="0.27"/>
<path d="M335.8 83.0h1M341.4 94.9h1M339.8 78.9h1M330.0 92.9h1M340.8 101.0h1M296.9 73.8h1M342.5 94.3h1M298.7 93.8h1M333.5 65.2h1M330.8 90.3h1M279.2 90.8h1M337.7 94.1h1M333.4 83.5h1M284.2 60.6h1M310.6 86.3h1M326.8 96.7h1M333.5 62.2h1M332.5 88.2h1M307.3 63.4h1M317.4 87.4h1M322.4 64.3h1M328.9 66.5h1M343.4 89.4h1M345.4 83.1h1M314.8 95.2h1" stroke="#000" stroke-opacity="0.27"/>
<path d="M327.5 82.4h1M284.6 63.0h1M340.0 81.5h1M325.6 52.7h1M342.6 76.9h1M303.7 85.8h1M344.5 60.4h1M338.5 86.3h1M331.5 91.7h1M312.1 52.8h1M324.2 101.4h1M333.3 78.5h1M301.5 51.7h1M287.7 53.9h1M318.7 64.7h1M341.3 88.9h1M315.5 99.8h1M319.8 61.4h1M325.2 45.9h1M319.0 97.0h1M338.0 90.9h1M328.1 67.3h1M342.5 94.8h1M324.7 60.3h1M341.3 98.1h1" stroke="#000" stroke-opacity="0.27"/>
<path d="M326.4 43.0h1M358.5 64.3h1M297.8 56.1h1M335.9 92.4h1M315.7 81.1h1M330.9 83.7h1M326.1 90.8h1M302.5 56.1h1M315.3 62.3h1M341.8 81.1h1M321.7 95.8h1M346.3 98.0h1M338.6 93.5h1M336.5 81.9h1M311.8 48.8h1M321.3 47.7h1M338.5 88.6h1M336.7 81.9h1M312.2 57.3h1M303.3 53.2h1M325.3 41.2h1M347.1 90.2h1M336.1 81.4h1M298.8 99.3h1M316.0 60.4h1" stroke="#000" stroke-opacity="0.27"/>
<path d="M338.7 81.1h1M340.5 91.0h1M335.3 88.1h1M338.7 93.8h1M336.8 99.6h1M329.2 91.4h1M335.1 93.0h1M339.8 95.8h1M336.5 90.2h1M307.0 73.2h1M319.6 58.1h1M331.3 97.5h1M330.4 84.8h1M317.6 87.1h1M314.4 50.3h1M340.5 92.6h1M293.9 61.7h1M341.6 94.9h1M325.9 63.6h1M290.6 86.9h1M336.7 96.7h1M340.5 101.1h1M330.6 59.5h1M293.6 48.0h1M300.2 53.0h1" stroke="#000" stroke-opacity="0.27"/>
<path d="M327.3 67.0h1M330.0 91.9h1M348.7 83.8h1M301.1 99.0h1M322.4 92.4h1M345.3 95.2h1M333.4 90.3h1M332.8 97.2h1M335.6 85.1h1M311.6 65.4h1M316.9 95.4h1M330.9 93.9h1M329.4 84.5h1M291.0 64.1h1M312.5 53.3h1M315.0 45.0h1M316.9 93.4h1M297.6 84.5h1M311.1 50.2h1M332.2 84.0h1M322.5 84.2h1M338.4 94.8h1M345.5 94.6h1M330.8 81.7h1M335.5 71.6h1" stroke="#000" stroke-opacity="0.27"/>
<path d="M336.8 82.0h1M303.3 68.2h1M340.2 90.8h1M334.9 85.0h1M342.6 67.1h1M350.9 71.3h1M321.3 61.3h1M335.8 91.9h1M333.3 92.6h1M337.8 93.5h1M353.7 84.5h1M336.3 88.9h1M308.3 93.9h1M294.4 55.5h1M298.9 57.0h1M300.4 69.9h1M330.7 87.1h1M294.7 63.9h1M333.2 84.9h1M308.4 86.7h1M341.7 79.0h1M329.4 55.4h1M330.5 80.1h1M350.1 87.9h1M322.7 53.8h1" stroke="#000" stroke-opacity="0.27"/>
<path d="M328.5 86.1h1M330.4 90.4h1M305.6 55.9h1M330.5 90.8h1M335.3 98.9h1M322.9 97.5h1M321.6 64.6h1M320.0 55.4h1M320.3 51.6h1M349.4 89.6h1M326.7 98.5h1M313.9 100.4h1M317.1 77.3h1M312.0 91.6h1M310.4 62.8h1M331.1 63.1h1M331.4 88.9h1M343.0 76.4h1M324.8 95.2h1M337.8 85.6h1M338.0 89.3h1M301.9 65.7h1M317.3 61.1h1M318.0 90.4h1M353.6 95.0h1" stroke="#000" stroke-opacity="0.27"/>
<path d="M347.5 70.3h1M309.3 46.0h1M333.9 92.5h1M299.8 60.6h1M340.9 87.4h1M329.1 76.1h1M344.1 90.2h1M312.9 63.2h1M339.6 82.9h1M329.9 59.7h1M351.9 60.3h1M332.9 95.0h1M340.7 52.0h1M328.4 98.7h1M347.3 93.8h1M287.3 80.3h1M332.2 55.3h1M339.9 89.4h1M319.2 68.0h1M308.6 55.2h1M338.3 94.2h1M340.6 58.2h1M295.3 47.2h1M329.4 60.7h1M324.7 57.1h1" stroke="#000" stroke-opacity="0.27"/>
<path d="M323.0 85.4h1M291.1 51.0h1M309.3 91.8h1M310.6 52.4h1M319.8 62.5h1M328.1 91.5h1M337.7 52.0h1M300.0 48.5h1M334.0 85.3h1M341.6 82.2h1M339.8 95.1h1M340.2 92.1h1M339.3 93.9h1M336.4 80.4h1M300.6 49.9h1M342.1 99.1h1M304.6 80.7h1M302.6 62.8h1M330.5 88.8h1M289.3 50.2h1M337.7 55.1h1M340.9 91.5h1M309.0 88.7h1M304.4 50.0h1M334.8 80.2h1" stroke="#000" stroke-opacity="0.27"/>
<path d="M294.0 45.4h1M346.2 86.4h1M309.1 56.3h1M310.3 54.5h1M344.6 67.0h1M292.5 66.3h1M344.4 89.9h1M309.3 59.0h1M331.4 84.3h1M319.6 68.8h1M330.7 97.1h1M319.3 51.7h1M340.1 86.8h1M331.7 98.6h1M331.5 92.9h1M337.2 58.3h1M337.9 89.2h1M334.3 94.6h1M336.6 89.4h1M343.9 94.6h1M299.0 59.4h1M330.3 51.2h1M331.1 86.5h1M334.7 93.1h1M335.1 91.3h1" stroke="#000" stroke-opacity="0.27"/>
<path d="M335.3 64.5h1M338.8 86.1h1M315.1 50.9h1M324.5 86.7h1M329.9 89.9h1M337.3 99.4h1M338.0 69.6h1M343.2 94.1h1M329.1 93.2h1M327.4 85.8h1M307.1 70.4h1M344.0 90.0h1M321.0 62.5h1M342.7 60.9h1M321.2 84.7h1M294.0 57.6h1M295.6 54.5h1M305.3 62.4h1M330.3 75.9h1M338.0 86.2h1M337.7 96.1h1M309.0 62.1h1M305.9 61.8h1M290.2 59.0h1M311.6 85.2h1" stroke="#000" stroke-opacity="0.27"/>
<path d="M325.3 57.3h1M337.4 89.8h1M298.2 55.0h1M315.0 46.0h1M313.1 49.1h1M310.5 65.4h1M304.4 49.7h1M332.9 92.1h1M302.8 52.7h1M341.4 70.7h1M333.6 92.3h1M336.4 95.7h1M334.0 63.9h1M320.1 55.7h1M332.3 91.9h1M327.8 87.0h1M298.6 63.1h1M347.5 90.0h1M321.7 69.8h1M336.7 86.0h1" stroke="#000" stroke-opacity="0.27"/>
<rect x="272" y="41.4" width="52.60000000000002" height="28.800000000000004" fill="none" stroke="#555" stroke-width="1.0"/>
<rect x="323.9" y="73.2" width="29.5" height="29.0" fill="none" stroke="#555" stroke-width="1.0"/>
<rect x="272" y="16.7" width="90.80000000000001" height="85.6" fill="none" stroke="#555" stroke-width="1.0"/>
<line x1="271.5" y1="102.3" x2="362.8" y2="102.3" stroke="#333" stroke-width="1.2"/>
<line x1="272" y1="16.7" x2="272" y2="102.8" stroke="#444" stroke-width="1.1"/>
<line x1="271.0" y1="30.919569917615647" x2="272" y2="30.919569917615647" stroke="#666" stroke-width="0.8"/>
<line x1="271.0" y1="34.26530383967359" x2="272" y2="34.26530383967359" stroke="#666" stroke-width="0.8"/>
<line x1="271.0" y1="36.63913983523129" x2="272" y2="36.63913983523129" stroke="#666" stroke-width="0.8"/>
<line x1="271.0" y1="38.48043008238436" x2="272" y2="38.48043008238436" stroke="#666" stroke-width="0.8"/>
<line x1="271.0" y1="39.984873757289236" x2="272" y2="39.984873757289236" stroke="#666" stroke-width="0.8"/>
<line x1="271.0" y1="41.25686276027088" x2="272" y2="41.25686276027088" stroke="#666" stroke-width="0.8"/>
<line x1="271.0" y1="42.358709752846934" x2="272" y2="42.358709752846934" stroke="#666" stroke-width="0.8"/>
<line x1="271.0" y1="43.330607679347175" x2="272" y2="43.330607679347175" stroke="#666" stroke-width="0.8"/>
<line x1="271.0" y1="50.01956991761565" x2="272" y2="50.01956991761565" stroke="#666" stroke-width="0.8"/>
<line x1="271.0" y1="53.36530383967359" x2="272" y2="53.36530383967359" stroke="#666" stroke-width="0.8"/>
<line x1="271.0" y1="55.73913983523129" x2="272" y2="55.73913983523129" stroke="#666" stroke-width="0.8"/>
<line x1="271.0" y1="57.58043008238436" x2="272" y2="57.58043008238436" stroke="#666" stroke-width="0.8"/>
<line x1="271.0" y1="59.08487375728923" x2="272" y2="59.08487375728923" stroke="#666" stroke-width="0.8"/>
<line x1="271.0" y1="60.356862760270886" x2="272" y2="60.356862760270886" stroke="#666" stroke-width="0.8"/>
<line x1="271.0" y1="61.45870975284693" x2="272" y2="61.45870975284693" stroke="#666" stroke-width="0.8"/>
<line x1="271.0" y1="62.430607679347176" x2="272" y2="62.430607679347176" stroke="#666" stroke-width="0.8"/>
<line x1="271.0" y1="68.91956991761563" x2="272" y2="68.91956991761563" stroke="#666" stroke-width="0.8"/>
<line x1="271.0" y1="72.26530383967358" x2="272" y2="72.26530383967358" stroke="#666" stroke-width="0.8"/>
<line x1="271.0" y1="74.63913983523128" x2="272" y2="74.63913983523128" stroke="#666" stroke-width="0.8"/>
<line x1="271.0" y1="76.48043008238436" x2="272" y2="76.48043008238436" stroke="#666" stroke-width="0.8"/>
<line x1="271.0" y1="77.98487375728922" x2="272" y2="77.98487375728922" stroke="#666" stroke-width="0.8"/>
<line x1="271.0" y1="79.25686276027088" x2="272" y2="79.25686276027088" stroke="#666" stroke-width="0.8"/>
<line x1="271.0" y1="80.35870975284692" x2="272" y2="80.35870975284692" stroke="#666" stroke-width="0.8"/>
<line x1="271.0" y1="81.33060767934717" x2="272" y2="81.33060767934717" stroke="#666" stroke-width="0.8"/>
<line x1="271.0" y1="91.01956991761564" x2="272" y2="91.01956991761564" stroke="#666" stroke-width="0.8"/>
<line x1="271.0" y1="94.36530383967359" x2="272" y2="94.36530383967359" stroke="#666" stroke-width="0.8"/>
<line x1="271.0" y1="96.73913983523128" x2="272" y2="96.73913983523128" stroke="#666" stroke-width="0.8"/>
<line x1="271.0" y1="98.58043008238435" x2="272" y2="98.58043008238435" stroke="#666" stroke-width="0.8"/>
<line x1="278.1" y1="102.3" x2="278.1" y2="104.1" stroke="#333" stroke-width="1.0"/>
<line x1="291.3" y1="102.3" x2="291.3" y2="104.1" stroke="#333" stroke-width="1.0"/>
<line x1="313.3" y1="102.3" x2="313.3" y2="104.1" stroke="#333" stroke-width="1.0"/>
<line x1="334.2" y1="102.3" x2="334.2" y2="104.1" stroke="#333" stroke-width="1.0"/>
<line x1="354.3" y1="102.3" x2="354.3" y2="104.1" stroke="#333" stroke-width="1.0"/>
<text x="264.4" y="28.6" font-size="6.0" stroke="#000" stroke-width="0.32" text-anchor="end" fill="#000" >10</text>
<text x="264.7" y="24.0" font-size="5.6" stroke="#000" stroke-width="0.32" text-anchor="start" fill="#000" >5</text>
<line x1="270.2" y1="25.200000000000003" x2="272" y2="25.200000000000003" stroke="#333" stroke-width="1"/>
<text x="264.4" y="47.7" font-size="6.0" stroke="#000" stroke-width="0.32" text-anchor="end" fill="#000" >10</text>
<text x="264.7" y="43.1" font-size="5.6" stroke="#000" stroke-width="0.32" text-anchor="start" fill="#000" >4</text>
<line x1="270.2" y1="44.300000000000004" x2="272" y2="44.300000000000004" stroke="#333" stroke-width="1"/>
<text x="264.4" y="66.6" font-size="6.0" stroke="#000" stroke-width="0.32" text-anchor="end" fill="#000" >10</text>
<text x="264.7" y="61.99999999999999" font-size="5.6" stroke="#000" stroke-width="0.32" text-anchor="start" fill="#000" >3</text>
<line x1="270.2" y1="63.199999999999996" x2="272" y2="63.199999999999996" stroke="#333" stroke-width="1"/>
<text x="264.4" y="88.7" font-size="6.0" stroke="#000" stroke-width="0.32" text-anchor="end" fill="#000" >10</text>
<text x="264.7" y="84.10000000000001" font-size="5.6" stroke="#000" stroke-width="0.32" text-anchor="start" fill="#000" >2</text>
<line x1="270.2" y1="85.3" x2="272" y2="85.3" stroke="#333" stroke-width="1"/>
<text x="265.1" y="97.2" font-size="6.0" stroke="#000" stroke-width="0.32" text-anchor="end" fill="#000" >0</text>
<line x1="270.2" y1="94.10000000000001" x2="272" y2="94.10000000000001" stroke="#222" stroke-width="1.2"/>
<text x="278.1" y="117.89999999999999" font-size="6.0" stroke="#000" stroke-width="0.32" text-anchor="middle" fill="#000" >0</text>
<text x="288.29999999999995" y="117.89999999999999" font-size="6.0" stroke="#000" stroke-width="0.32" text-anchor="start" fill="#000" >10</text>
<text x="295.0" y="112.8" font-size="5.6" stroke="#000" stroke-width="0.32" text-anchor="start" fill="#000" >2</text>
<text x="310.5" y="117.89999999999999" font-size="6.0" stroke="#000" stroke-width="0.32" text-anchor="start" fill="#000" >10</text>
<text x="317.20000000000005" y="112.8" font-size="5.6" stroke="#000" stroke-width="0.32" text-anchor="start" fill="#000" >3</text>
<text x="331.0" y="117.89999999999999" font-size="6.0" stroke="#000" stroke-width="0.32" text-anchor="start" fill="#000" >10</text>
<text x="337.70000000000005" y="112.8" font-size="5.6" stroke="#000" stroke-width="0.32" text-anchor="start" fill="#000" >4</text>
<text x="351.09999999999997" y="117.89999999999999" font-size="6.0" stroke="#000" stroke-width="0.32" text-anchor="start" fill="#000" >10</text>
<text x="357.8" y="112.8" font-size="5.6" stroke="#000" stroke-width="0.32" text-anchor="start" fill="#000" >5</text>
<text x="289.7" y="31.900000000000002" font-size="6.35" font-weight="bold" stroke="#000" stroke-width="0.25" text-anchor="start" fill="#000" >16.9%</text>
<text x="343.5" y="65.3" font-size="6.35" font-weight="bold" stroke="#000" stroke-width="0.25" text-anchor="start" fill="#000" >56.8%</text>
<path d="M122.3 224.0h1M83.5 231.3h1M73.6 169.5h1M67.8 193.4h1M105.8 200.2h1M92.7 232.8h1M65.4 211.3h1M69.0 201.7h1M56.6 231.3h1M64.3 205.9h1M114.0 171.8h1M106.5 182.1h1M100.3 232.4h1M104.4 175.1h1M100.2 204.1h1M121.8 228.2h1M62.7 225.3h1M99.2 187.9h1M115.9 211.6h1M93.2 226.4h1M68.8 214.2h1M54.3 164.8h1M73.9 217.6h1M113.1 197.0h1M38.1 174.7h1" stroke="#000" stroke-opacity="0.25"/>
<path d="M74.0 219.6h1M111.6 224.7h1M99.2 227.3h1M98.1 198.3h1M80.0 228.2h1M88.2 186.0h1M77.8 205.1h1M96.3 192.3h1M71.8 224.6h1M118.8 231.1h1M71.3 209.8h1M74.4 234.5h1M97.0 201.5h1M120.8 191.2h1M87.0 236.3h1M45.0 192.0h1M53.1 165.7h1M95.2 192.7h1M124.5 222.5h1M63.3 239.1h1M82.0 242.3h1M122.3 239.3h1M87.7 225.2h1M59.1 174.1h1M43.8 190.9h1" stroke="#000" stroke-opacity="0.25"/>
<path d="M57.7 170.1h1M103.8 239.0h1M54.0 195.0h1M121.1 201.2h1M83.6 204.5h1M111.8 220.6h1M109.3 220.6h1M69.8 204.8h1M110.3 186.8h1M104.5 173.9h1M52.1 209.6h1M77.1 216.1h1M78.9 168.6h1M53.0 209.0h1M77.1 174.8h1M40.7 233.4h1M99.7 222.1h1M123.7 240.4h1M58.1 175.8h1M117.5 181.0h1M69.4 189.8h1M107.5 171.9h1M110.1 218.9h1M38.7 221.1h1M105.8 216.7h1" stroke="#000" stroke-opacity="0.25"/>
<path d="M64.7 218.3h1M102.0 226.6h1M74.0 196.7h1M59.3 187.4h1M92.6 199.7h1M89.3 211.7h1M64.5 197.7h1M38.9 199.1h1M96.1 162.1h1M112.0 194.3h1M115.4 234.5h1M121.3 224.7h1M54.2 176.3h1M49.1 219.1h1M53.9 242.9h1M121.1 198.7h1M113.8 196.9h1M71.7 206.9h1M82.6 205.7h1M122.6 189.7h1M39.0 229.7h1M52.3 214.8h1M64.8 211.7h1M48.6 209.2h1M94.2 235.9h1" stroke="#000" stroke-opacity="0.25"/>
<path d="M62.7 230.0h1M69.8 224.9h1M75.3 229.2h1M104.5 168.2h1M79.3 194.0h1M73.4 236.5h1M116.9 169.9h1M74.7 212.3h1M87.1 204.5h1M85.4 171.8h1M46.8 215.7h1M59.0 204.7h1M100.2 238.8h1M47.6 160.6h1M53.9 241.9h1M80.7 177.4h1M51.0 173.4h1M51.0 171.1h1M47.2 191.0h1M40.4 194.8h1M84.9 211.1h1M80.1 173.4h1M60.4 205.6h1M94.0 238.0h1M87.5 240.9h1" stroke="#000" stroke-opacity="0.25"/>
<path d="M90.2 205.9h1M104.3 227.5h1M120.0 181.3h1M100.6 170.5h1M39.4 167.3h1M70.8 240.5h1M51.5 193.9h1M91.7 218.1h1M124.4 214.7h1M61.5 194.5h1M102.7 183.7h1M40.6 223.4h1M50.8 215.5h1M68.9 203.5h1M101.0 183.1h1" stroke="#000" stroke-opacity="0.25"/>
<path d="M75.5 212.5h1M78.1 236.6h1M77.7 200.3h1M93.3 215.1h1M90.6 232.3h1M104.0 220.0h1M71.3 205.7h1M76.6 198.5h1M84.3 222.2h1M93.9 219.7h1M92.2 235.4h1M96.5 233.3h1M67.9 204.8h1M87.3 200.3h1M73.5 203.4h1M61.2 201.7h1M101.4 215.4h1M76.4 236.7h1M98.4 233.8h1M74.5 227.5h1M79.8 204.8h1M95.0 225.7h1M75.2 228.6h1M108.2 239.3h1M78.2 189.0h1" stroke="#000" stroke-opacity="0.27"/>
<path d="M73.3 196.9h1M63.3 204.3h1M84.4 226.0h1M96.4 241.0h1M64.5 198.8h1M78.2 229.3h1M86.5 195.5h1M100.3 237.2h1M87.2 227.5h1M100.8 227.9h1M103.4 221.3h1M103.7 223.7h1M86.2 222.2h1M85.6 224.7h1M88.3 220.1h1M70.9 190.9h1M92.5 230.3h1M86.0 221.9h1M73.5 198.2h1M90.8 213.2h1M93.7 224.9h1M101.9 237.7h1M88.9 210.4h1M93.7 218.8h1M85.6 228.1h1" stroke="#000" stroke-opacity="0.27"/>
<path d="M59.9 192.7h1M90.6 234.1h1M76.0 196.1h1M82.5 203.2h1M82.5 237.2h1M97.4 219.9h1M70.7 198.7h1M96.1 230.3h1M77.8 198.5h1M78.8 222.9h1M100.8 200.9h1M82.5 225.2h1M92.0 231.8h1M104.9 233.5h1M82.1 221.3h1M86.3 232.3h1M74.6 203.2h1M80.5 223.9h1M88.1 218.5h1M67.0 205.4h1M74.0 213.8h1M85.8 229.2h1M71.7 230.4h1M78.6 219.0h1M90.6 218.6h1" stroke="#000" stroke-opacity="0.27"/>
<path d="M91.9 222.1h1M77.3 224.8h1M69.6 206.5h1M88.7 222.7h1M67.8 221.0h1M74.2 204.1h1M78.5 211.4h1M72.3 200.6h1M90.8 231.0h1M108.9 226.1h1M90.1 206.6h1M75.7 234.8h1M73.0 214.2h1M100.2 219.7h1M59.7 206.0h1M73.6 232.7h1M95.5 226.6h1M65.6 184.4h1M87.4 227.8h1M65.8 203.7h1M66.6 214.3h1M82.8 200.9h1M67.4 196.4h1M90.0 233.7h1M93.3 218.9h1" stroke="#000" stroke-opacity="0.27"/>
<path d="M66.4 201.8h1M79.2 202.4h1M86.3 224.6h1M86.6 206.2h1M73.1 191.1h1M67.4 206.2h1M92.4 221.9h1M92.1 234.5h1M89.6 241.7h1M96.0 236.2h1M101.6 231.0h1M67.2 204.8h1M81.6 200.6h1M81.0 221.1h1M80.7 218.0h1M74.1 193.3h1M102.1 233.5h1M76.0 230.8h1M105.9 231.3h1M71.5 188.5h1M91.1 229.7h1M93.4 233.6h1M78.3 204.0h1M93.4 218.8h1M55.8 218.0h1" stroke="#000" stroke-opacity="0.27"/>
<path d="M78.1 223.5h1M67.1 217.2h1M85.3 229.2h1M100.4 237.7h1M81.4 225.4h1M90.0 220.8h1M74.6 240.2h1M92.6 215.7h1M83.1 229.7h1M59.8 236.4h1M105.5 223.5h1M74.3 233.5h1M69.6 199.0h1M79.7 235.8h1M85.3 195.0h1M82.5 203.7h1M91.3 241.1h1M97.5 240.2h1M91.5 224.4h1M77.1 212.6h1M66.4 196.8h1M84.0 190.7h1M68.4 200.6h1M98.6 213.8h1M67.3 188.2h1" stroke="#000" stroke-opacity="0.27"/>
<path d="M103.2 225.1h1M90.7 218.2h1M70.3 212.4h1M81.8 232.4h1M62.9 201.0h1M94.6 224.3h1M52.3 232.1h1M101.4 231.6h1M73.0 206.6h1M80.6 192.0h1M104.0 219.5h1M75.3 200.0h1M62.2 228.7h1M99.0 200.9h1M63.5 203.5h1M96.2 236.7h1M79.3 225.2h1M89.4 228.8h1M99.2 222.7h1M64.3 195.8h1M69.2 198.6h1M73.8 207.6h1M64.0 191.0h1M89.4 225.6h1M79.2 233.8h1" stroke="#000" stroke-opacity="0.27"/>
<path d="M105.4 213.2h1M69.5 194.0h1M85.5 217.4h1M100.3 224.4h1M56.4 239.8h1M106.4 214.8h1M70.4 199.7h1M92.4 226.4h1M91.4 228.1h1M79.3 230.1h1M121.4 226.5h1M75.0 222.2h1M55.3 230.5h1M67.1 220.1h1M95.7 208.0h1M85.5 219.8h1M52.7 224.3h1M72.2 190.5h1M80.1 206.5h1M97.6 220.0h1M72.9 191.1h1M95.3 223.5h1M93.7 234.0h1M73.5 205.8h1M81.1 201.6h1" stroke="#000" stroke-opacity="0.27"/>
<path d="M92.0 213.2h1M88.5 208.9h1M73.8 236.3h1M95.3 227.6h1M64.4 198.8h1M110.4 224.9h1M56.9 203.6h1M89.3 211.3h1M84.7 218.7h1M67.1 208.4h1M96.0 235.0h1M66.5 196.8h1M98.0 217.3h1M92.9 224.4h1M93.3 228.2h1M91.4 224.5h1M78.1 193.2h1M76.9 189.9h1M113.0 236.7h1M91.6 226.1h1M84.9 219.5h1M66.5 206.3h1M67.5 197.8h1M85.1 224.5h1M94.9 239.8h1" stroke="#000" stroke-opacity="0.27"/>
<path d="M97.4 219.9h1M102.5 221.1h1M69.6 198.9h1M95.0 222.7h1M99.4 221.2h1M100.3 230.0h1M74.1 226.0h1M87.1 214.8h1M68.0 199.5h1M100.6 218.2h1M88.3 236.9h1M104.2 224.8h1M71.2 206.8h1M91.5 224.6h1M89.1 223.0h1M93.8 213.1h1M83.4 229.8h1M56.9 220.2h1M86.0 230.2h1M87.6 214.5h1M65.5 193.7h1M91.0 225.8h1M68.8 229.2h1M78.4 239.8h1M50.5 223.0h1" stroke="#000" stroke-opacity="0.27"/>
<path d="M69.9 196.2h1M70.6 203.0h1M72.6 211.9h1M71.8 188.7h1M106.0 222.1h1M87.4 231.5h1M78.3 215.4h1M109.2 208.3h1M90.9 217.9h1M94.5 235.0h1M67.5 191.4h1M105.4 220.4h1M103.9 219.0h1M91.7 221.6h1M85.5 210.0h1M65.4 213.4h1M92.7 227.3h1M87.9 233.6h1M92.6 230.5h1M77.8 196.1h1M89.5 235.8h1M91.1 210.2h1M106.6 211.9h1M76.6 224.5h1M98.8 238.1h1" stroke="#000" stroke-opacity="0.27"/>
<path d="M83.5 218.7h1M72.5 199.0h1M97.6 230.1h1M53.7 224.3h1M99.6 237.4h1M72.6 216.2h1M98.5 218.9h1M99.5 239.3h1M88.6 228.0h1M88.7 223.7h1M76.5 227.1h1M100.5 216.5h1M63.2 225.6h1M77.0 198.6h1M102.0 222.5h1M92.0 227.6h1M70.0 200.4h1M83.5 212.4h1M65.4 199.7h1M79.8 222.1h1M82.5 221.4h1M92.1 225.2h1M93.8 227.0h1M65.6 219.6h1M65.0 204.2h1" stroke="#000" stroke-opacity="0.27"/>
<path d="M72.1 191.0h1M95.9 220.6h1M83.0 242.5h1M62.3 227.0h1M102.3 227.1h1M96.8 220.2h1M101.8 231.6h1M59.6 237.8h1M72.1 194.9h1M61.3 231.2h1M69.2 206.6h1M105.2 232.9h1M60.3 201.0h1M76.9 203.4h1M91.8 215.6h1M80.5 198.4h1M89.2 220.8h1M69.0 220.8h1M103.5 232.7h1M77.7 223.8h1M89.9 222.2h1M62.8 203.3h1M91.3 238.9h1M88.9 229.0h1M67.2 206.8h1" stroke="#000" stroke-opacity="0.27"/>
<path d="M96.9 236.0h1M98.2 233.4h1M76.1 216.3h1M74.3 231.1h1M67.9 191.9h1M106.3 224.7h1M91.3 225.3h1M108.9 220.8h1M88.4 223.9h1M73.0 232.7h1M86.4 224.1h1M63.8 210.5h1M112.3 227.7h1M78.3 203.3h1M93.5 226.7h1M80.9 235.4h1M96.6 220.2h1M99.4 237.7h1M88.0 226.0h1M105.5 224.5h1M103.6 229.9h1M97.9 230.8h1M90.9 233.9h1M70.3 198.6h1M80.4 227.1h1" stroke="#000" stroke-opacity="0.27"/>
<path d="M87.4 234.3h1M94.6 219.7h1M69.3 205.8h1M99.0 235.2h1M72.5 189.0h1M99.5 223.6h1M93.1 220.5h1M63.2 196.6h1M87.2 207.7h1M105.2 225.3h1M84.7 228.7h1M88.7 220.3h1M73.9 236.8h1M87.7 208.3h1M93.1 221.1h1M79.8 229.3h1M94.7 233.8h1M101.0 238.9h1M91.3 215.0h1M103.0 231.3h1M73.3 208.5h1M73.8 221.5h1M52.1 226.8h1M84.3 222.3h1M62.3 231.2h1" stroke="#000" stroke-opacity="0.27"/>
<path d="M87.3 210.3h1M74.3 217.8h1M90.0 225.1h1M75.1 193.0h1M89.9 233.6h1M87.8 226.4h1M67.6 206.7h1M69.3 206.5h1M96.4 225.6h1M81.7 217.1h1M87.5 237.5h1M77.8 203.2h1M62.0 193.5h1M73.8 220.2h1M64.7 201.3h1M86.2 230.1h1M76.3 218.8h1M108.2 232.7h1M78.1 223.9h1M92.8 233.3h1M87.2 230.9h1M95.4 216.8h1M99.5 222.3h1M100.5 216.4h1M69.5 196.0h1" stroke="#000" stroke-opacity="0.27"/>
<path d="M75.6 200.1h1M63.0 207.8h1M94.2 231.3h1M80.2 203.4h1M104.5 227.1h1M74.7 205.8h1M70.3 207.3h1M104.1 237.0h1M69.0 204.0h1M105.4 226.6h1M46.9 216.9h1M93.3 216.4h1M82.3 239.0h1M102.8 235.6h1M81.3 222.0h1M51.5 208.4h1M95.7 235.3h1M93.7 226.7h1M83.2 201.7h1M92.4 232.1h1M62.4 201.7h1M81.6 218.3h1M97.0 232.6h1M73.5 200.9h1M70.4 208.5h1" stroke="#000" stroke-opacity="0.27"/>
<path d="M75.1 213.9h1M88.5 232.1h1M99.0 219.0h1M105.8 232.5h1M100.6 227.2h1M89.6 235.8h1M92.8 229.0h1M93.8 219.0h1M105.7 211.9h1M106.7 236.9h1M91.5 215.4h1M61.8 202.3h1M66.2 198.8h1M82.3 212.0h1M96.7 236.7h1M96.0 225.4h1M86.3 232.3h1M93.3 208.3h1M99.6 233.7h1M97.9 229.4h1M60.1 192.2h1M75.2 238.2h1M88.2 228.8h1M75.5 191.5h1M81.0 217.8h1" stroke="#000" stroke-opacity="0.27"/>
<path d="M73.3 209.1h1M79.4 216.6h1M97.3 225.1h1M78.3 196.1h1M91.5 219.4h1M62.7 203.8h1M65.4 199.7h1M69.3 229.2h1M72.3 223.1h1M109.1 228.1h1M64.1 203.8h1M79.0 238.5h1M91.5 233.0h1M69.4 192.0h1M89.1 222.8h1M87.4 230.2h1M73.2 202.4h1M73.2 194.7h1M101.5 219.9h1M75.6 226.3h1M90.6 223.4h1M73.0 222.0h1M68.2 230.5h1M69.1 229.1h1M91.5 239.8h1" stroke="#000" stroke-opacity="0.27"/>
<path d="M69.2 203.0h1M88.0 240.4h1M100.0 217.8h1M88.1 228.2h1M92.0 225.1h1M101.2 225.5h1M62.3 219.2h1M73.3 210.1h1M62.4 201.4h1M71.2 223.6h1M62.4 207.2h1M49.3 228.4h1M64.3 199.4h1M92.1 236.7h1M94.8 222.4h1M79.0 206.6h1M73.3 218.7h1M92.5 222.3h1M95.5 238.2h1M72.7 201.8h1M78.3 208.9h1M75.2 228.8h1M79.4 199.3h1M71.7 198.6h1M84.9 226.2h1" stroke="#000" stroke-opacity="0.27"/>
<path d="M85.8 216.8h1M105.2 226.9h1M89.7 240.0h1M96.7 221.4h1M79.9 235.2h1M68.6 200.9h1M99.7 225.7h1M88.5 230.6h1M74.1 195.1h1M96.7 238.3h1M97.0 228.2h1M93.9 222.1h1M85.7 223.1h1M93.5 234.8h1M90.3 222.9h1M71.9 218.8h1M92.9 222.4h1M89.8 220.1h1M94.6 232.6h1M93.9 228.9h1M102.0 226.8h1M83.3 221.4h1M105.8 235.8h1M76.4 235.8h1M40.5 222.7h1" stroke="#000" stroke-opacity="0.27"/>
<path d="M108.7 216.4h1M81.9 225.7h1M87.9 219.0h1M88.6 209.1h1M65.7 198.4h1M60.2 208.9h1M87.2 241.7h1M82.2 205.6h1M74.6 194.1h1M94.0 227.0h1M95.3 211.7h1M69.2 214.1h1M86.1 230.7h1M58.1 197.3h1M89.4 238.0h1M85.5 239.6h1M74.2 199.6h1M76.8 225.8h1M64.0 204.7h1M73.7 202.1h1M70.7 212.6h1M64.7 197.9h1M90.4 230.6h1M110.1 215.8h1M79.5 199.1h1" stroke="#000" stroke-opacity="0.27"/>
<path d="M82.3 231.9h1M95.9 227.1h1M85.7 234.8h1M66.3 221.1h1M114.7 232.4h1M90.5 221.4h1M60.3 215.4h1M86.9 225.2h1M65.7 196.3h1M81.4 231.7h1M88.2 232.6h1M93.3 231.7h1M107.8 228.9h1M109.5 224.7h1M96.9 209.4h1M79.3 226.9h1M85.8 221.9h1M59.9 220.5h1M93.9 223.8h1M73.1 222.1h1M92.2 239.0h1M98.6 214.4h1M66.7 207.9h1M86.6 233.2h1M73.5 198.1h1" stroke="#000" stroke-opacity="0.27"/>
<path d="M80.3 223.1h1M71.8 196.3h1M95.7 227.6h1M77.0 195.7h1M93.5 212.2h1M82.9 230.1h1M93.6 214.3h1M79.9 231.5h1M84.6 237.0h1M90.2 222.1h1M74.4 197.2h1M92.3 235.5h1M78.6 224.0h1M65.6 221.2h1M58.6 200.8h1M93.7 211.4h1M86.7 206.5h1M63.2 194.1h1M105.2 229.3h1M88.8 194.7h1M55.4 229.4h1M89.3 235.0h1M59.9 233.7h1M100.3 235.3h1M102.7 205.6h1" stroke="#000" stroke-opacity="0.27"/>
<path d="M96.0 221.0h1M85.5 220.7h1M67.2 205.3h1M82.2 219.9h1M91.5 223.0h1M68.4 193.0h1M63.3 197.0h1M77.0 202.9h1M90.9 223.4h1M76.9 200.6h1M95.8 232.3h1M88.2 232.1h1M101.6 233.1h1M86.8 223.3h1M98.0 238.1h1M95.1 215.5h1M94.2 233.7h1M72.2 200.2h1M79.3 241.8h1M89.2 235.6h1M72.9 223.4h1M95.6 213.4h1M75.2 201.2h1M79.9 204.1h1M106.3 232.2h1" stroke="#000" stroke-opacity="0.27"/>
<path d="M72.8 216.7h1M73.4 211.8h1M93.4 225.9h1M70.9 205.3h1M98.4 233.0h1M73.1 219.6h1M101.3 229.8h1M90.8 223.9h1M69.3 208.0h1M77.7 211.3h1M113.8 228.0h1M70.9 220.5h1M92.5 216.5h1M95.4 215.2h1M88.1 218.7h1M62.4 198.3h1M90.6 220.9h1M69.6 197.6h1M102.2 226.9h1M88.6 223.9h1M74.3 208.3h1M102.1 225.1h1M97.0 230.0h1M62.7 209.5h1M98.3 229.4h1" stroke="#000" stroke-opacity="0.27"/>
<path d="M75.0 240.9h1M81.3 227.1h1M85.1 220.0h1M70.0 207.9h1M97.7 203.0h1M73.4 198.7h1M61.7 198.2h1M68.6 196.7h1M89.1 227.0h1M91.0 220.2h1M105.3 223.7h1M76.8 227.2h1M76.0 204.9h1M78.5 239.5h1M110.9 226.6h1M83.2 223.8h1M91.5 230.7h1M96.1 223.3h1M68.7 201.8h1M68.5 208.6h1M104.9 220.0h1M109.3 236.1h1M65.4 187.0h1M100.7 214.2h1M70.6 232.6h1" stroke="#000" stroke-opacity="0.27"/>
<path d="M85.5 223.0h1M83.2 242.5h1M99.0 223.4h1M95.3 224.2h1M73.0 212.4h1M97.9 223.1h1M78.8 210.2h1M75.7 205.3h1M81.9 231.5h1M80.9 221.9h1M94.6 236.5h1M90.2 213.6h1M86.5 235.8h1M80.6 218.9h1M95.7 225.8h1M79.7 228.5h1M78.5 235.5h1M88.2 213.2h1M75.1 208.1h1M98.2 229.2h1M89.9 218.3h1M103.4 219.6h1M76.3 236.6h1M98.5 234.5h1M93.1 219.5h1" stroke="#000" stroke-opacity="0.27"/>
<path d="M77.4 199.9h1M57.6 214.6h1M77.3 193.8h1M78.8 229.9h1M89.6 240.0h1M87.9 235.6h1M78.0 202.9h1M95.3 226.9h1M81.9 201.1h1M91.6 225.6h1M93.1 229.3h1M64.6 190.9h1M100.2 226.4h1M87.7 229.0h1M86.1 200.2h1M88.1 225.3h1M70.0 202.7h1M70.2 205.0h1M87.0 225.0h1M88.3 225.9h1M91.2 231.4h1M57.6 190.3h1M74.1 203.8h1M98.2 225.0h1M79.4 210.7h1" stroke="#000" stroke-opacity="0.27"/>
<path d="M106.0 226.1h1M72.7 193.9h1M66.1 200.5h1M76.0 222.1h1M66.3 194.1h1M74.6 225.2h1M81.5 225.2h1M50.4 219.2h1M79.6 217.6h1M93.6 228.5h1M68.7 198.9h1M93.1 218.3h1M101.4 216.6h1M72.3 201.2h1M69.3 195.0h1M68.7 201.4h1M105.5 221.0h1M82.9 230.4h1M83.8 228.5h1M95.4 219.0h1M100.7 222.6h1M108.3 219.6h1M52.8 227.7h1M64.8 198.4h1M103.9 236.1h1" stroke="#000" stroke-opacity="0.27"/>
<path d="M103.6 233.4h1M76.3 231.8h1M80.0 232.0h1M73.1 230.6h1M74.4 211.3h1M85.3 226.5h1M77.4 231.2h1M102.0 239.3h1M84.3 223.7h1M85.8 218.1h1M96.8 219.8h1M98.6 216.8h1M71.7 198.9h1M72.3 242.0h1M64.2 205.0h1M92.9 214.8h1M95.4 235.7h1M79.5 219.4h1M92.1 226.6h1M58.6 193.5h1M69.8 207.1h1M81.9 237.5h1M86.4 233.5h1M99.0 210.8h1M65.2 207.4h1" stroke="#000" stroke-opacity="0.27"/>
<path d="M89.9 224.0h1M88.9 230.1h1M91.2 222.0h1M96.7 227.3h1M79.2 197.9h1M76.2 224.9h1M86.9 240.8h1M78.0 196.8h1M93.7 210.6h1M93.0 225.7h1M80.4 206.5h1M59.5 200.9h1M82.3 229.8h1M93.3 228.7h1M72.0 196.1h1M58.6 199.0h1M83.1 226.8h1M103.2 218.4h1M73.2 203.1h1M100.3 223.8h1M73.2 195.9h1M80.4 219.7h1M86.5 227.8h1M80.1 195.2h1M87.4 234.8h1" stroke="#000" stroke-opacity="0.27"/>
<path d="M73.3 231.3h1M56.7 231.5h1M93.0 231.6h1M101.6 218.2h1M77.8 229.7h1M109.5 215.2h1M101.3 232.2h1M88.2 231.6h1M86.4 206.5h1M94.9 222.3h1M62.9 198.5h1M82.0 197.4h1M69.7 191.1h1M75.7 203.7h1M101.6 225.0h1M82.2 226.1h1M57.8 198.9h1M83.7 199.4h1M75.6 216.2h1M99.5 240.0h1M88.8 230.1h1M88.3 220.7h1M92.8 227.8h1M97.0 230.2h1M81.2 224.7h1" stroke="#000" stroke-opacity="0.27"/>
<path d="M66.3 208.7h1M78.8 203.0h1M87.2 208.6h1M80.9 230.4h1M94.0 236.1h1M94.3 231.9h1M65.7 234.8h1M65.2 202.0h1M89.9 213.9h1M112.4 228.0h1M89.1 232.8h1M110.7 221.2h1M106.9 221.0h1M73.9 194.1h1M97.4 230.3h1M68.9 224.4h1M101.7 219.0h1M74.0 216.6h1M103.9 220.5h1M92.2 224.9h1M68.5 214.9h1M99.9 216.2h1M79.8 200.7h1M71.7 200.3h1M88.8 231.7h1" stroke="#000" stroke-opacity="0.27"/>
<path d="M98.6 216.9h1M97.0 225.1h1M70.0 227.6h1M103.6 227.7h1M87.4 220.3h1M88.4 227.8h1M78.1 231.9h1M46.0 211.1h1M92.3 221.9h1M78.9 192.0h1M68.7 208.3h1M93.7 218.8h1M72.9 208.0h1M81.6 231.3h1M94.7 218.1h1M83.7 206.6h1M83.9 221.3h1M95.1 215.7h1M66.0 200.0h1M67.2 221.1h1M98.7 217.0h1M91.1 214.5h1M82.1 202.7h1M93.9 237.9h1M98.6 213.4h1" stroke="#000" stroke-opacity="0.27"/>
<path d="M76.6 202.1h1M76.0 192.2h1M80.5 239.7h1M89.9 235.5h1M69.2 205.2h1M85.2 229.5h1M89.3 226.3h1M74.8 199.4h1M84.6 236.6h1M89.6 225.6h1M72.0 234.0h1M105.3 241.5h1M84.2 221.5h1M99.6 230.3h1M100.8 226.5h1M69.6 203.0h1M65.1 205.8h1M101.3 228.5h1M67.5 196.0h1M89.4 235.4h1M99.2 229.4h1M87.3 235.9h1M72.8 199.8h1M71.0 197.1h1M93.7 230.1h1" stroke="#000" stroke-opacity="0.27"/>
<path d="M94.3 228.3h1M91.6 223.7h1M63.5 201.0h1M81.2 200.2h1M72.0 229.8h1M91.8 230.4h1M81.2 221.8h1M89.6 222.1h1M103.1 230.6h1M100.1 235.4h1M82.9 213.6h1M77.5 208.1h1M104.0 210.5h1M88.6 230.2h1M65.4 201.9h1M91.0 226.6h1M96.0 230.2h1M74.5 223.9h1M70.2 194.4h1M68.2 200.8h1M72.9 209.4h1M101.0 242.2h1M76.4 197.8h1M62.5 195.0h1M119.0 222.4h1" stroke="#000" stroke-opacity="0.27"/>
<path d="M75.7 213.5h1M75.6 198.7h1M68.1 231.0h1M66.2 201.1h1M95.6 236.2h1M102.2 221.0h1M70.1 232.7h1M74.1 197.6h1M95.9 232.5h1M57.4 231.5h1M100.8 227.4h1M66.0 205.2h1M85.9 228.5h1M66.9 191.8h1M104.0 224.6h1M80.8 234.0h1M77.2 215.4h1M105.8 220.5h1M89.4 220.7h1M72.4 224.6h1M65.3 224.7h1M72.2 216.0h1M89.1 232.3h1M80.2 218.7h1M107.6 226.4h1" stroke="#000" stroke-opacity="0.27"/>
<path d="M77.9 204.5h1M94.5 227.0h1M79.7 231.0h1M96.3 228.3h1M87.3 219.0h1M89.5 227.6h1M97.3 222.0h1M86.9 227.0h1M72.6 200.9h1M90.4 231.3h1M85.4 230.3h1M90.9 230.8h1M102.2 241.7h1M86.5 232.3h1M91.2 216.7h1M66.9 204.6h1M58.4 206.0h1M97.9 223.3h1M99.8 235.3h1M103.1 231.2h1M95.9 222.2h1M84.8 234.3h1M100.6 226.2h1M89.9 241.5h1M97.0 214.4h1" stroke="#000" stroke-opacity="0.27"/>
<path d="M103.9 226.6h1M95.2 224.4h1M107.9 223.2h1M73.9 196.2h1M80.3 223.1h1M92.8 216.1h1M75.9 195.8h1M96.3 236.7h1M61.2 237.4h1M87.6 223.2h1M113.8 213.1h1M103.4 232.6h1M78.2 199.5h1M86.7 217.8h1M73.4 212.5h1M98.9 215.1h1M69.9 191.3h1M106.2 225.1h1M98.1 233.5h1M57.8 235.3h1M94.4 222.8h1M77.6 199.3h1M70.0 195.0h1M77.4 240.6h1M64.9 222.6h1" stroke="#000" stroke-opacity="0.27"/>
<path d="M70.5 234.2h1M80.8 193.7h1M116.0 226.4h1M102.5 224.4h1M94.8 236.1h1M112.3 232.1h1M70.0 204.6h1M67.5 207.0h1M80.2 220.1h1M90.7 234.3h1M93.4 227.3h1M93.6 229.2h1M77.6 212.4h1M86.8 211.9h1M69.6 201.8h1M71.5 198.1h1M74.4 201.3h1M95.9 212.1h1M65.1 212.1h1M76.6 183.4h1M83.1 223.8h1M96.6 230.5h1M89.3 234.7h1M75.8 208.4h1M42.1 240.7h1" stroke="#000" stroke-opacity="0.27"/>
<path d="M65.9 202.2h1M101.3 231.2h1M91.9 232.9h1M77.3 204.0h1M87.3 239.4h1M60.1 199.8h1M63.0 201.0h1M85.0 199.5h1M80.1 220.7h1M99.5 228.5h1M63.7 208.6h1M84.1 231.6h1M97.5 224.6h1M81.0 218.3h1M83.6 216.0h1M87.7 229.4h1M86.2 227.3h1M100.2 221.4h1M86.8 222.3h1" stroke="#000" stroke-opacity="0.27"/>
<rect x="57.8" y="187.5" width="31.0" height="23.80000000000001" fill="none" stroke="#555" stroke-width="1.0"/>
<rect x="83.3" y="211.8" width="34.0" height="31.69999999999999" fill="none" stroke="#555" stroke-width="1.0"/>
<rect x="37" y="157" width="90.4" height="86.5" fill="none" stroke="#555" stroke-width="1.0"/>
<line x1="36.5" y1="243.5" x2="127.4" y2="243.5" stroke="#333" stroke-width="1.2"/>
<line x1="37" y1="157" x2="37" y2="244.0" stroke="#444" stroke-width="1.1"/>
<line x1="36.0" y1="171.21956991761564" x2="37" y2="171.21956991761564" stroke="#666" stroke-width="0.8"/>
<line x1="36.0" y1="174.5653038396736" x2="37" y2="174.5653038396736" stroke="#666" stroke-width="0.8"/>
<line x1="36.0" y1="176.9391398352313" x2="37" y2="176.9391398352313" stroke="#666" stroke-width="0.8"/>
<line x1="36.0" y1="178.78043008238436" x2="37" y2="178.78043008238436" stroke="#666" stroke-width="0.8"/>
<line x1="36.0" y1="180.28487375728923" x2="37" y2="180.28487375728923" stroke="#666" stroke-width="0.8"/>
<line x1="36.0" y1="181.5568627602709" x2="37" y2="181.5568627602709" stroke="#666" stroke-width="0.8"/>
<line x1="36.0" y1="182.65870975284693" x2="37" y2="182.65870975284693" stroke="#666" stroke-width="0.8"/>
<line x1="36.0" y1="183.63060767934718" x2="37" y2="183.63060767934718" stroke="#666" stroke-width="0.8"/>
<line x1="36.0" y1="190.31956991761564" x2="37" y2="190.31956991761564" stroke="#666" stroke-width="0.8"/>
<line x1="36.0" y1="193.66530383967358" x2="37" y2="193.66530383967358" stroke="#666" stroke-width="0.8"/>
<line x1="36.0" y1="196.03913983523128" x2="37" y2="196.03913983523128" stroke="#666" stroke-width="0.8"/>
<line x1="36.0" y1="197.88043008238435" x2="37" y2="197.88043008238435" stroke="#666" stroke-width="0.8"/>
<line x1="36.0" y1="199.38487375728923" x2="37" y2="199.38487375728923" stroke="#666" stroke-width="0.8"/>
<line x1="36.0" y1="200.65686276027088" x2="37" y2="200.65686276027088" stroke="#666" stroke-width="0.8"/>
<line x1="36.0" y1="201.75870975284693" x2="37" y2="201.75870975284693" stroke="#666" stroke-width="0.8"/>
<line x1="36.0" y1="202.73060767934717" x2="37" y2="202.73060767934717" stroke="#666" stroke-width="0.8"/>
<line x1="36.0" y1="209.21956991761564" x2="37" y2="209.21956991761564" stroke="#666" stroke-width="0.8"/>
<line x1="36.0" y1="212.5653038396736" x2="37" y2="212.5653038396736" stroke="#666" stroke-width="0.8"/>
<line x1="36.0" y1="214.9391398352313" x2="37" y2="214.9391398352313" stroke="#666" stroke-width="0.8"/>
<line x1="36.0" y1="216.78043008238436" x2="37" y2="216.78043008238436" stroke="#666" stroke-width="0.8"/>
<line x1="36.0" y1="218.28487375728923" x2="37" y2="218.28487375728923" stroke="#666" stroke-width="0.8"/>
<line x1="36.0" y1="219.5568627602709" x2="37" y2="219.5568627602709" stroke="#666" stroke-width="0.8"/>
<line x1="36.0" y1="220.65870975284693" x2="37" y2="220.65870975284693" stroke="#666" stroke-width="0.8"/>
<line x1="36.0" y1="221.63060767934718" x2="37" y2="221.63060767934718" stroke="#666" stroke-width="0.8"/>
<line x1="36.0" y1="231.31956991761564" x2="37" y2="231.31956991761564" stroke="#666" stroke-width="0.8"/>
<line x1="36.0" y1="234.66530383967358" x2="37" y2="234.66530383967358" stroke="#666" stroke-width="0.8"/>
<line x1="36.0" y1="237.03913983523128" x2="37" y2="237.03913983523128" stroke="#666" stroke-width="0.8"/>
<line x1="36.0" y1="238.88043008238435" x2="37" y2="238.88043008238435" stroke="#666" stroke-width="0.8"/>
<line x1="36.0" y1="240.38487375728923" x2="37" y2="240.38487375728923" stroke="#666" stroke-width="0.8"/>
<line x1="43.1" y1="243.5" x2="43.1" y2="245.3" stroke="#333" stroke-width="1.0"/>
<line x1="56.3" y1="243.5" x2="56.3" y2="245.3" stroke="#333" stroke-width="1.0"/>
<line x1="78.3" y1="243.5" x2="78.3" y2="245.3" stroke="#333" stroke-width="1.0"/>
<line x1="99.2" y1="243.5" x2="99.2" y2="245.3" stroke="#333" stroke-width="1.0"/>
<line x1="119.3" y1="243.5" x2="119.3" y2="245.3" stroke="#333" stroke-width="1.0"/>
<text x="29.4" y="169.6" font-size="6.0" stroke="#000" stroke-width="0.32" text-anchor="end" fill="#000" >10</text>
<text x="29.7" y="165.0" font-size="5.6" stroke="#000" stroke-width="0.32" text-anchor="start" fill="#000" >5</text>
<line x1="35.2" y1="166.2" x2="37" y2="166.2" stroke="#333" stroke-width="1"/>
<text x="29.4" y="188.7" font-size="6.0" stroke="#000" stroke-width="0.32" text-anchor="end" fill="#000" >10</text>
<text x="29.7" y="184.1" font-size="5.6" stroke="#000" stroke-width="0.32" text-anchor="start" fill="#000" >4</text>
<line x1="35.2" y1="185.29999999999998" x2="37" y2="185.29999999999998" stroke="#333" stroke-width="1"/>
<text x="29.4" y="207.6" font-size="6.0" stroke="#000" stroke-width="0.32" text-anchor="end" fill="#000" >10</text>
<text x="29.7" y="203.0" font-size="5.6" stroke="#000" stroke-width="0.32" text-anchor="start" fill="#000" >3</text>
<line x1="35.2" y1="204.2" x2="37" y2="204.2" stroke="#333" stroke-width="1"/>
<text x="29.4" y="229.7" font-size="6.0" stroke="#000" stroke-width="0.32" text-anchor="end" fill="#000" >10</text>
<text x="29.7" y="225.1" font-size="5.6" stroke="#000" stroke-width="0.32" text-anchor="start" fill="#000" >2</text>
<line x1="35.2" y1="226.29999999999998" x2="37" y2="226.29999999999998" stroke="#333" stroke-width="1"/>
<text x="30.1" y="238.2" font-size="6.0" stroke="#000" stroke-width="0.32" text-anchor="end" fill="#000" >0</text>
<line x1="35.2" y1="234.4" x2="37" y2="234.4" stroke="#222" stroke-width="1.2"/>
<text x="43.1" y="259.1" font-size="6.0" stroke="#000" stroke-width="0.32" text-anchor="middle" fill="#000" >0</text>
<text x="53.3" y="259.1" font-size="6.0" stroke="#000" stroke-width="0.32" text-anchor="start" fill="#000" >10</text>
<text x="60.0" y="254.00000000000003" font-size="5.6" stroke="#000" stroke-width="0.32" text-anchor="start" fill="#000" >2</text>
<text x="75.5" y="259.1" font-size="6.0" stroke="#000" stroke-width="0.32" text-anchor="start" fill="#000" >10</text>
<text x="82.19999999999999" y="254.00000000000003" font-size="5.6" stroke="#000" stroke-width="0.32" text-anchor="start" fill="#000" >3</text>
<text x="96.0" y="259.1" font-size="6.0" stroke="#000" stroke-width="0.32" text-anchor="start" fill="#000" >10</text>
<text x="102.69999999999999" y="254.00000000000003" font-size="5.6" stroke="#000" stroke-width="0.32" text-anchor="start" fill="#000" >4</text>
<text x="116.10000000000001" y="259.1" font-size="6.0" stroke="#000" stroke-width="0.32" text-anchor="start" fill="#000" >10</text>
<text x="122.8" y="254.00000000000003" font-size="5.6" stroke="#000" stroke-width="0.32" text-anchor="start" fill="#000" >5</text>
<text x="64.5" y="177.8" font-size="6.35" font-weight="bold" stroke="#000" stroke-width="0.25" text-anchor="start" fill="#000" >28.9%</text>
<text x="107.2" y="203.70000000000002" font-size="6.35" font-weight="bold" stroke="#000" stroke-width="0.25" text-anchor="start" fill="#000" >45.3%</text>
<path d="M228.2 209.6h1M231.5 161.9h1M226.2 239.9h1M189.0 204.8h1M202.9 199.4h1M202.7 215.6h1M205.3 215.0h1M194.8 238.9h1M222.9 188.6h1M237.0 224.3h1M215.8 208.0h1M175.8 229.3h1M168.8 207.1h1M207.9 221.7h1M182.4 208.9h1M179.6 199.1h1M186.0 171.9h1M206.6 187.9h1M241.8 228.3h1M164.0 229.3h1M169.3 215.2h1M198.9 171.7h1M199.6 227.1h1M239.4 188.8h1M184.0 222.0h1" stroke="#000" stroke-opacity="0.25"/>
<path d="M178.6 198.6h1M242.8 224.6h1M213.8 205.7h1M158.4 211.1h1M232.8 214.6h1M163.7 195.7h1M190.2 188.6h1M219.3 178.2h1M192.5 237.5h1M162.8 226.7h1M234.6 226.8h1M168.3 228.3h1M159.1 226.1h1M224.1 185.2h1M187.7 239.1h1M224.8 169.8h1M167.1 174.3h1M158.5 217.8h1M162.6 242.6h1M161.3 240.1h1M168.7 216.4h1M182.3 171.5h1M175.6 188.8h1M174.9 231.5h1M174.8 232.9h1" stroke="#000" stroke-opacity="0.25"/>
<path d="M238.3 171.3h1M207.8 212.2h1M192.4 172.0h1M195.0 202.9h1M158.5 225.7h1M189.9 161.5h1M180.1 190.5h1M179.8 199.5h1M217.1 177.8h1M185.1 215.3h1M182.0 164.3h1M165.5 206.2h1M241.7 212.8h1M211.5 218.2h1M225.0 192.7h1M231.8 213.8h1M220.0 204.2h1M214.2 194.1h1M169.9 199.9h1M170.0 175.1h1M225.4 193.0h1M171.9 240.0h1M168.4 192.8h1M172.7 222.9h1M186.1 187.1h1" stroke="#000" stroke-opacity="0.25"/>
<path d="M195.0 215.7h1M222.8 201.5h1M224.8 222.7h1M225.2 238.3h1M214.2 216.5h1M220.7 160.4h1M222.5 165.2h1M245.7 168.8h1M182.4 219.3h1M240.7 229.7h1M199.6 217.4h1M236.7 239.7h1M160.3 235.9h1M245.0 181.1h1M172.2 214.2h1M229.3 171.1h1M219.3 201.8h1M189.1 227.4h1M213.7 211.2h1M159.0 202.6h1M198.9 213.8h1M200.4 225.0h1M171.0 215.0h1M174.8 196.2h1M233.0 237.8h1" stroke="#000" stroke-opacity="0.25"/>
<path d="M225.4 209.2h1M163.8 189.9h1M158.7 240.4h1M207.0 208.4h1M160.6 163.7h1M233.1 167.5h1M241.1 184.1h1M229.8 242.4h1M185.9 182.1h1M207.8 193.2h1M234.8 189.3h1M160.7 230.0h1M202.4 216.4h1M226.7 234.2h1M237.4 186.3h1M166.6 235.8h1M235.3 188.5h1M225.8 233.9h1M238.4 190.1h1M169.1 186.5h1M174.4 180.4h1M220.2 173.3h1M232.0 227.0h1M198.3 210.1h1M230.3 227.7h1" stroke="#000" stroke-opacity="0.25"/>
<path d="M242.9 219.0h1M217.4 195.7h1M229.1 220.5h1M190.6 214.1h1M187.9 192.9h1M221.1 161.4h1M177.0 236.0h1M183.3 224.6h1M239.4 180.2h1M229.9 174.8h1M217.0 238.9h1M200.4 167.9h1M189.3 175.4h1M199.7 173.0h1M202.3 200.4h1" stroke="#000" stroke-opacity="0.25"/>
<path d="M188.3 206.2h1M212.2 215.4h1M182.1 208.1h1M191.2 233.3h1M187.3 223.1h1M169.9 223.5h1M197.8 241.7h1M212.5 222.9h1M204.8 240.4h1M196.5 196.0h1M185.4 220.1h1M199.4 222.9h1M188.9 206.7h1M215.2 236.0h1M217.8 228.2h1M220.7 228.6h1M224.0 224.0h1M198.3 234.4h1M176.6 217.4h1M193.0 231.0h1M215.0 228.9h1M201.5 219.5h1M211.7 225.1h1M219.5 236.9h1M188.6 215.3h1" stroke="#000" stroke-opacity="0.27"/>
<path d="M223.0 232.4h1M224.1 229.1h1M222.8 235.1h1M207.8 223.0h1M208.3 213.3h1M219.0 231.5h1M194.0 216.3h1M188.1 205.2h1M196.7 199.2h1M188.9 205.2h1M201.8 226.8h1M220.2 225.8h1M193.7 194.6h1M179.8 222.6h1M217.6 235.7h1M186.6 202.6h1M191.0 238.4h1M231.0 233.2h1M201.3 236.1h1M194.6 207.2h1M190.7 202.4h1M185.6 230.5h1M196.2 205.2h1M212.9 234.0h1M192.1 230.8h1" stroke="#000" stroke-opacity="0.27"/>
<path d="M235.4 240.3h1M203.0 220.4h1M172.2 219.3h1M186.8 194.4h1M201.4 203.0h1M192.9 193.4h1M211.1 231.8h1M210.1 226.3h1M203.5 223.7h1M196.1 212.6h1M195.4 215.1h1M210.2 236.7h1M198.2 223.3h1M191.7 205.0h1M207.6 221.0h1M203.4 216.8h1M184.3 213.3h1M197.5 221.7h1M215.4 218.4h1M214.7 222.0h1M199.7 210.9h1M183.5 222.0h1M221.1 233.7h1M221.0 239.1h1M206.2 216.4h1" stroke="#000" stroke-opacity="0.27"/>
<path d="M196.6 202.9h1M195.7 228.8h1M222.3 239.5h1M220.7 205.9h1M197.8 223.8h1M218.6 217.8h1M192.6 194.8h1M184.1 203.7h1M235.9 237.9h1M221.8 210.9h1M205.2 223.7h1M179.1 228.9h1M180.0 211.8h1M225.2 228.7h1M194.2 202.3h1M207.7 219.0h1M211.6 232.3h1M200.8 232.2h1M177.1 222.1h1M194.6 199.2h1M190.5 196.0h1M212.9 223.3h1M205.7 212.7h1M178.8 225.2h1M219.3 224.9h1" stroke="#000" stroke-opacity="0.27"/>
<path d="M219.6 239.2h1M195.4 207.4h1M218.2 229.8h1M180.1 235.1h1M208.0 240.3h1M203.4 196.7h1M188.0 203.0h1M213.1 240.8h1M191.1 220.2h1M210.4 238.6h1M194.3 218.1h1M215.8 223.1h1M217.2 225.0h1M172.8 217.3h1M213.0 235.5h1M224.7 219.3h1M180.5 201.9h1M205.7 217.0h1M191.4 235.9h1M198.2 210.6h1M171.0 222.0h1M219.3 214.2h1M218.9 208.9h1M220.2 227.2h1M199.8 230.7h1" stroke="#000" stroke-opacity="0.27"/>
<path d="M190.4 197.9h1M209.6 235.6h1M214.9 223.8h1M204.6 231.4h1M209.5 237.0h1M210.9 227.0h1M175.1 227.5h1M210.3 225.6h1M196.1 224.0h1M192.8 219.1h1M194.8 222.6h1M183.4 233.9h1M199.9 230.4h1M192.1 203.9h1M200.0 218.4h1M216.9 223.9h1M197.6 199.1h1M196.1 199.5h1M194.1 209.5h1M233.0 238.4h1M195.3 209.9h1M184.8 195.1h1M201.2 228.3h1M194.0 201.9h1M191.4 207.6h1" stroke="#000" stroke-opacity="0.27"/>
<path d="M175.4 220.7h1M186.7 187.7h1M192.3 229.0h1M217.5 223.2h1M208.4 226.7h1M181.2 226.9h1M196.1 195.0h1M223.8 230.1h1M221.2 231.3h1M210.3 223.6h1M211.2 217.5h1M218.9 220.8h1M220.9 222.9h1M200.5 225.9h1M203.5 214.7h1M218.2 231.8h1M213.2 215.6h1M211.1 230.1h1M205.2 227.2h1M211.1 195.4h1M200.8 221.2h1M224.1 222.3h1M186.9 199.3h1M186.2 201.5h1M204.2 214.7h1" stroke="#000" stroke-opacity="0.27"/>
<path d="M207.2 224.6h1M214.6 230.3h1M215.0 228.2h1M219.9 229.2h1M212.5 223.1h1M218.6 234.7h1M221.0 226.3h1M196.0 198.3h1M199.7 207.7h1M180.9 199.9h1M194.4 193.1h1M193.6 194.9h1M192.4 204.6h1M213.6 235.7h1M200.6 224.2h1M187.5 193.5h1M212.3 225.3h1M187.7 234.7h1M195.6 225.4h1M193.8 233.0h1M210.8 216.1h1M187.4 209.4h1M204.0 236.5h1M180.3 185.4h1M207.0 219.8h1" stroke="#000" stroke-opacity="0.27"/>
<path d="M189.7 202.3h1M225.2 226.8h1M189.7 192.8h1M211.5 231.2h1M200.5 199.3h1M216.6 230.0h1M201.5 204.2h1M192.3 229.0h1M185.1 197.5h1M191.3 241.4h1M180.7 205.5h1M220.5 215.7h1M227.1 222.6h1M206.9 233.5h1M192.6 222.8h1M213.5 227.5h1M214.7 232.7h1M212.3 208.6h1M194.6 197.0h1M207.7 239.1h1M209.6 229.1h1M190.1 201.8h1M213.3 232.0h1M214.4 232.8h1M203.3 209.3h1" stroke="#000" stroke-opacity="0.27"/>
<path d="M191.3 223.0h1M216.8 216.6h1M204.8 227.9h1M218.8 221.3h1M212.3 232.8h1M212.2 225.6h1M199.3 193.5h1M195.6 219.4h1M223.6 229.1h1M205.9 239.8h1M215.6 228.5h1M188.5 204.6h1M182.9 225.6h1M205.7 217.2h1M185.3 229.7h1M207.0 225.7h1M210.2 238.1h1M183.2 231.5h1M196.2 238.8h1M209.8 228.1h1M193.9 201.0h1M183.5 205.8h1M219.0 235.7h1M185.6 208.2h1M204.3 235.6h1" stroke="#000" stroke-opacity="0.27"/>
<path d="M199.6 212.0h1M197.7 184.8h1M189.4 217.9h1M213.6 235.5h1M208.2 219.9h1M204.5 229.3h1M198.1 224.6h1M205.1 219.9h1M184.0 224.1h1M217.8 229.9h1M172.0 220.2h1M186.7 202.9h1M198.2 202.7h1M197.6 200.0h1M199.5 207.5h1M207.6 217.1h1M204.7 226.4h1M174.7 238.7h1M221.1 225.1h1M224.1 237.9h1M202.6 216.6h1M181.4 213.8h1M216.9 220.4h1M199.9 213.6h1M219.0 231.9h1" stroke="#000" stroke-opacity="0.27"/>
<path d="M184.8 231.2h1M206.2 228.8h1M214.2 222.0h1M197.8 213.8h1M224.2 218.4h1M198.4 201.1h1M203.1 222.1h1M201.0 218.6h1M209.2 235.5h1M185.5 202.3h1M228.0 233.5h1M201.2 219.0h1M212.5 228.2h1M228.7 224.7h1M214.8 221.9h1M207.1 224.4h1M202.4 210.1h1M189.0 216.8h1M223.1 230.5h1M186.5 193.7h1M219.7 215.8h1M181.5 212.1h1M162.9 225.1h1M201.4 217.2h1M205.5 191.7h1" stroke="#000" stroke-opacity="0.27"/>
<path d="M194.9 210.8h1M230.0 240.3h1M207.0 223.9h1M218.5 233.4h1M189.1 213.5h1M211.0 219.2h1M218.5 222.9h1M221.9 214.0h1M210.9 227.9h1M215.0 229.8h1M209.0 220.4h1M214.9 228.9h1M183.2 224.3h1M210.2 222.6h1M212.2 222.9h1M218.0 207.7h1M204.3 221.8h1M200.0 231.5h1M200.5 227.6h1M215.9 225.2h1M214.1 231.4h1M199.7 223.6h1M206.9 228.9h1M190.2 205.0h1M221.9 225.8h1" stroke="#000" stroke-opacity="0.27"/>
<path d="M191.2 196.4h1M205.7 229.6h1M201.3 227.1h1M227.4 216.8h1M196.6 218.0h1M208.2 234.0h1M189.4 230.3h1M220.9 235.5h1M197.3 204.0h1M191.2 189.7h1M236.0 233.5h1M224.1 238.1h1M219.4 224.9h1M215.1 209.7h1M211.1 231.3h1M212.2 231.5h1M215.7 227.2h1M209.5 236.0h1M224.7 227.6h1M196.9 223.7h1M207.6 233.4h1M217.5 227.5h1M201.4 234.2h1M186.7 206.7h1M167.0 214.7h1" stroke="#000" stroke-opacity="0.27"/>
<path d="M204.2 226.8h1M207.2 223.3h1M214.9 226.2h1M220.8 222.5h1M200.4 199.9h1M203.8 225.7h1M193.1 211.3h1M205.6 232.9h1M208.6 221.5h1M190.8 193.6h1M232.6 223.7h1M210.4 214.4h1M194.8 196.8h1M184.9 223.7h1M236.8 215.8h1M217.9 232.2h1M210.4 221.6h1M201.8 210.4h1M195.0 192.1h1M191.5 215.6h1M207.4 205.1h1M205.2 211.2h1M195.7 212.2h1M212.6 240.9h1M194.2 240.3h1" stroke="#000" stroke-opacity="0.27"/>
<path d="M182.0 226.8h1M189.0 196.6h1M197.5 215.0h1M187.7 200.4h1M192.4 191.2h1M228.0 221.6h1M229.2 212.5h1M204.8 198.3h1M205.2 228.9h1M232.9 228.9h1M208.5 236.5h1M219.1 220.3h1M222.1 236.5h1M203.9 227.2h1M208.8 241.4h1M223.6 214.3h1M226.1 216.8h1M210.3 220.2h1M207.7 227.5h1M193.4 193.5h1M210.2 230.9h1M208.8 230.8h1M191.1 206.7h1M197.2 187.4h1M215.5 212.9h1" stroke="#000" stroke-opacity="0.27"/>
<path d="M194.8 209.8h1M216.3 214.9h1M211.8 224.5h1M204.0 226.3h1M203.8 211.9h1M207.3 226.5h1M215.1 230.5h1M229.4 212.3h1M211.5 216.0h1M184.1 196.1h1M216.3 199.7h1M196.6 197.4h1M199.8 226.7h1M183.5 201.3h1M197.4 194.0h1M202.8 236.4h1M190.2 222.7h1M184.0 213.5h1M222.9 224.3h1M182.5 201.9h1M215.2 228.2h1M213.9 234.4h1M199.0 205.6h1M221.6 223.6h1M192.8 192.4h1" stroke="#000" stroke-opacity="0.27"/>
<path d="M184.2 214.0h1M223.3 215.9h1M185.0 223.2h1M187.0 219.1h1M178.4 226.0h1M193.3 224.0h1M161.2 221.5h1M220.9 217.4h1M209.2 208.4h1M177.6 224.6h1M200.5 208.9h1M210.2 225.8h1M203.4 217.8h1M208.2 229.9h1M193.1 232.6h1M174.7 238.2h1M204.5 230.2h1M219.4 226.4h1M210.6 224.2h1M213.0 210.2h1M201.8 195.2h1M227.8 222.3h1M201.5 230.5h1M186.5 238.6h1M213.0 223.1h1" stroke="#000" stroke-opacity="0.27"/>
<path d="M223.0 225.7h1M200.1 203.6h1M197.9 197.0h1M177.5 220.6h1M177.4 227.3h1M187.0 207.3h1M193.0 197.8h1M195.7 229.9h1M228.5 233.9h1M185.3 241.4h1M208.1 236.7h1M215.2 229.8h1M195.4 230.6h1M203.2 225.0h1M171.6 213.2h1M190.9 200.7h1M223.5 222.0h1M205.8 238.6h1M220.1 210.2h1M185.3 198.3h1M187.9 201.6h1M200.3 217.3h1M203.3 197.2h1M196.4 215.1h1M209.6 234.4h1" stroke="#000" stroke-opacity="0.27"/>
<path d="M199.3 220.1h1M200.9 202.8h1M182.1 210.3h1M208.0 216.9h1M225.0 226.6h1M170.6 202.7h1M191.0 224.2h1M180.5 194.0h1M196.4 216.1h1M216.5 226.4h1M171.0 193.5h1M211.3 236.9h1M176.0 227.5h1M185.6 211.3h1M200.8 218.1h1M193.6 210.2h1M209.3 227.1h1M223.8 221.4h1M212.3 224.2h1M215.3 229.7h1M224.2 221.3h1M188.4 227.0h1M199.7 218.7h1M194.9 188.7h1M191.9 217.7h1" stroke="#000" stroke-opacity="0.27"/>
<path d="M212.4 218.8h1M219.6 222.5h1M218.4 218.6h1M203.6 226.2h1M200.1 220.9h1M203.0 225.8h1M214.2 226.1h1M186.1 212.6h1M215.9 221.4h1M211.3 214.2h1M175.5 231.5h1M192.6 214.1h1M225.8 231.0h1M200.3 195.0h1M223.4 228.3h1M200.4 227.5h1M221.1 226.1h1M216.1 230.0h1M214.9 230.1h1M200.1 234.3h1M203.0 233.4h1M204.0 223.1h1M231.6 226.4h1M208.4 237.4h1M212.6 217.9h1" stroke="#000" stroke-opacity="0.27"/>
<path d="M203.5 233.8h1M193.5 221.0h1M218.1 222.5h1M178.3 225.2h1M213.5 231.1h1M206.1 224.3h1M201.5 214.0h1M205.0 224.6h1M208.3 222.7h1M181.5 222.0h1M207.8 231.1h1M182.2 213.3h1M217.5 226.6h1M176.4 224.2h1M191.9 215.2h1M216.1 222.4h1M216.1 220.4h1M198.7 226.4h1M235.0 218.8h1M195.9 196.8h1M213.8 232.2h1M230.3 223.7h1M194.9 204.7h1M208.2 202.1h1M218.5 216.8h1" stroke="#000" stroke-opacity="0.27"/>
<path d="M206.1 193.4h1M217.1 228.2h1M198.3 224.4h1M201.6 193.2h1M218.5 220.6h1M193.5 225.2h1M195.7 199.5h1M207.9 201.6h1M196.3 196.1h1M187.2 222.4h1M187.3 208.1h1M191.3 193.7h1M178.8 220.2h1M216.1 235.6h1M198.2 217.5h1M209.6 221.7h1M229.1 226.8h1M187.2 198.9h1M220.5 218.8h1M216.2 237.8h1M226.0 230.8h1M201.3 224.3h1M214.4 217.0h1M187.6 204.9h1M199.9 204.1h1" stroke="#000" stroke-opacity="0.27"/>
<path d="M220.9 220.9h1M207.5 220.4h1M212.5 222.8h1M203.6 234.6h1M196.2 240.0h1M193.0 208.6h1M209.9 215.7h1M218.6 222.2h1M183.2 213.3h1M204.6 240.5h1M204.6 228.7h1M213.2 230.1h1M200.9 231.7h1M190.8 216.1h1M202.5 211.1h1M188.3 209.6h1M214.1 223.6h1M217.6 240.7h1M179.9 212.7h1M198.3 225.6h1M208.2 225.4h1M220.7 227.5h1M206.1 225.7h1M210.9 220.4h1M158.5 238.7h1" stroke="#000" stroke-opacity="0.27"/>
<path d="M205.9 222.0h1M215.0 233.4h1M176.5 209.9h1M223.2 238.7h1M191.6 207.3h1M214.4 225.3h1M191.1 207.6h1M223.4 219.3h1M213.0 228.5h1M199.9 227.8h1M200.4 201.1h1M219.4 228.8h1M212.4 229.6h1M218.7 218.0h1M193.0 202.5h1M214.3 222.1h1M215.1 240.7h1M234.8 216.4h1M218.0 237.1h1M202.6 220.7h1M220.5 231.6h1M189.1 199.1h1M212.8 237.9h1M187.2 202.5h1M172.0 212.7h1" stroke="#000" stroke-opacity="0.27"/>
<path d="M228.6 229.7h1M218.7 227.4h1M198.5 220.5h1M216.1 227.2h1M217.2 225.9h1M201.2 222.8h1M196.3 234.4h1M220.6 241.6h1M192.4 238.1h1M220.3 238.4h1M216.2 230.9h1M198.1 197.6h1M207.0 228.1h1M209.8 208.4h1M185.2 195.6h1M197.9 206.3h1M202.5 240.8h1M209.2 207.8h1M181.9 222.2h1M188.9 212.7h1M211.2 236.7h1M213.0 224.4h1M207.8 210.7h1M191.2 193.8h1M207.7 197.3h1" stroke="#000" stroke-opacity="0.27"/>
<path d="M230.3 220.2h1M195.2 203.3h1M207.5 240.3h1M213.6 226.7h1M218.1 228.3h1M187.1 199.2h1M193.4 201.0h1M221.0 229.2h1M200.5 224.2h1M191.2 200.6h1M208.7 232.4h1M182.7 201.4h1M214.8 228.8h1M212.4 226.8h1M189.5 203.0h1M225.5 236.6h1M228.9 229.0h1M234.9 229.5h1M216.4 238.0h1M201.3 223.9h1M214.5 213.6h1M202.2 216.4h1M222.6 233.3h1M167.0 222.3h1M202.2 227.8h1" stroke="#000" stroke-opacity="0.27"/>
<path d="M193.2 240.5h1M222.0 229.7h1M207.2 226.6h1M202.8 210.2h1M226.7 228.8h1M187.4 228.4h1M189.1 239.8h1M191.1 201.5h1M178.5 227.5h1M199.8 195.8h1M213.7 226.9h1M169.2 232.1h1M219.1 224.4h1M203.9 221.4h1M217.7 228.8h1M209.8 226.3h1M203.6 224.9h1M206.2 205.4h1M211.2 219.4h1M214.2 224.2h1M191.6 190.9h1M215.8 221.8h1M193.5 217.0h1M223.9 230.6h1M205.8 238.1h1" stroke="#000" stroke-opacity="0.27"/>
<path d="M185.0 190.9h1M200.8 202.3h1M230.5 221.7h1M203.1 203.8h1M212.1 216.8h1M213.9 235.7h1M164.0 223.6h1M211.5 225.0h1M184.6 207.5h1M183.0 213.0h1M209.6 220.9h1M209.9 230.2h1M185.1 198.1h1M203.5 225.5h1M204.7 237.3h1M183.2 197.8h1M209.5 228.7h1M183.7 211.1h1M169.3 234.0h1M215.2 223.2h1M196.5 234.6h1M213.6 214.3h1M205.8 206.6h1M227.1 238.0h1M188.2 223.3h1" stroke="#000" stroke-opacity="0.27"/>
<path d="M216.6 218.9h1M210.0 226.8h1M206.4 209.4h1M221.5 231.6h1M214.6 231.9h1M207.7 224.1h1M194.4 225.8h1M221.5 235.8h1M216.3 237.3h1M199.5 190.1h1M219.5 223.6h1M224.0 230.2h1M197.1 200.2h1M219.5 232.2h1M200.3 201.3h1M192.6 214.9h1M223.8 239.2h1M192.5 207.5h1M205.7 233.5h1M205.2 231.8h1M210.9 231.5h1M198.8 226.6h1M173.0 227.6h1M214.1 232.6h1M199.5 214.1h1" stroke="#000" stroke-opacity="0.27"/>
<path d="M195.9 200.4h1M213.8 224.9h1M206.4 232.9h1M212.8 220.3h1M196.5 191.6h1M194.8 193.4h1M195.9 203.2h1M197.7 227.3h1M197.1 233.0h1M207.4 204.6h1M189.0 204.6h1M196.8 226.8h1M210.8 234.3h1M214.6 233.0h1M222.0 222.8h1M185.4 192.0h1M201.6 188.5h1M203.7 232.7h1M203.4 217.6h1M239.1 230.8h1M218.1 235.8h1M187.7 202.9h1M192.9 192.6h1M195.8 220.3h1M208.8 226.0h1" stroke="#000" stroke-opacity="0.27"/>
<path d="M219.0 215.6h1M187.2 200.1h1M210.4 234.7h1M193.0 193.9h1M223.0 226.1h1M211.7 239.5h1M190.8 201.1h1M206.5 226.3h1M185.0 230.6h1M211.8 227.2h1M186.5 236.2h1M228.8 217.7h1M227.4 235.3h1M212.0 222.8h1M186.5 231.9h1M187.7 201.7h1M209.9 236.5h1M198.5 224.5h1M215.3 226.5h1M211.6 219.1h1M188.6 212.5h1M216.9 218.0h1M181.1 237.7h1M190.8 222.4h1M209.5 230.2h1" stroke="#000" stroke-opacity="0.27"/>
<path d="M220.3 228.3h1M185.3 222.0h1M189.5 212.3h1M198.9 208.4h1M191.3 194.4h1M222.8 237.7h1M210.1 224.8h1M185.2 206.3h1M207.2 222.2h1M189.8 234.2h1M207.8 227.3h1M223.1 214.2h1M202.6 221.0h1M197.9 217.8h1M213.6 214.7h1M204.2 230.1h1M200.5 195.2h1M235.6 230.8h1M209.6 234.3h1M206.9 236.2h1M184.3 220.1h1M182.8 196.5h1M165.6 231.5h1M208.4 232.7h1M194.7 207.7h1" stroke="#000" stroke-opacity="0.27"/>
<path d="M212.2 223.0h1M207.6 216.8h1M200.7 195.7h1M184.3 199.1h1M216.3 222.4h1M217.9 222.3h1M222.3 225.3h1M222.5 231.7h1M210.2 225.4h1M204.4 206.4h1M210.9 234.4h1M214.4 226.5h1M190.8 224.0h1M207.9 231.1h1M220.9 232.5h1M204.8 219.7h1M200.7 224.7h1M207.4 236.5h1M224.6 229.0h1M215.6 217.5h1M199.5 219.0h1M180.9 234.6h1M205.9 232.5h1M205.6 239.2h1M216.1 233.1h1" stroke="#000" stroke-opacity="0.27"/>
<path d="M216.9 233.5h1M209.8 234.4h1M191.8 225.7h1M217.4 239.2h1M188.1 195.9h1M181.4 207.5h1M199.6 204.7h1M204.5 228.4h1M192.0 196.4h1M196.7 203.0h1M203.8 210.9h1M224.9 231.4h1M196.3 221.0h1M196.1 201.3h1M190.5 232.4h1M214.3 231.3h1M192.2 200.9h1M230.6 220.3h1M223.0 226.9h1M191.9 212.5h1M192.4 195.4h1M212.0 209.2h1M172.7 223.7h1M190.5 224.7h1M193.4 234.0h1" stroke="#000" stroke-opacity="0.27"/>
<path d="M226.4 218.8h1M169.3 222.9h1M169.7 236.7h1M180.4 200.8h1M223.6 230.8h1M202.5 225.3h1M182.5 194.5h1M206.7 220.6h1M193.2 214.9h1M211.6 224.7h1M219.5 228.6h1M202.3 237.2h1M217.6 217.1h1M174.9 223.1h1M197.7 206.3h1M214.4 209.0h1M193.5 203.3h1M189.5 201.7h1M217.1 222.3h1M196.2 223.3h1M183.8 229.6h1M203.8 198.1h1M209.8 216.4h1M200.7 223.3h1M191.6 209.8h1" stroke="#000" stroke-opacity="0.27"/>
<path d="M179.4 198.6h1M212.5 216.4h1M217.5 235.1h1M185.7 204.7h1M221.4 222.5h1M205.1 225.6h1M221.5 216.9h1M204.4 208.7h1M191.8 202.1h1M162.2 207.4h1M196.4 232.6h1M204.5 226.5h1M211.7 226.9h1M210.7 223.4h1M203.9 236.3h1M211.3 229.6h1M226.0 216.6h1M217.1 212.5h1M225.2 226.8h1M218.2 224.3h1M180.1 236.2h1M184.3 215.2h1M182.3 199.1h1M201.5 217.1h1M223.6 223.4h1" stroke="#000" stroke-opacity="0.27"/>
<path d="M216.7 229.5h1M230.5 230.1h1M231.2 221.6h1M225.5 212.6h1M204.9 225.3h1M202.2 215.4h1M215.8 212.4h1M190.0 210.7h1M195.5 212.2h1M220.7 224.9h1M209.0 212.0h1M211.7 204.6h1M186.6 192.1h1M185.5 199.3h1M183.5 224.7h1M213.6 223.8h1M191.1 197.7h1M215.6 218.1h1M200.3 241.7h1M195.6 229.2h1M179.5 234.3h1M190.4 199.2h1M202.4 221.9h1M201.7 228.3h1M215.0 216.0h1" stroke="#000" stroke-opacity="0.27"/>
<path d="M204.3 220.9h1M230.2 224.9h1M243.6 224.6h1M214.5 216.5h1M185.9 223.6h1M193.7 232.3h1M184.8 206.3h1M193.0 207.6h1M180.9 197.9h1M200.8 206.7h1M202.3 196.1h1M212.3 231.6h1M220.5 229.1h1M196.6 195.0h1M216.8 230.7h1M201.7 225.9h1M203.4 219.1h1M193.1 220.7h1M191.4 228.0h1M217.6 225.8h1M180.8 199.2h1M227.7 222.7h1M197.1 217.5h1M189.8 195.9h1M176.2 232.6h1" stroke="#000" stroke-opacity="0.27"/>
<path d="M182.9 208.3h1M207.3 227.1h1M215.0 221.5h1M211.0 235.8h1M205.2 234.5h1M202.8 236.7h1M216.6 221.7h1M197.4 216.0h1M222.2 241.3h1M221.0 222.6h1M206.4 233.2h1M205.0 228.9h1M208.9 224.5h1M208.0 212.8h1M205.6 227.7h1M187.6 220.1h1M194.6 203.4h1M208.6 225.6h1M198.9 199.4h1M215.2 232.8h1M194.0 206.8h1M211.4 234.5h1M188.7 205.0h1M190.9 206.0h1M194.6 194.4h1" stroke="#000" stroke-opacity="0.27"/>
<path d="M223.4 223.0h1M205.2 223.2h1M190.9 197.3h1M201.8 229.6h1M223.3 229.5h1M171.2 217.6h1M195.3 192.6h1M201.3 216.4h1M206.1 212.6h1M213.1 228.9h1M184.0 201.9h1M216.1 238.5h1M188.5 210.3h1M188.3 231.0h1M189.3 204.5h1M219.8 231.2h1M189.1 233.6h1M180.6 230.0h1M189.7 224.0h1M221.8 235.2h1M222.6 222.7h1M201.1 219.4h1M186.7 221.7h1M203.7 219.3h1M197.1 203.5h1" stroke="#000" stroke-opacity="0.27"/>
<path d="M213.4 237.1h1M185.8 195.6h1M194.2 208.9h1M169.9 238.9h1M219.1 228.0h1M223.7 239.6h1M214.3 238.8h1M192.2 199.0h1M184.0 238.0h1M213.8 229.8h1M209.0 216.9h1M207.8 227.8h1M212.6 210.7h1M189.6 229.8h1M212.9 215.8h1M201.2 229.5h1M191.7 195.5h1M189.5 196.2h1M193.2 213.1h1M211.8 227.8h1M194.1 219.0h1M211.3 223.5h1M180.3 226.9h1M193.3 198.7h1M215.9 220.3h1" stroke="#000" stroke-opacity="0.27"/>
<path d="M217.0 235.9h1M177.3 200.2h1M205.4 206.9h1M209.1 230.5h1M211.6 212.7h1M196.5 222.2h1" stroke="#000" stroke-opacity="0.27"/>
<rect x="175.5" y="187.4" width="32.099999999999994" height="23.5" fill="none" stroke="#555" stroke-width="1.0"/>
<rect x="201.4" y="210.9" width="34.0" height="32.099999999999994" fill="none" stroke="#555" stroke-width="1.0"/>
<rect x="155.2" y="157" width="91.0" height="86" fill="none" stroke="#555" stroke-width="1.0"/>
<line x1="154.7" y1="243" x2="246.2" y2="243" stroke="#333" stroke-width="1.2"/>
<line x1="155.2" y1="157" x2="155.2" y2="243.5" stroke="#444" stroke-width="1.1"/>
<line x1="154.2" y1="171.21956991761564" x2="155.2" y2="171.21956991761564" stroke="#666" stroke-width="0.8"/>
<line x1="154.2" y1="174.5653038396736" x2="155.2" y2="174.5653038396736" stroke="#666" stroke-width="0.8"/>
<line x1="154.2" y1="176.9391398352313" x2="155.2" y2="176.9391398352313" stroke="#666" stroke-width="0.8"/>
<line x1="154.2" y1="178.78043008238436" x2="155.2" y2="178.78043008238436" stroke="#666" stroke-width="0.8"/>
<line x1="154.2" y1="180.28487375728923" x2="155.2" y2="180.28487375728923" stroke="#666" stroke-width="0.8"/>
<line x1="154.2" y1="181.5568627602709" x2="155.2" y2="181.5568627602709" stroke="#666" stroke-width="0.8"/>
<line x1="154.2" y1="182.65870975284693" x2="155.2" y2="182.65870975284693" stroke="#666" stroke-width="0.8"/>
<line x1="154.2" y1="183.63060767934718" x2="155.2" y2="183.63060767934718" stroke="#666" stroke-width="0.8"/>
<line x1="154.2" y1="190.31956991761564" x2="155.2" y2="190.31956991761564" stroke="#666" stroke-width="0.8"/>
<line x1="154.2" y1="193.66530383967358" x2="155.2" y2="193.66530383967358" stroke="#666" stroke-width="0.8"/>
<line x1="154.2" y1="196.03913983523128" x2="155.2" y2="196.03913983523128" stroke="#666" stroke-width="0.8"/>
<line x1="154.2" y1="197.88043008238435" x2="155.2" y2="197.88043008238435" stroke="#666" stroke-width="0.8"/>
<line x1="154.2" y1="199.38487375728923" x2="155.2" y2="199.38487375728923" stroke="#666" stroke-width="0.8"/>
<line x1="154.2" y1="200.65686276027088" x2="155.2" y2="200.65686276027088" stroke="#666" stroke-width="0.8"/>
<line x1="154.2" y1="201.75870975284693" x2="155.2" y2="201.75870975284693" stroke="#666" stroke-width="0.8"/>
<line x1="154.2" y1="202.73060767934717" x2="155.2" y2="202.73060767934717" stroke="#666" stroke-width="0.8"/>
<line x1="154.2" y1="209.21956991761564" x2="155.2" y2="209.21956991761564" stroke="#666" stroke-width="0.8"/>
<line x1="154.2" y1="212.5653038396736" x2="155.2" y2="212.5653038396736" stroke="#666" stroke-width="0.8"/>
<line x1="154.2" y1="214.9391398352313" x2="155.2" y2="214.9391398352313" stroke="#666" stroke-width="0.8"/>
<line x1="154.2" y1="216.78043008238436" x2="155.2" y2="216.78043008238436" stroke="#666" stroke-width="0.8"/>
<line x1="154.2" y1="218.28487375728923" x2="155.2" y2="218.28487375728923" stroke="#666" stroke-width="0.8"/>
<line x1="154.2" y1="219.5568627602709" x2="155.2" y2="219.5568627602709" stroke="#666" stroke-width="0.8"/>
<line x1="154.2" y1="220.65870975284693" x2="155.2" y2="220.65870975284693" stroke="#666" stroke-width="0.8"/>
<line x1="154.2" y1="221.63060767934718" x2="155.2" y2="221.63060767934718" stroke="#666" stroke-width="0.8"/>
<line x1="154.2" y1="231.31956991761564" x2="155.2" y2="231.31956991761564" stroke="#666" stroke-width="0.8"/>
<line x1="154.2" y1="234.66530383967358" x2="155.2" y2="234.66530383967358" stroke="#666" stroke-width="0.8"/>
<line x1="154.2" y1="237.03913983523128" x2="155.2" y2="237.03913983523128" stroke="#666" stroke-width="0.8"/>
<line x1="154.2" y1="238.88043008238435" x2="155.2" y2="238.88043008238435" stroke="#666" stroke-width="0.8"/>
<line x1="161.29999999999998" y1="243" x2="161.29999999999998" y2="244.8" stroke="#333" stroke-width="1.0"/>
<line x1="174.5" y1="243" x2="174.5" y2="244.8" stroke="#333" stroke-width="1.0"/>
<line x1="196.5" y1="243" x2="196.5" y2="244.8" stroke="#333" stroke-width="1.0"/>
<line x1="217.39999999999998" y1="243" x2="217.39999999999998" y2="244.8" stroke="#333" stroke-width="1.0"/>
<line x1="237.5" y1="243" x2="237.5" y2="244.8" stroke="#333" stroke-width="1.0"/>
<text x="147.6" y="169.6" font-size="6.0" stroke="#000" stroke-width="0.32" text-anchor="end" fill="#000" >10</text>
<text x="147.89999999999998" y="165.0" font-size="5.6" stroke="#000" stroke-width="0.32" text-anchor="start" fill="#000" >5</text>
<line x1="153.39999999999998" y1="166.2" x2="155.2" y2="166.2" stroke="#333" stroke-width="1"/>
<text x="147.6" y="188.7" font-size="6.0" stroke="#000" stroke-width="0.32" text-anchor="end" fill="#000" >10</text>
<text x="147.89999999999998" y="184.1" font-size="5.6" stroke="#000" stroke-width="0.32" text-anchor="start" fill="#000" >4</text>
<line x1="153.39999999999998" y1="185.29999999999998" x2="155.2" y2="185.29999999999998" stroke="#333" stroke-width="1"/>
<text x="147.6" y="207.6" font-size="6.0" stroke="#000" stroke-width="0.32" text-anchor="end" fill="#000" >10</text>
<text x="147.89999999999998" y="203.0" font-size="5.6" stroke="#000" stroke-width="0.32" text-anchor="start" fill="#000" >3</text>
<line x1="153.39999999999998" y1="204.2" x2="155.2" y2="204.2" stroke="#333" stroke-width="1"/>
<text x="147.6" y="229.7" font-size="6.0" stroke="#000" stroke-width="0.32" text-anchor="end" fill="#000" >10</text>
<text x="147.89999999999998" y="225.1" font-size="5.6" stroke="#000" stroke-width="0.32" text-anchor="start" fill="#000" >2</text>
<line x1="153.39999999999998" y1="226.29999999999998" x2="155.2" y2="226.29999999999998" stroke="#333" stroke-width="1"/>
<text x="148.29999999999998" y="238.2" font-size="6.0" stroke="#000" stroke-width="0.32" text-anchor="end" fill="#000" >0</text>
<line x1="153.39999999999998" y1="234.4" x2="155.2" y2="234.4" stroke="#222" stroke-width="1.2"/>
<text x="161.29999999999998" y="258.6" font-size="6.0" stroke="#000" stroke-width="0.32" text-anchor="middle" fill="#000" >0</text>
<text x="171.5" y="258.6" font-size="6.0" stroke="#000" stroke-width="0.32" text-anchor="start" fill="#000" >10</text>
<text x="178.2" y="253.50000000000003" font-size="5.6" stroke="#000" stroke-width="0.32" text-anchor="start" fill="#000" >2</text>
<text x="193.7" y="258.6" font-size="6.0" stroke="#000" stroke-width="0.32" text-anchor="start" fill="#000" >10</text>
<text x="200.39999999999998" y="253.50000000000003" font-size="5.6" stroke="#000" stroke-width="0.32" text-anchor="start" fill="#000" >3</text>
<text x="214.2" y="258.6" font-size="6.0" stroke="#000" stroke-width="0.32" text-anchor="start" fill="#000" >10</text>
<text x="220.89999999999998" y="253.50000000000003" font-size="5.6" stroke="#000" stroke-width="0.32" text-anchor="start" fill="#000" >4</text>
<text x="234.29999999999998" y="258.6" font-size="6.0" stroke="#000" stroke-width="0.32" text-anchor="start" fill="#000" >10</text>
<text x="240.99999999999997" y="253.50000000000003" font-size="5.6" stroke="#000" stroke-width="0.32" text-anchor="start" fill="#000" >5</text>
<text x="182.3" y="176.60000000000002" font-size="6.35" font-weight="bold" stroke="#000" stroke-width="0.25" text-anchor="start" fill="#000" >27.2%</text>
<text x="226.5" y="203.0" font-size="6.35" font-weight="bold" stroke="#000" stroke-width="0.25" text-anchor="start" fill="#000" >47.2%</text>
<path d="M289.5 195.7h1M301.5 214.9h1M336.4 211.2h1M360.1 182.9h1M326.5 204.6h1M274.5 229.2h1M274.4 237.2h1M296.4 186.3h1M332.2 222.0h1M341.5 233.8h1M315.0 217.4h1M347.0 240.7h1M346.1 214.7h1M291.7 223.1h1M301.4 237.0h1M329.7 224.4h1M322.1 222.6h1M324.8 229.8h1M340.5 191.2h1M293.5 214.6h1M339.6 234.7h1M297.9 241.2h1M288.8 220.0h1M317.9 215.7h1M313.8 212.5h1" stroke="#000" stroke-opacity="0.25"/>
<path d="M304.4 183.2h1M312.7 225.0h1M308.8 233.8h1M287.8 226.8h1M315.2 240.8h1M333.7 241.8h1M314.4 216.7h1M324.7 195.7h1M283.7 237.4h1M289.1 184.5h1M279.2 223.0h1M345.1 203.4h1M318.3 166.0h1M360.8 217.1h1M337.9 235.4h1M276.4 193.1h1M317.6 163.1h1M292.5 214.1h1M291.7 199.9h1M311.1 235.6h1M312.9 213.8h1M316.9 219.0h1M274.2 180.0h1M343.0 188.5h1M357.8 160.0h1" stroke="#000" stroke-opacity="0.25"/>
<path d="M319.1 196.0h1M283.0 222.8h1M276.2 217.4h1M323.9 192.5h1M285.0 224.6h1M340.6 164.1h1M284.6 200.3h1M288.1 210.5h1M336.6 239.6h1M350.8 191.1h1M308.9 178.2h1M276.8 233.3h1M315.8 220.0h1M320.5 192.2h1M282.6 236.6h1M284.9 212.6h1M318.9 186.2h1M326.8 187.0h1M311.5 202.2h1M316.4 237.9h1M289.4 219.3h1M354.4 202.3h1M303.1 186.4h1M278.5 193.1h1M332.6 204.8h1" stroke="#000" stroke-opacity="0.25"/>
<path d="M333.3 229.3h1M354.0 206.3h1M277.5 206.3h1M284.5 195.7h1M328.5 201.4h1M346.9 217.1h1M278.8 220.6h1M277.8 169.7h1M342.6 188.4h1M302.9 165.7h1M349.5 183.5h1M345.6 162.5h1M320.6 182.2h1M347.4 192.7h1M279.0 224.9h1M287.4 230.0h1M313.8 197.8h1M292.3 172.0h1M310.6 221.6h1M352.6 222.7h1M323.3 194.1h1M334.6 236.8h1M284.0 221.6h1M324.5 233.7h1M327.4 197.8h1" stroke="#000" stroke-opacity="0.25"/>
<path d="M315.9 233.2h1M347.9 202.9h1M329.3 223.1h1M300.0 209.5h1M277.2 218.2h1M356.2 234.3h1M277.5 195.5h1M306.5 170.9h1M307.3 195.6h1M333.8 165.5h1M305.6 181.2h1M355.5 239.8h1M354.3 237.0h1M353.1 204.9h1M330.4 184.9h1M347.5 171.5h1M282.7 210.9h1M356.8 161.6h1M339.4 179.5h1M353.1 232.1h1M304.2 169.6h1M283.3 232.8h1M331.1 199.7h1M288.5 220.7h1M296.6 187.8h1" stroke="#000" stroke-opacity="0.25"/>
<path d="M309.4 231.7h1M354.9 190.3h1M310.1 183.6h1M350.4 169.0h1M317.6 176.7h1M328.9 224.3h1M338.2 195.5h1M320.5 201.8h1M290.9 221.0h1M300.0 215.0h1M310.6 170.8h1M329.6 194.7h1M285.7 179.2h1M282.5 163.2h1M358.9 235.0h1M277.0 177.9h1M290.3 214.8h1M340.7 211.2h1M321.4 209.2h1M304.6 221.7h1M361.3 241.0h1M328.6 215.0h1M350.0 209.4h1M304.9 207.9h1M311.1 217.9h1" stroke="#000" stroke-opacity="0.25"/>
<path d="M308.8 199.9h1M337.1 228.5h1M300.7 205.4h1M317.1 234.7h1M340.2 190.7h1M338.2 214.9h1M326.1 226.8h1M291.3 226.1h1M307.6 196.7h1M317.0 195.8h1M320.6 214.9h1M329.0 204.8h1M347.1 232.7h1M300.9 233.7h1M302.5 221.1h1M309.8 203.3h1M331.1 220.2h1M314.0 204.7h1M304.8 228.1h1M296.4 224.8h1M346.4 193.8h1M315.4 227.2h1M340.4 209.1h1M327.3 216.6h1M309.0 205.2h1" stroke="#000" stroke-opacity="0.27"/>
<path d="M318.3 223.1h1M333.2 227.4h1M314.9 220.2h1M327.7 230.6h1M329.6 231.9h1M337.0 199.4h1M336.6 217.9h1M338.9 220.5h1M330.9 223.6h1M311.3 216.4h1M334.4 227.1h1M331.1 222.7h1M292.6 214.0h1M326.0 214.0h1M312.6 210.0h1M343.2 227.2h1M334.6 225.5h1M332.4 231.7h1M324.7 219.1h1M322.3 221.0h1M323.7 213.7h1M325.5 234.1h1M334.3 228.7h1M308.1 227.5h1M301.5 227.1h1" stroke="#000" stroke-opacity="0.27"/>
<path d="M340.0 225.1h1M326.5 225.5h1M335.6 217.0h1M340.4 220.6h1M319.0 221.5h1M344.5 226.9h1M347.2 197.3h1M332.8 206.9h1M288.5 222.6h1M297.1 222.4h1M324.9 221.4h1M321.7 222.7h1M310.8 203.1h1M322.0 197.9h1M327.4 232.2h1M328.8 242.2h1M304.9 215.4h1M329.0 217.7h1M315.3 191.7h1M321.3 228.4h1M326.3 230.0h1M314.8 228.3h1M320.3 229.6h1M338.1 214.8h1M315.0 231.8h1" stroke="#000" stroke-opacity="0.27"/>
<path d="M333.1 233.3h1M316.7 194.7h1M285.3 217.0h1M356.3 230.0h1M323.6 227.5h1M338.8 220.9h1M309.7 220.4h1M340.0 226.8h1M316.8 238.1h1M349.5 227.8h1M316.8 212.6h1M351.7 214.4h1M294.6 238.5h1M344.1 198.1h1M320.0 212.7h1M323.1 205.3h1M332.1 221.7h1M328.1 229.5h1M324.1 226.6h1M321.8 225.2h1M308.4 199.3h1M323.7 236.5h1M332.6 236.4h1M344.9 215.7h1M320.2 219.4h1" stroke="#000" stroke-opacity="0.27"/>
<path d="M339.4 208.7h1M335.7 236.9h1M342.7 216.9h1M310.2 224.4h1M312.9 213.5h1M299.1 221.2h1M313.3 198.0h1M339.9 226.4h1M337.8 224.8h1M316.9 198.0h1M348.3 218.4h1M333.5 216.1h1M320.3 201.5h1M331.2 224.3h1M316.2 190.4h1M324.7 239.4h1M312.5 226.7h1M325.1 213.2h1M344.4 229.4h1M325.6 208.8h1M338.1 228.9h1M320.8 232.1h1M310.7 232.3h1M311.4 199.2h1M338.5 223.3h1" stroke="#000" stroke-opacity="0.27"/>
<path d="M303.6 198.5h1M331.5 232.6h1M285.7 205.2h1M336.7 218.5h1M321.7 231.8h1M331.6 224.7h1M355.7 220.8h1M303.3 194.7h1M325.9 214.4h1M309.8 196.0h1M338.2 212.4h1M319.7 224.6h1M296.5 218.9h1M354.8 233.4h1M287.0 219.4h1M324.3 229.0h1M319.3 218.3h1M318.0 240.1h1M352.7 227.3h1M317.0 201.7h1M309.6 205.5h1M330.8 230.9h1M335.0 235.1h1M339.8 223.1h1M324.6 230.3h1" stroke="#000" stroke-opacity="0.27"/>
<path d="M323.2 239.4h1M324.7 221.1h1M319.3 195.1h1M332.0 236.5h1M311.2 238.2h1M331.5 231.2h1M314.2 228.0h1M319.2 236.0h1M332.2 226.6h1M324.0 219.7h1M330.7 221.0h1M324.7 213.5h1M310.5 213.3h1M348.5 237.9h1M327.2 192.7h1M312.2 200.6h1M324.1 220.4h1M331.6 223.1h1M294.1 227.2h1M313.3 204.6h1M307.7 203.8h1M337.3 225.8h1M322.8 236.1h1M341.2 235.0h1M315.9 196.5h1" stroke="#000" stroke-opacity="0.27"/>
<path d="M321.2 234.9h1M337.5 231.4h1M339.3 231.6h1M321.8 234.1h1M302.7 193.2h1M307.2 202.0h1M331.2 227.2h1M323.0 222.5h1M315.6 233.5h1M335.6 222.0h1M308.3 196.4h1M329.6 222.8h1M305.8 225.5h1M286.1 214.4h1M332.4 224.6h1M311.5 198.7h1M332.1 232.9h1M303.6 239.1h1M341.6 225.6h1M346.6 203.9h1M338.7 237.5h1M336.1 222.5h1M340.6 228.9h1M344.7 237.6h1M326.0 233.0h1" stroke="#000" stroke-opacity="0.27"/>
<path d="M349.0 228.3h1M316.3 222.0h1M324.3 227.5h1M315.1 206.6h1M311.4 193.4h1M328.8 220.1h1M327.4 225.6h1M326.0 220.5h1M332.3 227.2h1M331.8 228.4h1M320.9 215.3h1M343.7 222.3h1M311.7 202.2h1M344.8 215.2h1M331.9 214.6h1M309.6 198.0h1M338.0 206.5h1M326.8 230.2h1M324.6 225.3h1M315.2 221.5h1M343.9 211.9h1M333.7 215.1h1M327.5 227.0h1M324.2 233.5h1M331.8 219.2h1" stroke="#000" stroke-opacity="0.27"/>
<path d="M328.5 229.5h1M314.4 230.4h1M299.0 227.7h1M344.2 215.3h1M326.4 230.7h1M310.5 195.9h1M353.0 223.2h1M327.5 212.3h1M312.2 206.4h1M347.3 217.9h1M319.8 222.3h1M330.6 225.0h1M306.2 203.3h1M316.1 230.3h1M281.2 226.4h1M329.5 224.2h1M311.7 233.3h1M327.7 214.5h1M308.9 194.0h1M340.4 232.3h1M304.1 211.9h1M327.8 224.9h1M311.8 193.6h1M308.5 204.7h1M328.0 224.6h1" stroke="#000" stroke-opacity="0.27"/>
<path d="M320.5 223.8h1M328.5 217.0h1M345.8 225.4h1M332.3 223.0h1M339.8 224.9h1M306.6 195.9h1M304.8 204.3h1M325.2 220.5h1M314.8 226.4h1M327.8 228.5h1M303.8 201.3h1M307.5 237.5h1M343.4 226.7h1M336.2 229.5h1M334.7 224.6h1M302.3 224.5h1M325.3 229.8h1M329.8 199.3h1M326.4 223.6h1M317.4 210.1h1M353.4 238.9h1M338.2 219.8h1M320.8 207.8h1M313.6 193.8h1M326.7 238.4h1" stroke="#000" stroke-opacity="0.27"/>
<path d="M337.6 238.4h1M314.0 226.5h1M325.8 231.5h1M305.9 228.7h1M333.3 224.5h1M300.8 216.1h1M339.2 231.8h1M324.5 211.3h1M289.6 238.3h1M331.8 227.0h1M319.3 240.6h1M336.6 237.1h1M322.2 206.1h1M346.2 226.5h1M313.0 190.0h1M331.6 226.9h1M336.5 229.2h1M316.4 207.8h1M317.2 208.5h1M347.6 206.9h1M323.4 234.5h1M328.7 225.3h1M310.0 199.2h1M298.4 216.2h1M311.0 225.6h1" stroke="#000" stroke-opacity="0.27"/>
<path d="M325.8 194.1h1M328.2 240.9h1M322.3 222.2h1M337.8 223.0h1M334.6 233.5h1M332.2 222.8h1M323.7 238.6h1M329.1 221.4h1M337.8 222.7h1M336.7 211.9h1M336.5 201.8h1M337.6 225.3h1M331.8 228.2h1M314.1 223.3h1M324.0 215.8h1M312.1 212.5h1M309.6 207.7h1M307.8 189.1h1M335.2 213.7h1M321.1 229.7h1M322.1 228.0h1M317.5 232.0h1M299.2 225.6h1M321.1 232.4h1M330.3 225.0h1" stroke="#000" stroke-opacity="0.27"/>
<path d="M334.0 229.4h1M306.8 218.9h1M332.8 221.1h1M343.6 223.7h1M342.5 228.2h1M314.7 214.0h1M325.9 220.9h1M325.5 226.7h1M341.8 229.4h1M334.7 230.4h1M311.0 210.2h1M311.8 204.1h1M306.4 226.8h1M304.2 232.4h1M298.5 234.3h1M331.3 239.5h1M305.1 236.0h1M348.9 224.6h1M347.2 226.0h1M347.3 214.3h1M344.9 230.3h1M340.7 216.9h1M329.8 228.3h1M321.3 199.4h1M320.9 215.1h1" stroke="#000" stroke-opacity="0.27"/>
<path d="M306.3 224.0h1M328.7 215.9h1M310.5 202.5h1M334.2 232.2h1M320.4 226.4h1M304.6 209.6h1M309.0 189.5h1M315.2 217.5h1M322.7 220.8h1M321.1 205.5h1M310.7 201.0h1M345.8 238.4h1M339.4 239.9h1M328.4 196.3h1M310.9 203.9h1M342.9 227.7h1M308.4 211.4h1M302.0 215.7h1M337.2 231.6h1M318.8 239.9h1M305.1 211.7h1M322.2 225.4h1M317.2 211.5h1M337.3 220.5h1M331.2 233.1h1" stroke="#000" stroke-opacity="0.27"/>
<path d="M322.8 185.3h1M342.6 227.7h1M349.0 227.5h1M316.0 222.0h1M347.4 222.7h1M352.1 195.5h1M321.5 185.2h1M331.7 216.5h1M347.9 200.8h1M341.8 239.1h1M330.4 225.4h1M310.3 214.9h1M341.7 220.5h1M333.4 221.4h1M310.4 224.5h1M310.1 192.6h1M316.3 187.4h1M314.2 234.0h1M320.4 232.9h1M318.4 200.5h1M314.8 233.7h1M332.7 233.5h1M325.6 214.6h1M332.6 215.3h1M320.1 237.4h1" stroke="#000" stroke-opacity="0.27"/>
<path d="M338.0 236.2h1M341.9 220.7h1M325.4 239.3h1M325.5 234.1h1M341.5 233.7h1M295.8 238.0h1M317.6 235.4h1M308.1 200.8h1M336.1 215.8h1M346.8 220.6h1M323.7 225.5h1M342.1 222.3h1M333.2 222.1h1M305.2 214.4h1M334.7 227.3h1M313.5 195.2h1M317.5 220.1h1M316.9 200.6h1M303.6 193.8h1M312.7 199.0h1M333.8 218.1h1M315.5 216.1h1M330.5 238.9h1M318.4 188.0h1M320.4 218.7h1" stroke="#000" stroke-opacity="0.27"/>
<path d="M310.0 199.2h1M343.3 211.4h1M327.8 220.2h1M337.7 227.1h1M360.7 242.0h1M343.5 229.3h1M309.6 226.9h1M341.8 217.6h1M315.0 205.8h1M317.0 217.4h1M316.6 200.5h1M335.7 218.0h1M321.6 225.4h1M337.4 213.0h1M347.6 207.4h1M333.7 226.9h1M315.7 198.7h1M326.5 227.7h1M326.0 212.5h1M313.3 222.3h1M317.8 218.2h1M345.0 223.9h1M339.1 240.3h1M309.0 206.1h1M305.8 187.7h1" stroke="#000" stroke-opacity="0.27"/>
<path d="M334.4 227.2h1M327.7 217.2h1M339.0 224.4h1M346.6 189.2h1M293.8 219.0h1M332.7 216.0h1M299.4 202.3h1M330.9 221.3h1M335.5 233.8h1M326.9 224.2h1M314.3 202.0h1M321.9 221.8h1M307.9 222.4h1M324.8 217.8h1M308.0 202.9h1M331.1 221.4h1M341.6 213.7h1M338.2 229.5h1M300.7 231.6h1M292.1 224.3h1M294.2 233.3h1M331.0 227.1h1M348.1 228.5h1M313.5 207.9h1M327.8 221.1h1" stroke="#000" stroke-opacity="0.27"/>
<path d="M337.6 227.3h1M310.6 204.8h1M323.6 210.2h1M349.9 202.5h1M330.9 229.6h1M335.7 231.8h1M331.1 214.3h1M343.2 226.1h1M317.0 215.9h1M318.4 227.1h1M336.6 216.9h1M329.7 215.5h1M295.2 237.9h1M336.7 230.1h1M337.3 225.4h1M316.4 198.8h1M327.6 229.9h1M325.6 229.2h1M334.7 222.2h1M302.9 202.2h1M328.7 191.6h1M307.1 230.9h1M306.9 222.7h1M346.5 222.8h1M306.2 213.5h1" stroke="#000" stroke-opacity="0.27"/>
<path d="M336.9 234.0h1M342.7 216.5h1M308.8 205.0h1M326.7 236.7h1M340.8 226.7h1M345.9 220.7h1M326.5 231.1h1M321.1 227.6h1M337.3 219.2h1M314.7 204.9h1M327.2 233.2h1M315.1 194.3h1M311.6 223.8h1M331.6 226.2h1M282.0 211.2h1M332.6 213.8h1M299.3 232.3h1M339.4 210.3h1M347.8 232.9h1M348.8 220.5h1M348.5 222.8h1M325.4 215.5h1M315.2 212.5h1M308.8 204.9h1M309.1 204.2h1" stroke="#000" stroke-opacity="0.27"/>
<path d="M325.1 205.9h1M312.8 203.4h1M336.8 218.7h1M332.5 228.5h1M326.5 226.0h1M322.2 216.8h1M339.1 199.2h1M337.8 224.5h1M334.1 230.8h1M334.7 210.4h1M324.3 238.8h1M316.0 214.2h1M330.6 224.8h1M332.7 233.1h1M304.5 202.8h1M341.0 230.6h1M294.5 221.9h1M303.4 223.4h1M322.6 225.4h1M321.3 197.9h1M334.2 224.4h1M286.9 235.1h1M292.5 190.0h1M311.2 195.7h1M309.1 201.0h1" stroke="#000" stroke-opacity="0.27"/>
<path d="M326.2 228.1h1M332.3 209.5h1M301.8 215.6h1M326.4 225.3h1M323.0 234.1h1M328.5 220.8h1M313.5 229.8h1M320.4 215.4h1M317.6 235.2h1M323.9 220.3h1M335.6 221.0h1M317.0 211.1h1M295.4 211.9h1M343.0 217.6h1M299.2 211.0h1M327.7 225.9h1M315.3 199.4h1M345.3 227.8h1M321.9 235.9h1M310.4 229.7h1M288.5 239.9h1M340.1 207.7h1M311.0 205.1h1M338.7 218.7h1M338.7 237.5h1" stroke="#000" stroke-opacity="0.27"/>
<path d="M331.2 225.5h1M310.9 206.0h1M288.6 220.0h1M314.6 225.0h1M318.3 207.1h1M317.8 206.6h1M294.0 231.6h1M312.3 230.9h1M314.1 202.3h1M315.4 213.7h1M347.3 189.4h1M310.5 230.6h1M306.1 232.5h1M307.5 193.9h1M299.6 230.2h1M304.5 222.8h1M304.5 238.3h1M359.9 190.9h1M328.1 230.8h1M301.6 210.5h1M338.2 228.2h1M347.1 235.3h1M325.1 214.7h1M353.0 216.4h1M326.8 237.7h1" stroke="#000" stroke-opacity="0.27"/>
<path d="M325.0 210.1h1M334.7 210.1h1M318.3 222.7h1M330.2 227.6h1M350.0 238.7h1M325.0 202.1h1M336.2 224.4h1M301.0 212.6h1M336.1 217.1h1M310.6 233.8h1M317.7 233.9h1M330.4 232.4h1M325.5 222.9h1M336.3 226.1h1M331.9 232.4h1M339.5 222.5h1M309.8 202.6h1M346.2 205.1h1M324.3 220.6h1M348.8 234.9h1M335.9 222.2h1M331.6 221.6h1M329.1 230.6h1M348.2 214.7h1M324.4 219.3h1" stroke="#000" stroke-opacity="0.27"/>
<path d="M316.3 230.1h1M346.6 225.2h1M318.1 218.6h1M337.6 198.7h1M336.4 214.3h1M321.9 216.7h1M326.9 218.9h1M335.3 235.1h1M332.5 236.0h1M343.6 223.8h1M319.7 231.0h1M333.6 228.6h1M337.5 219.5h1M325.1 223.8h1M341.4 218.6h1M345.2 236.1h1M342.5 202.5h1M306.7 197.6h1M347.1 211.9h1M311.8 207.0h1M342.7 217.2h1M320.7 208.3h1M328.2 215.5h1M332.3 240.5h1M308.7 191.0h1" stroke="#000" stroke-opacity="0.27"/>
<path d="M323.8 229.0h1M322.4 233.0h1M320.4 229.5h1M302.7 216.8h1M338.8 222.4h1M344.3 220.7h1M316.8 208.7h1M320.7 201.4h1M343.7 202.5h1M315.5 207.2h1M317.0 231.8h1M307.7 211.8h1M311.3 205.9h1M304.2 229.8h1M336.5 221.4h1M317.8 199.4h1M309.4 199.8h1M341.5 229.0h1M323.9 228.3h1M279.8 221.5h1M302.4 215.5h1M321.1 224.3h1M346.4 220.5h1M318.2 206.8h1M326.0 219.9h1" stroke="#000" stroke-opacity="0.27"/>
<path d="M310.2 198.3h1M310.0 206.9h1M337.5 225.7h1M339.3 237.9h1M349.7 212.8h1M306.0 203.8h1M336.4 227.0h1M316.3 226.5h1M328.3 229.0h1M342.0 197.9h1M331.7 238.3h1M338.0 222.7h1M337.4 228.7h1M317.9 232.6h1M338.5 213.3h1M312.8 229.6h1M313.0 206.5h1M328.0 241.1h1M312.4 198.7h1M298.2 193.9h1M346.0 222.0h1M337.7 214.2h1M321.6 238.6h1M316.8 187.8h1M359.3 206.5h1" stroke="#000" stroke-opacity="0.27"/>
<path d="M338.9 224.3h1M341.7 225.5h1M305.3 226.3h1M316.3 229.2h1M324.3 239.2h1M329.3 228.6h1M314.2 202.0h1M333.1 231.1h1M292.8 199.3h1M318.9 215.8h1M317.7 204.7h1M325.7 202.1h1M331.2 235.2h1M338.5 234.1h1M318.5 219.1h1M308.6 204.9h1M299.1 221.0h1M323.4 224.8h1M314.5 205.6h1M285.5 225.2h1M339.6 221.9h1M360.1 189.0h1M299.2 193.8h1M308.5 198.0h1M328.7 237.7h1" stroke="#000" stroke-opacity="0.27"/>
<path d="M317.9 196.4h1M327.4 235.6h1M296.1 214.9h1M311.4 199.2h1M306.1 224.3h1M336.1 227.4h1M302.9 202.9h1M292.4 226.3h1M335.0 217.1h1M356.8 196.3h1M330.9 239.4h1M343.4 231.0h1M306.3 214.0h1M307.0 216.8h1M329.8 220.5h1M318.9 200.9h1M337.3 224.1h1M338.3 226.1h1M328.4 226.8h1M334.1 235.9h1M317.7 241.2h1M344.4 228.6h1M330.4 211.4h1M341.8 219.9h1M342.2 213.2h1" stroke="#000" stroke-opacity="0.27"/>
<path d="M318.3 202.9h1M305.6 223.2h1M321.3 242.2h1M345.8 224.2h1M296.2 240.8h1M338.4 241.1h1M327.5 238.7h1M329.5 229.7h1M343.0 221.1h1M302.7 226.8h1M341.1 215.8h1M335.4 234.7h1M313.0 235.0h1M313.7 234.5h1M311.8 210.4h1M329.9 227.4h1M306.9 221.9h1M316.2 198.2h1M317.2 220.3h1M321.4 198.6h1M320.7 194.5h1M303.3 214.9h1M318.6 207.9h1M332.0 226.5h1M323.2 226.9h1" stroke="#000" stroke-opacity="0.27"/>
<path d="M327.2 234.2h1M309.9 190.5h1M329.2 228.8h1M308.1 214.1h1M314.1 240.8h1M332.3 234.7h1M329.7 222.6h1M334.4 219.9h1M335.9 192.7h1M322.1 193.5h1M336.5 227.7h1M330.3 217.0h1M336.5 224.1h1M332.8 222.2h1M305.7 194.8h1M334.5 232.5h1M325.6 211.9h1M305.3 195.3h1M301.0 229.1h1M323.8 207.9h1M290.0 217.7h1M319.0 204.9h1M334.4 217.9h1M299.7 207.9h1M332.6 216.6h1" stroke="#000" stroke-opacity="0.27"/>
<path d="M298.7 219.0h1M350.5 228.7h1M350.3 196.8h1M315.8 198.5h1M315.9 222.0h1M287.0 223.4h1M318.7 197.3h1M292.6 235.2h1M325.6 223.5h1M322.7 203.5h1M309.2 213.1h1M311.4 203.7h1M336.0 227.3h1M309.9 211.0h1M310.8 206.8h1M314.3 206.4h1M335.8 228.8h1M334.2 184.1h1M332.2 232.7h1M318.5 207.9h1M302.5 220.5h1M313.7 235.5h1M318.1 195.9h1M335.8 230.4h1M344.4 226.3h1" stroke="#000" stroke-opacity="0.27"/>
<path d="M326.2 206.8h1M311.1 226.9h1M336.0 219.5h1M315.0 196.2h1M295.3 208.3h1M330.1 223.4h1M331.4 224.2h1M331.2 211.6h1M311.3 205.7h1M329.7 223.7h1M306.5 229.3h1M315.7 200.2h1M309.0 201.6h1M319.1 211.0h1M321.0 199.6h1M341.6 220.7h1M300.5 223.3h1M306.1 189.0h1M300.6 235.6h1M303.6 218.8h1M316.3 198.1h1M339.0 232.9h1M311.4 214.3h1M306.5 207.1h1M326.7 227.3h1" stroke="#000" stroke-opacity="0.27"/>
<path d="M311.5 201.8h1M315.6 229.0h1M310.9 191.6h1M341.5 214.9h1M295.4 222.9h1M325.8 221.6h1M317.3 227.7h1M346.4 223.8h1M337.6 228.9h1M317.0 235.6h1M324.3 217.3h1M330.8 228.1h1M306.4 221.6h1M299.0 224.4h1M332.8 219.0h1M335.0 217.1h1M332.7 210.0h1M333.3 221.4h1M329.9 231.2h1M327.3 228.9h1M321.6 227.7h1M314.6 215.5h1M316.0 204.2h1M311.7 189.2h1M335.3 236.6h1" stroke="#000" stroke-opacity="0.27"/>
<path d="M315.7 205.0h1M322.8 232.8h1M318.8 206.7h1M327.4 228.6h1M324.9 230.9h1M336.1 229.9h1M331.8 219.3h1M316.3 213.8h1M314.5 196.3h1M334.4 231.4h1M315.4 242.0h1M297.8 223.6h1M358.5 180.6h1M324.2 233.4h1M319.3 209.6h1M324.9 239.5h1M349.7 222.9h1M326.6 197.2h1M323.3 217.5h1M317.7 200.6h1M339.4 226.9h1M342.2 202.5h1M328.8 226.7h1M315.8 223.6h1M318.5 215.9h1" stroke="#000" stroke-opacity="0.27"/>
<path d="M324.0 227.4h1M299.3 230.1h1M331.5 219.6h1M326.3 226.9h1M302.6 206.8h1M312.5 200.3h1M336.6 206.4h1M323.2 223.9h1M334.5 223.0h1M314.0 199.4h1M314.5 216.7h1M336.8 210.8h1M328.1 221.6h1M296.8 198.2h1M335.4 229.8h1M320.0 196.9h1M320.6 206.9h1M331.9 220.8h1M327.4 224.6h1M334.7 216.9h1M338.8 229.7h1M336.8 222.8h1M303.0 201.2h1M331.5 235.4h1M337.7 228.0h1" stroke="#000" stroke-opacity="0.27"/>
<path d="M319.1 215.1h1M343.8 236.0h1M327.0 216.6h1M314.4 200.1h1M298.7 193.6h1M327.7 233.2h1M301.5 202.0h1M337.9 222.0h1M323.8 228.8h1M298.5 234.5h1M310.0 219.6h1M331.2 223.7h1M342.1 226.4h1M304.1 198.5h1M322.3 226.4h1M338.8 236.0h1M352.7 239.3h1M335.8 232.0h1M335.3 231.1h1M325.6 225.4h1M332.5 227.0h1M329.2 221.0h1M312.0 200.0h1M311.5 216.5h1M301.2 202.5h1" stroke="#000" stroke-opacity="0.27"/>
<path d="M313.2 220.6h1M318.4 199.7h1M331.9 229.9h1M307.0 209.1h1M333.4 216.3h1M307.5 197.9h1M323.4 219.0h1M336.3 229.1h1M306.2 198.8h1M329.4 229.4h1M285.5 224.1h1M343.6 220.2h1M302.9 203.0h1M286.2 232.4h1M338.8 232.0h1M355.5 196.8h1M317.6 225.4h1M343.8 212.8h1M319.7 233.9h1M330.7 234.1h1M351.9 204.7h1M342.4 219.4h1M330.8 224.7h1M336.5 228.3h1M330.7 224.2h1" stroke="#000" stroke-opacity="0.27"/>
<path d="M342.7 229.0h1M311.1 215.8h1M297.7 211.4h1M287.1 210.4h1M310.8 223.0h1M348.5 223.6h1M338.7 220.3h1M322.3 202.7h1M347.3 234.7h1M304.1 214.4h1M328.3 219.1h1M327.8 223.4h1M295.7 220.8h1M313.5 200.0h1M312.9 206.4h1M327.7 237.9h1M322.2 196.4h1M321.4 221.4h1M304.0 206.0h1M311.3 205.2h1M321.1 220.2h1M304.4 228.1h1M312.9 197.8h1M299.1 203.9h1M306.9 219.0h1" stroke="#000" stroke-opacity="0.27"/>
<path d="M323.6 242.2h1M329.9 224.8h1M302.0 213.4h1M308.0 224.6h1M318.5 225.5h1M296.5 232.2h1M332.6 228.2h1M307.1 211.2h1M321.5 238.5h1M303.8 228.3h1M291.0 211.8h1M312.6 192.5h1M335.6 212.8h1M335.4 223.0h1M309.4 224.8h1M332.7 221.5h1M304.1 210.3h1M320.2 214.7h1M342.7 216.6h1M304.6 199.8h1M315.0 196.4h1M295.6 205.4h1M335.2 219.1h1M324.8 238.8h1M323.0 208.3h1" stroke="#000" stroke-opacity="0.27"/>
<path d="M326.2 217.2h1M318.8 202.0h1M315.7 201.9h1M321.5 241.6h1M312.3 206.6h1M327.9 215.6h1M361.2 176.6h1M305.8 210.6h1M329.0 240.3h1M341.4 224.3h1M313.7 222.3h1M320.9 201.3h1M352.6 221.3h1M293.0 231.3h1M315.3 207.3h1M313.2 227.9h1M322.2 221.3h1M296.7 237.3h1M340.2 219.5h1M331.8 228.1h1M330.3 215.4h1M327.5 225.1h1M311.4 199.0h1M331.4 227.4h1M334.9 234.7h1" stroke="#000" stroke-opacity="0.27"/>
<path d="M340.8 222.5h1M341.6 228.1h1M305.0 210.0h1M337.8 235.5h1M313.5 223.5h1M322.5 233.1h1M340.7 215.0h1M339.2 185.5h1M332.1 209.7h1M330.0 236.1h1M313.5 212.5h1M325.2 212.4h1M342.3 216.6h1M349.1 220.6h1M326.3 224.9h1M331.2 234.6h1M336.1 213.6h1M302.8 225.9h1M343.5 195.6h1M307.1 235.3h1M332.9 216.5h1M331.7 226.4h1M330.3 228.1h1M319.8 226.4h1M321.9 211.6h1" stroke="#000" stroke-opacity="0.27"/>
<path d="M282.8 228.2h1M318.6 212.6h1M333.8 224.2h1M303.4 221.3h1M315.4 198.0h1M325.7 216.3h1M318.0 199.5h1M326.3 213.8h1M339.9 235.2h1M342.5 227.3h1M347.9 228.2h1M327.9 225.5h1M336.5 205.3h1M309.4 207.2h1M346.4 233.8h1M337.4 211.7h1M331.7 222.9h1M325.8 216.6h1M317.7 214.6h1M329.3 226.3h1M304.5 190.3h1M301.2 214.5h1M336.5 225.3h1M339.3 201.2h1M296.8 189.7h1" stroke="#000" stroke-opacity="0.27"/>
<path d="M336.8 225.5h1M306.1 215.8h1M326.5 223.3h1M330.5 209.2h1M315.3 213.2h1M347.0 230.7h1M313.2 190.8h1M332.1 205.7h1M314.7 210.8h1M307.5 226.0h1M289.5 229.3h1M301.9 201.9h1M307.6 223.1h1M334.7 219.9h1M325.6 205.2h1M338.0 221.6h1M334.1 220.3h1M334.9 222.1h1M337.5 219.7h1M306.3 223.5h1M303.7 241.2h1M330.0 215.5h1M350.3 233.7h1M307.9 211.8h1M332.3 231.8h1" stroke="#000" stroke-opacity="0.27"/>
<path d="M343.1 219.1h1M339.6 232.0h1M331.7 230.4h1M307.9 195.0h1M312.4 202.8h1M341.9 221.7h1M334.9 241.3h1M324.2 211.9h1M314.7 207.5h1M345.9 236.8h1M331.2 230.5h1M336.1 207.1h1M304.2 229.5h1M321.3 217.3h1M331.8 225.1h1M332.1 228.0h1M297.2 240.6h1M316.6 203.6h1M333.7 224.6h1M336.5 217.9h1M352.7 199.6h1M304.3 205.5h1M334.8 213.8h1M330.3 227.0h1M317.5 238.6h1" stroke="#000" stroke-opacity="0.27"/>
<path d="M316.5 181.4h1M326.6 222.9h1M323.7 235.0h1M328.0 226.7h1M333.9 227.2h1M343.1 231.8h1M332.1 228.8h1M315.0 208.6h1M315.2 228.4h1M321.5 209.4h1M311.5 197.8h1M327.4 228.5h1M329.0 228.0h1M315.6 201.6h1M305.9 207.8h1M337.8 222.6h1M344.2 233.1h1M325.4 234.8h1M305.9 196.3h1M311.1 195.4h1M323.2 219.6h1M331.9 240.5h1M298.8 214.0h1M339.0 238.3h1M335.4 223.2h1" stroke="#000" stroke-opacity="0.27"/>
<path d="M324.3 237.4h1M341.4 211.4h1M345.2 221.2h1M324.7 213.9h1M321.3 230.8h1M308.5 201.7h1M331.2 226.8h1M324.0 235.6h1M323.4 206.9h1M308.1 223.2h1M312.5 203.3h1M331.2 217.5h1M315.5 215.2h1M333.2 222.7h1M306.1 209.5h1M349.7 222.9h1M341.6 228.5h1M318.7 224.2h1M327.7 233.5h1M292.4 227.5h1M339.3 235.2h1M338.3 225.9h1M337.8 211.6h1M308.8 233.0h1M317.0 241.7h1" stroke="#000" stroke-opacity="0.27"/>
<path d="M337.7 239.2h1M326.0 234.2h1M325.8 235.6h1M342.7 233.9h1M311.3 208.9h1M340.0 218.7h1M334.1 213.3h1M316.1 204.8h1M349.3 199.8h1M324.7 217.7h1M320.4 237.6h1M307.2 199.5h1M318.1 189.6h1M327.3 218.9h1M355.2 195.1h1M326.4 223.0h1M323.1 226.9h1M315.3 208.3h1M311.8 229.5h1M329.0 228.1h1M340.5 238.0h1M284.6 223.4h1M314.9 200.5h1M303.7 221.8h1M339.3 215.9h1" stroke="#000" stroke-opacity="0.27"/>
<path d="M335.3 222.4h1M324.5 226.3h1M310.1 232.9h1M309.1 203.6h1M333.1 213.7h1M318.8 210.4h1M340.8 238.8h1M306.2 216.9h1M318.1 228.5h1M339.8 227.0h1M316.6 198.5h1M334.4 235.3h1M311.7 202.0h1M344.8 232.7h1M342.5 219.9h1M294.7 214.4h1M341.4 220.9h1M298.5 230.7h1M313.5 190.4h1M342.1 223.0h1M339.6 224.8h1M348.9 202.0h1M311.0 202.3h1M342.7 212.4h1M311.4 202.4h1" stroke="#000" stroke-opacity="0.27"/>
<path d="M330.1 216.6h1M330.4 230.2h1M307.2 195.7h1M336.6 222.8h1M336.5 225.8h1M324.9 220.5h1M332.5 230.1h1M332.4 218.3h1M345.4 230.3h1M328.4 211.4h1M314.5 240.0h1M317.6 197.9h1M334.8 212.8h1M321.4 199.9h1M310.4 235.4h1M331.7 226.4h1M292.8 225.0h1M329.5 219.4h1M319.1 229.9h1M331.3 220.1h1M316.9 225.9h1M321.6 232.6h1M334.8 234.4h1M328.7 221.7h1M350.6 232.6h1" stroke="#000" stroke-opacity="0.27"/>
<path d="M317.8 229.0h1M314.7 235.3h1M307.0 211.2h1M320.5 195.6h1M323.1 219.7h1M339.5 217.0h1M321.4 229.1h1M335.6 234.8h1M280.5 216.8h1M340.3 219.3h1M335.7 222.5h1M336.7 213.9h1M328.4 220.7h1M312.6 227.3h1M335.5 221.8h1M335.3 219.9h1M338.4 227.1h1M335.5 228.0h1M330.2 233.5h1M285.2 226.2h1M330.4 221.0h1M323.7 218.3h1M335.3 236.4h1M317.7 209.5h1M336.9 223.6h1" stroke="#000" stroke-opacity="0.27"/>
<path d="M349.4 217.0h1M317.9 198.7h1M356.2 196.7h1M323.0 206.0h1M323.5 240.1h1M323.9 223.2h1M335.5 228.9h1M310.3 223.2h1M319.9 227.7h1M339.7 223.8h1M333.9 228.8h1M304.5 241.6h1M339.5 229.3h1M348.0 196.2h1M332.2 220.7h1M311.7 200.3h1M338.4 221.8h1M342.7 209.8h1M317.9 205.6h1M334.2 221.5h1M345.4 225.3h1M313.9 196.3h1M321.3 217.3h1M308.3 202.9h1M332.3 237.6h1" stroke="#000" stroke-opacity="0.27"/>
<path d="M336.2 219.3h1M331.3 232.5h1M333.1 194.9h1M340.4 231.9h1M332.1 226.4h1M356.4 201.8h1M337.0 223.3h1M305.0 194.2h1M305.8 242.1h1M329.8 222.9h1M320.8 192.7h1M320.4 226.7h1M332.7 211.7h1M333.7 220.2h1M309.3 210.2h1M335.5 222.7h1M331.0 225.9h1M350.2 226.6h1M297.6 224.9h1M316.5 191.6h1M311.3 201.0h1M322.5 224.1h1M330.0 219.2h1M316.4 220.7h1M293.8 215.4h1" stroke="#000" stroke-opacity="0.27"/>
<path d="M332.1 221.1h1M308.2 215.9h1M308.6 200.9h1M332.6 218.4h1M321.1 225.4h1M328.4 227.2h1M331.1 213.9h1M315.8 184.2h1M304.0 200.2h1M317.8 232.0h1M311.0 200.2h1M331.2 232.0h1M330.4 226.6h1M309.8 233.0h1M315.4 213.2h1M307.3 205.8h1M341.0 228.6h1M333.8 222.5h1M338.4 221.4h1M349.0 220.1h1M334.2 215.2h1M317.1 230.1h1M346.6 221.1h1M335.6 220.6h1M344.1 220.7h1" stroke="#000" stroke-opacity="0.27"/>
<path d="M311.8 219.8h1M348.5 227.7h1M348.8 218.2h1M281.1 218.9h1M329.7 209.6h1M328.7 227.9h1M343.8 227.1h1M322.6 218.3h1M276.8 209.8h1M310.2 233.1h1M314.4 209.6h1M333.9 231.3h1M337.9 232.6h1M295.2 235.6h1M336.5 229.0h1M340.9 198.4h1M333.4 229.0h1M326.1 234.0h1M339.1 222.5h1M332.7 218.3h1M308.9 202.7h1M334.4 222.4h1M319.2 226.4h1M331.4 210.3h1M337.7 218.7h1" stroke="#000" stroke-opacity="0.27"/>
<path d="M326.7 226.4h1M322.0 228.1h1M313.3 215.1h1M336.7 229.0h1M309.1 188.5h1M326.7 231.1h1M341.3 203.9h1M342.2 210.5h1M325.5 220.6h1M302.6 224.7h1M328.5 224.9h1M313.0 198.6h1M314.5 197.5h1M325.9 227.5h1M301.7 219.1h1M313.1 197.7h1M337.7 221.3h1M335.2 221.4h1M336.4 219.3h1M306.6 228.8h1M326.4 220.1h1M344.6 212.8h1M304.3 196.6h1M338.0 229.9h1M334.9 232.1h1" stroke="#000" stroke-opacity="0.27"/>
<path d="M334.8 227.6h1M311.0 188.4h1M340.4 219.6h1M317.6 203.0h1M334.0 222.2h1M329.1 206.7h1M313.1 198.2h1M347.5 225.4h1M338.1 222.4h1M326.1 232.2h1M306.5 205.1h1M343.7 234.7h1M332.7 229.1h1M320.8 228.9h1M351.1 229.8h1M346.5 229.9h1M328.7 236.3h1M334.4 223.6h1M310.5 208.2h1M313.7 223.4h1M347.9 211.5h1M325.1 231.3h1M330.8 234.1h1M320.4 227.1h1M318.5 221.9h1" stroke="#000" stroke-opacity="0.27"/>
<path d="M312.2 207.2h1M330.4 225.7h1M337.8 216.4h1M341.8 216.8h1M321.5 239.4h1M330.6 221.7h1M311.5 192.3h1M310.8 195.4h1M334.1 223.0h1M328.0 214.4h1M311.9 203.8h1M340.6 216.8h1M331.0 220.1h1M299.3 192.1h1M308.2 208.2h1M314.8 235.3h1M321.9 225.1h1M294.4 231.7h1M341.5 224.0h1M325.3 203.9h1M328.8 219.6h1M309.3 199.6h1M326.9 236.0h1M320.5 228.7h1M331.6 238.3h1" stroke="#000" stroke-opacity="0.27"/>
<path d="M339.3 218.6h1M314.7 214.2h1M336.5 216.4h1M304.2 203.7h1M341.8 221.0h1M348.1 228.5h1M315.6 229.1h1M318.7 225.1h1M342.2 233.8h1M326.2 215.0h1M339.8 238.7h1M328.0 228.0h1M337.0 209.1h1M317.5 221.6h1M331.0 235.5h1M312.2 197.0h1M348.5 200.9h1M299.0 216.0h1M334.1 231.4h1M330.1 222.9h1M289.4 238.0h1M358.2 217.1h1M313.9 235.5h1M315.0 208.6h1M312.4 208.8h1" stroke="#000" stroke-opacity="0.27"/>
<path d="M334.4 213.9h1M344.7 222.1h1M335.2 231.2h1M334.0 223.5h1M317.8 212.5h1M338.1 220.9h1M338.9 225.3h1M335.2 225.2h1M310.8 195.5h1M336.7 219.7h1M323.9 230.2h1M329.5 227.1h1M347.2 224.4h1M346.4 187.4h1M330.2 213.1h1M329.7 226.9h1M309.6 208.5h1M316.1 228.3h1M308.2 237.3h1M316.9 235.7h1M336.4 235.5h1M310.3 223.7h1M335.5 232.8h1M351.1 224.1h1M333.8 232.6h1" stroke="#000" stroke-opacity="0.27"/>
<path d="M319.2 199.2h1M317.7 224.3h1M332.5 237.4h1M343.1 222.9h1M346.1 221.9h1M330.5 233.1h1M322.4 207.3h1M300.7 226.8h1M312.2 203.1h1M346.0 226.3h1M338.6 223.1h1M318.7 225.0h1M318.9 217.2h1M349.5 212.9h1M292.8 240.2h1M306.8 213.7h1M316.7 218.5h1M310.5 195.2h1M333.1 214.7h1M309.6 194.7h1M310.1 206.7h1M316.1 194.7h1M336.1 223.2h1M316.6 212.0h1M302.4 227.8h1" stroke="#000" stroke-opacity="0.27"/>
<path d="M335.9 228.0h1M315.2 208.3h1M308.8 213.8h1M344.5 232.0h1M288.1 223.7h1M313.9 193.1h1M327.9 224.1h1M314.1 199.9h1M337.6 220.2h1M317.4 199.0h1M345.4 228.8h1M343.3 223.0h1M329.3 224.1h1M326.8 230.3h1M331.4 229.4h1M343.5 199.9h1M337.3 227.7h1M327.2 223.7h1M325.1 194.9h1M325.6 235.0h1M326.8 222.0h1M299.2 214.9h1M353.6 218.0h1M311.6 198.7h1M340.8 226.9h1" stroke="#000" stroke-opacity="0.27"/>
<path d="M347.5 210.9h1M317.2 226.1h1M324.7 223.1h1M324.8 206.1h1M286.3 225.4h1M324.2 225.1h1M343.7 228.2h1M312.9 195.7h1M300.8 202.0h1M298.4 214.0h1M289.2 199.5h1M331.8 235.6h1M304.5 197.8h1M299.7 226.3h1M338.4 227.1h1M340.1 221.8h1M340.7 220.4h1M332.7 236.5h1M334.1 227.4h1M312.6 189.2h1M293.4 231.3h1M336.4 217.8h1M330.9 221.9h1M320.6 226.0h1M325.0 213.5h1" stroke="#000" stroke-opacity="0.27"/>
<path d="M337.4 235.7h1M318.4 203.4h1M327.5 219.0h1M303.4 195.0h1M330.8 219.6h1M354.7 194.5h1M328.2 225.6h1M323.4 221.2h1M337.3 207.0h1M328.2 219.5h1M325.9 216.5h1M336.2 208.6h1M328.6 205.2h1M318.8 226.8h1M295.5 241.0h1M330.4 233.7h1M321.2 221.0h1M329.4 232.8h1M356.2 198.2h1M317.4 200.9h1M340.2 232.4h1M339.1 219.8h1M346.6 232.2h1M339.3 221.3h1M312.5 207.0h1" stroke="#000" stroke-opacity="0.27"/>
<path d="M329.3 206.6h1M300.8 195.9h1M335.1 201.8h1M332.0 227.4h1M315.6 194.2h1M319.7 210.6h1M302.0 212.4h1M333.5 211.4h1M335.0 225.0h1M310.2 213.0h1M306.9 227.4h1M321.6 204.7h1M320.8 230.8h1M307.5 219.0h1M330.3 229.7h1M298.4 198.8h1M320.8 217.8h1" stroke="#000" stroke-opacity="0.27"/>
<rect x="293.3" y="187.3" width="31.399999999999977" height="24.0" fill="none" stroke="#555" stroke-width="1.0"/>
<rect x="319.2" y="211.3" width="34.19999999999999" height="31.899999999999977" fill="none" stroke="#555" stroke-width="1.0"/>
<rect x="273.3" y="157" width="89.89999999999998" height="86.5" fill="none" stroke="#555" stroke-width="1.0"/>
<line x1="272.8" y1="243.5" x2="363.2" y2="243.5" stroke="#333" stroke-width="1.2"/>
<line x1="273.3" y1="157" x2="273.3" y2="244.0" stroke="#444" stroke-width="1.1"/>
<line x1="272.3" y1="171.21956991761564" x2="273.3" y2="171.21956991761564" stroke="#666" stroke-width="0.8"/>
<line x1="272.3" y1="174.5653038396736" x2="273.3" y2="174.5653038396736" stroke="#666" stroke-width="0.8"/>
<line x1="272.3" y1="176.9391398352313" x2="273.3" y2="176.9391398352313" stroke="#666" stroke-width="0.8"/>
<line x1="272.3" y1="178.78043008238436" x2="273.3" y2="178.78043008238436" stroke="#666" stroke-width="0.8"/>
<line x1="272.3" y1="180.28487375728923" x2="273.3" y2="180.28487375728923" stroke="#666" stroke-width="0.8"/>
<line x1="272.3" y1="181.5568627602709" x2="273.3" y2="181.5568627602709" stroke="#666" stroke-width="0.8"/>
<line x1="272.3" y1="182.65870975284693" x2="273.3" y2="182.65870975284693" stroke="#666" stroke-width="0.8"/>
<line x1="272.3" y1="183.63060767934718" x2="273.3" y2="183.63060767934718" stroke="#666" stroke-width="0.8"/>
<line x1="272.3" y1="190.31956991761564" x2="273.3" y2="190.31956991761564" stroke="#666" stroke-width="0.8"/>
<line x1="272.3" y1="193.66530383967358" x2="273.3" y2="193.66530383967358" stroke="#666" stroke-width="0.8"/>
<line x1="272.3" y1="196.03913983523128" x2="273.3" y2="196.03913983523128" stroke="#666" stroke-width="0.8"/>
<line x1="272.3" y1="197.88043008238435" x2="273.3" y2="197.88043008238435" stroke="#666" stroke-width="0.8"/>
<line x1="272.3" y1="199.38487375728923" x2="273.3" y2="199.38487375728923" stroke="#666" stroke-width="0.8"/>
<line x1="272.3" y1="200.65686276027088" x2="273.3" y2="200.65686276027088" stroke="#666" stroke-width="0.8"/>
<line x1="272.3" y1="201.75870975284693" x2="273.3" y2="201.75870975284693" stroke="#666" stroke-width="0.8"/>
<line x1="272.3" y1="202.73060767934717" x2="273.3" y2="202.73060767934717" stroke="#666" stroke-width="0.8"/>
<line x1="272.3" y1="209.21956991761564" x2="273.3" y2="209.21956991761564" stroke="#666" stroke-width="0.8"/>
<line x1="272.3" y1="212.5653038396736" x2="273.3" y2="212.5653038396736" stroke="#666" stroke-width="0.8"/>
<line x1="272.3" y1="214.9391398352313" x2="273.3" y2="214.9391398352313" stroke="#666" stroke-width="0.8"/>
<line x1="272.3" y1="216.78043008238436" x2="273.3" y2="216.78043008238436" stroke="#666" stroke-width="0.8"/>
<line x1="272.3" y1="218.28487375728923" x2="273.3" y2="218.28487375728923" stroke="#666" stroke-width="0.8"/>
<line x1="272.3" y1="219.5568627602709" x2="273.3" y2="219.5568627602709" stroke="#666" stroke-width="0.8"/>
<line x1="272.3" y1="220.65870975284693" x2="273.3" y2="220.65870975284693" stroke="#666" stroke-width="0.8"/>
<line x1="272.3" y1="221.63060767934718" x2="273.3" y2="221.63060767934718" stroke="#666" stroke-width="0.8"/>
<line x1="272.3" y1="231.31956991761564" x2="273.3" y2="231.31956991761564" stroke="#666" stroke-width="0.8"/>
<line x1="272.3" y1="234.66530383967358" x2="273.3" y2="234.66530383967358" stroke="#666" stroke-width="0.8"/>
<line x1="272.3" y1="237.03913983523128" x2="273.3" y2="237.03913983523128" stroke="#666" stroke-width="0.8"/>
<line x1="272.3" y1="238.88043008238435" x2="273.3" y2="238.88043008238435" stroke="#666" stroke-width="0.8"/>
<line x1="272.3" y1="240.38487375728923" x2="273.3" y2="240.38487375728923" stroke="#666" stroke-width="0.8"/>
<line x1="279.40000000000003" y1="243.5" x2="279.40000000000003" y2="245.3" stroke="#333" stroke-width="1.0"/>
<line x1="292.6" y1="243.5" x2="292.6" y2="245.3" stroke="#333" stroke-width="1.0"/>
<line x1="314.6" y1="243.5" x2="314.6" y2="245.3" stroke="#333" stroke-width="1.0"/>
<line x1="335.5" y1="243.5" x2="335.5" y2="245.3" stroke="#333" stroke-width="1.0"/>
<line x1="355.6" y1="243.5" x2="355.6" y2="245.3" stroke="#333" stroke-width="1.0"/>
<text x="265.7" y="169.6" font-size="6.0" stroke="#000" stroke-width="0.32" text-anchor="end" fill="#000" >10</text>
<text x="266.0" y="165.0" font-size="5.6" stroke="#000" stroke-width="0.32" text-anchor="start" fill="#000" >5</text>
<line x1="271.5" y1="166.2" x2="273.3" y2="166.2" stroke="#333" stroke-width="1"/>
<text x="265.7" y="188.7" font-size="6.0" stroke="#000" stroke-width="0.32" text-anchor="end" fill="#000" >10</text>
<text x="266.0" y="184.1" font-size="5.6" stroke="#000" stroke-width="0.32" text-anchor="start" fill="#000" >4</text>
<line x1="271.5" y1="185.29999999999998" x2="273.3" y2="185.29999999999998" stroke="#333" stroke-width="1"/>
<text x="265.7" y="207.6" font-size="6.0" stroke="#000" stroke-width="0.32" text-anchor="end" fill="#000" >10</text>
<text x="266.0" y="203.0" font-size="5.6" stroke="#000" stroke-width="0.32" text-anchor="start" fill="#000" >3</text>
<line x1="271.5" y1="204.2" x2="273.3" y2="204.2" stroke="#333" stroke-width="1"/>
<text x="265.7" y="229.7" font-size="6.0" stroke="#000" stroke-width="0.32" text-anchor="end" fill="#000" >10</text>
<text x="266.0" y="225.1" font-size="5.6" stroke="#000" stroke-width="0.32" text-anchor="start" fill="#000" >2</text>
<line x1="271.5" y1="226.29999999999998" x2="273.3" y2="226.29999999999998" stroke="#333" stroke-width="1"/>
<text x="266.40000000000003" y="238.2" font-size="6.0" stroke="#000" stroke-width="0.32" text-anchor="end" fill="#000" >0</text>
<line x1="271.5" y1="234.4" x2="273.3" y2="234.4" stroke="#222" stroke-width="1.2"/>
<text x="279.40000000000003" y="259.1" font-size="6.0" stroke="#000" stroke-width="0.32" text-anchor="middle" fill="#000" >0</text>
<text x="289.59999999999997" y="259.1" font-size="6.0" stroke="#000" stroke-width="0.32" text-anchor="start" fill="#000" >10</text>
<text x="296.3" y="254.00000000000003" font-size="5.6" stroke="#000" stroke-width="0.32" text-anchor="start" fill="#000" >2</text>
<text x="311.8" y="259.1" font-size="6.0" stroke="#000" stroke-width="0.32" text-anchor="start" fill="#000" >10</text>
<text x="318.50000000000006" y="254.00000000000003" font-size="5.6" stroke="#000" stroke-width="0.32" text-anchor="start" fill="#000" >3</text>
<text x="332.3" y="259.1" font-size="6.0" stroke="#000" stroke-width="0.32" text-anchor="start" fill="#000" >10</text>
<text x="339.00000000000006" y="254.00000000000003" font-size="5.6" stroke="#000" stroke-width="0.32" text-anchor="start" fill="#000" >4</text>
<text x="352.4" y="259.1" font-size="6.0" stroke="#000" stroke-width="0.32" text-anchor="start" fill="#000" >10</text>
<text x="359.1" y="254.00000000000003" font-size="5.6" stroke="#000" stroke-width="0.32" text-anchor="start" fill="#000" >5</text>
<text x="300.4" y="176.60000000000002" font-size="6.35" font-weight="bold" stroke="#000" stroke-width="0.25" text-anchor="start" fill="#000" >21.2%</text>
<text x="344.0" y="203.0" font-size="6.35" font-weight="bold" stroke="#000" stroke-width="0.25" text-anchor="start" fill="#000" >54.9%</text>
<line x1="17" y1="17.0" x2="17" y2="76.3" stroke="#444" stroke-width="1.2"/>
<path d="M15.7 18.7L17 15.5L18.3 18.7z" fill="#000"/>
<line x1="69.4" y1="126.5" x2="349" y2="126.5" stroke="#111" stroke-width="1.2"/>
<path d="M347.2 125.1L351 126.5L347.2 127.9z" fill="#000"/>
<text transform="translate(21,99.1) rotate(-90)" font-size="10.5" font-weight="bold" stroke="#000" stroke-width="0.2" text-anchor="middle">CD103</text>
<text x="26" y="128.2" font-size="10.5" font-weight="bold" stroke="#000" stroke-width="0.2" text-anchor="start" fill="#000" >CD11b</text>
<line x1="17" y1="162.9" x2="17" y2="222.5" stroke="#444" stroke-width="1.2"/>
<path d="M15.7 164.6L17 161.4L18.3 164.6z" fill="#000"/>
<line x1="69" y1="268.2" x2="349" y2="268.2" stroke="#111" stroke-width="1.2"/>
<path d="M347.2 266.8L351 268.2L347.2 269.59999999999997z" fill="#000"/>
<text transform="translate(21,245.6) rotate(-90)" font-size="10.5" font-weight="bold" stroke="#000" stroke-width="0.2" text-anchor="middle">CD103</text>
<text x="26" y="269.5" font-size="10.5" font-weight="bold" stroke="#000" stroke-width="0.2" text-anchor="start" fill="#000" >CD11b</text>
<text x="48.1" y="10.6" font-size="10.6" font-weight="bold" stroke="#000" stroke-width="0.25" text-anchor="start" fill="#000" >Naive Lung</text>
<text x="163.5" y="10.6" font-size="10.6" font-weight="bold" stroke="#000" stroke-width="0.25" text-anchor="start" fill="#000" >WT lung RSV</text>
<text x="278.5" y="10.6" font-size="10.6" font-weight="bold" stroke="#000" stroke-width="0.25" text-anchor="start" fill="#000" >Bec+/- lung RSV</text>
<text x="48.1" y="149.5" font-size="10.6" font-weight="bold" stroke="#000" stroke-width="0.25" text-anchor="start" fill="#000" >Naive LDLN</text>
<text x="165" y="149.7" font-size="10.6" font-weight="bold" stroke="#000" stroke-width="0.25" text-anchor="start" fill="#000" >WT LDLN RSV</text>
<text x="278.9" y="149.8" font-size="10.6" font-weight="bold" stroke="#000" stroke-width="0.25" text-anchor="start" fill="#000" >Bec+/- LDLN RSV</text>
<text x="0.8" y="9.8" font-size="12" stroke="#000" stroke-width="0.25" text-anchor="start" fill="#000" >A</text>
<text x="382" y="9.2" font-size="12" stroke="#000" stroke-width="0.25" text-anchor="start" fill="#000" >B</text>
<text x="0.3" y="148.7" font-size="12" stroke="#000" stroke-width="0.25" text-anchor="start" fill="#000" >C</text>
<text x="380" y="148.8" font-size="12" stroke="#000" stroke-width="0.25" text-anchor="start" fill="#000" >D</text>
<text x="4" y="298.4" font-size="12" stroke="#000" stroke-width="0.25" text-anchor="start" fill="#000" >E</text>
<text x="113.6" y="298.4" font-size="12" stroke="#000" stroke-width="0.25" text-anchor="start" fill="#000" >F</text>
<text x="237.5" y="298.5" font-size="12" stroke="#000" stroke-width="0.25" text-anchor="start" fill="#000" >G</text>
<text x="368.3" y="298.5" font-size="12.6" stroke="#000" stroke-width="0.6" text-anchor="start" fill="#000" >H</text>
<line x1="425.1" y1="10.9" x2="425.1" y2="99.2" stroke="#000" stroke-width="1.4"/>
<line x1="424.40000000000003" y1="98.5" x2="501.5" y2="98.5" stroke="#000" stroke-width="1.4"/>
<line x1="422.1" y1="11.5" x2="425.1" y2="11.5" stroke="#000" stroke-width="1.2"/>
<line x1="422.1" y1="33.25" x2="425.1" y2="33.25" stroke="#000" stroke-width="1.2"/>
<line x1="422.1" y1="55.0" x2="425.1" y2="55.0" stroke="#000" stroke-width="1.2"/>
<line x1="422.1" y1="76.75" x2="425.1" y2="76.75" stroke="#000" stroke-width="1.2"/>
<line x1="422.1" y1="98.5" x2="425.1" y2="98.5" stroke="#000" stroke-width="1.2"/>
<text x="417.0072" y="14.5" font-size="6.5" stroke="#000" stroke-width="0.2" text-anchor="end" fill="#000" >4×10</text>
<text x="417.2072" y="11.25" font-size="4.4" stroke="#000" stroke-width="0.15" text-anchor="start" fill="#000" >05</text>
<text x="417.0072" y="36.25" font-size="6.5" stroke="#000" stroke-width="0.2" text-anchor="end" fill="#000" >3×10</text>
<text x="417.2072" y="33.0" font-size="4.4" stroke="#000" stroke-width="0.15" text-anchor="start" fill="#000" >05</text>
<text x="417.0072" y="58.0" font-size="6.5" stroke="#000" stroke-width="0.2" text-anchor="end" fill="#000" >2×10</text>
<text x="417.2072" y="54.75" font-size="4.4" stroke="#000" stroke-width="0.15" text-anchor="start" fill="#000" >05</text>
<text x="417.0072" y="79.75" font-size="6.5" stroke="#000" stroke-width="0.2" text-anchor="end" fill="#000" >1×10</text>
<text x="417.2072" y="76.5" font-size="4.4" stroke="#000" stroke-width="0.15" text-anchor="start" fill="#000" >05</text>
<text x="421.90000000000003" y="101.5" font-size="6.5" stroke="#000" stroke-width="0.2" text-anchor="end" fill="#000" >0</text>
<line x1="437.35" y1="55.7" x2="437.35" y2="64" stroke="#000" stroke-width="1.0"/>
<line x1="434.675" y1="55.7" x2="440.02500000000003" y2="55.7" stroke="#000" stroke-width="1.3"/>
<rect x="432.65" y="64.65" width="9.399999999999988" height="33.85" fill="#fff" stroke="#000" stroke-width="1.3"/>
<line x1="451.75" y1="24.7" x2="451.75" y2="32.3" stroke="#000" stroke-width="1.0"/>
<line x1="449.125" y1="24.7" x2="454.375" y2="24.7" stroke="#000" stroke-width="1.3"/>
<rect x="447.15" y="32.949999999999996" width="9.2" height="65.55" fill="#666" stroke="#000" stroke-width="1.3"/>
<line x1="476.3" y1="83.7" x2="476.3" y2="85.8" stroke="#000" stroke-width="1.0"/>
<line x1="473.65" y1="83.7" x2="478.95000000000005" y2="83.7" stroke="#000" stroke-width="1.3"/>
<rect x="471.65" y="86.45" width="9.300000000000022" height="12.050000000000002" fill="#fff" stroke="#000" stroke-width="1.3"/>
<line x1="490.7" y1="80" x2="490.7" y2="82.2" stroke="#000" stroke-width="1.0"/>
<line x1="488.04999999999995" y1="80" x2="493.35" y2="80" stroke="#000" stroke-width="1.3"/>
<rect x="486.04999999999995" y="82.85000000000001" width="9.300000000000022" height="15.649999999999997" fill="#666" stroke="#000" stroke-width="1.3"/>
<line x1="444.4" y1="98.5" x2="444.4" y2="101.1" stroke="#000" stroke-width="1.2"/>
<line x1="483.3" y1="98.5" x2="483.3" y2="101.1" stroke="#000" stroke-width="1.2"/>
<line x1="437.3" y1="19" x2="451.5" y2="19" stroke="#000" stroke-width="1.3"/>
<text x="444.4" y="18.4025" font-size="6.9" font-weight="bold" stroke="#000" stroke-width="0.3" text-anchor="middle" fill="#000" >**</text>
<rect x="468.2" y="15.1" width="9.299999999999999" height="5.5" fill="#fff" stroke="#000" stroke-width="1.4"/>
<rect x="468.2" y="25.5" width="9.299999999999999" height="5.5" fill="#666" stroke="#000" stroke-width="1.4"/>
<text x="482.3" y="20.150000000000002" font-size="6.7" stroke="#000" stroke-width="0.25" text-anchor="start" fill="#000" >WT RSV</text>
<text x="482.3" y="30.55" font-size="6.7" stroke="#000" stroke-width="0.25" text-anchor="start" fill="#000" >Bec +/- RSV</text>
<text x="443.9" y="111.3" font-size="9.5" font-weight="bold" stroke="#000" stroke-width="0.12" text-anchor="middle" fill="#000" >CD11b+</text>
<text x="444.2" y="120.0" font-size="9.5" font-weight="bold" stroke="#000" stroke-width="0.12" text-anchor="middle" fill="#000" >DC</text>
<text x="483" y="111.3" font-size="9.5" font-weight="bold" stroke="#000" stroke-width="0.12" text-anchor="middle" fill="#000" >CD103+</text>
<text x="483" y="120.0" font-size="9.5" font-weight="bold" stroke="#000" stroke-width="0.12" text-anchor="middle" fill="#000" >DC</text>
<text transform="translate(393.2,53.8) rotate(-90)" font-size="6.75" font-weight="bold" stroke="#000" stroke-width="0.15" text-anchor="middle">Cells per Right Lung</text>
<line x1="420.6" y1="149.9" x2="420.6" y2="250.2" stroke="#000" stroke-width="1.4"/>
<line x1="419.90000000000003" y1="249.5" x2="512" y2="249.5" stroke="#000" stroke-width="1.4"/>
<line x1="417.6" y1="150.5" x2="420.6" y2="150.5" stroke="#000" stroke-width="1.2"/>
<line x1="417.6" y1="175.25" x2="420.6" y2="175.25" stroke="#000" stroke-width="1.2"/>
<line x1="417.6" y1="200.0" x2="420.6" y2="200.0" stroke="#000" stroke-width="1.2"/>
<line x1="417.6" y1="224.75" x2="420.6" y2="224.75" stroke="#000" stroke-width="1.2"/>
<line x1="417.6" y1="249.5" x2="420.6" y2="249.5" stroke="#000" stroke-width="1.2"/>
<text x="413.6632000000001" y="152.7" font-size="5.5" stroke="#000" stroke-width="0.2" text-anchor="end" fill="#000" >4×10</text>
<text x="413.86320000000006" y="149.95" font-size="3.9" stroke="#000" stroke-width="0.15" text-anchor="start" fill="#000" >04</text>
<text x="413.6632000000001" y="177.45" font-size="5.5" stroke="#000" stroke-width="0.2" text-anchor="end" fill="#000" >3×10</text>
<text x="413.86320000000006" y="174.7" font-size="3.9" stroke="#000" stroke-width="0.15" text-anchor="start" fill="#000" >04</text>
<text x="413.6632000000001" y="202.2" font-size="5.5" stroke="#000" stroke-width="0.2" text-anchor="end" fill="#000" >2×10</text>
<text x="413.86320000000006" y="199.45" font-size="3.9" stroke="#000" stroke-width="0.15" text-anchor="start" fill="#000" >04</text>
<text x="413.6632000000001" y="226.95" font-size="5.5" stroke="#000" stroke-width="0.2" text-anchor="end" fill="#000" >1×10</text>
<text x="413.86320000000006" y="224.2" font-size="3.9" stroke="#000" stroke-width="0.15" text-anchor="start" fill="#000" >04</text>
<text x="417.40000000000003" y="251.7" font-size="5.5" stroke="#000" stroke-width="0.2" text-anchor="end" fill="#000" >0</text>
<line x1="435.20000000000005" y1="199.3" x2="435.20000000000005" y2="203.8" stroke="#000" stroke-width="1.0"/>
<line x1="432.25000000000006" y1="199.3" x2="438.15000000000003" y2="199.3" stroke="#000" stroke-width="1.3"/>
<rect x="429.95" y="204.45000000000002" width="10.50000000000001" height="45.04999999999999" fill="#fff" stroke="#000" stroke-width="1.3"/>
<line x1="452.1" y1="158.4" x2="452.1" y2="166.6" stroke="#000" stroke-width="1.0"/>
<line x1="449.15000000000003" y1="158.4" x2="455.05" y2="158.4" stroke="#000" stroke-width="1.3"/>
<rect x="446.84999999999997" y="167.25" width="10.50000000000001" height="82.25" fill="#5f5f5f" stroke="#000" stroke-width="1.3"/>
<line x1="480.6" y1="224.5" x2="480.6" y2="227.4" stroke="#000" stroke-width="1.0"/>
<line x1="477.6" y1="224.5" x2="483.6" y2="224.5" stroke="#000" stroke-width="1.3"/>
<rect x="475.25" y="228.05" width="10.7" height="21.449999999999996" fill="#fff" stroke="#000" stroke-width="1.3"/>
<line x1="497.0" y1="213.7" x2="497.0" y2="215.9" stroke="#000" stroke-width="1.0"/>
<line x1="494.0" y1="213.7" x2="500.0" y2="213.7" stroke="#000" stroke-width="1.3"/>
<rect x="491.65" y="216.55" width="10.7" height="32.949999999999996" fill="#5f5f5f" stroke="#000" stroke-width="1.3"/>
<line x1="443.4" y1="249.5" x2="443.4" y2="252.1" stroke="#000" stroke-width="1.2"/>
<line x1="489" y1="249.5" x2="489" y2="252.1" stroke="#000" stroke-width="1.2"/>
<line x1="434.5" y1="154.5" x2="452.4" y2="154.5" stroke="#000" stroke-width="1.3"/>
<text x="443.45" y="153.342" font-size="5.5200000000000005" font-weight="bold" stroke="#000" stroke-width="0.3" text-anchor="middle" fill="#000" >**</text>
<line x1="479.2" y1="206.4" x2="498" y2="206.4" stroke="#000" stroke-width="1.3"/>
<text x="488.6" y="205.842" font-size="5.5200000000000005" font-weight="bold" stroke="#000" stroke-width="0.3" text-anchor="middle" fill="#000" >**</text>
<rect x="468.5" y="148.0" width="9.299999999999999" height="5.5" fill="#fff" stroke="#000" stroke-width="1.4"/>
<rect x="468.5" y="157.89999999999998" width="9.299999999999999" height="5.5" fill="#5f5f5f" stroke="#000" stroke-width="1.4"/>
<text x="482.5" y="153.05" font-size="6.7" stroke="#000" stroke-width="0.25" text-anchor="start" fill="#000" >WT RSV</text>
<text x="482.5" y="162.95" font-size="6.7" stroke="#000" stroke-width="0.25" text-anchor="start" fill="#000" >Bec +/- RSV</text>
<text x="444" y="261.0" font-size="9.5" font-weight="bold" stroke="#000" stroke-width="0.12" text-anchor="middle" fill="#000" >CD11b+</text>
<text x="444.2" y="269.9" font-size="9.5" font-weight="bold" stroke="#000" stroke-width="0.12" text-anchor="middle" fill="#000" >DC</text>
<text x="490.6" y="261.0" font-size="9.5" font-weight="bold" stroke="#000" stroke-width="0.12" text-anchor="middle" fill="#000" >CD103+</text>
<text x="490.4" y="269.9" font-size="9.5" font-weight="bold" stroke="#000" stroke-width="0.12" text-anchor="middle" fill="#000" >DC</text>
<text transform="translate(394.5,194.2) rotate(-90)" font-size="7.1" font-weight="bold" stroke="#000" stroke-width="0.15" text-anchor="middle">LDLN cells per mouse</text>
<line x1="53.6" y1="306.79999999999995" x2="53.6" y2="402.09999999999997" stroke="#000" stroke-width="1.4"/>
<line x1="52.9" y1="401.4" x2="101.4" y2="401.4" stroke="#000" stroke-width="1.4"/>
<line x1="50.6" y1="307.4" x2="53.6" y2="307.4" stroke="#000" stroke-width="1.2"/>
<line x1="50.6" y1="338.7333333333333" x2="53.6" y2="338.7333333333333" stroke="#000" stroke-width="1.2"/>
<line x1="50.6" y1="370.06666666666666" x2="53.6" y2="370.06666666666666" stroke="#000" stroke-width="1.2"/>
<line x1="50.6" y1="401.4" x2="53.6" y2="401.4" stroke="#000" stroke-width="1.2"/>
<text x="48.0536" y="310.09999999999997" font-size="6.5" stroke="#000" stroke-width="0.2" text-anchor="end" fill="#000" >1.5×10</text>
<text x="48.253600000000006" y="306.84999999999997" font-size="4.4" stroke="#000" stroke-width="0.15" text-anchor="start" fill="#000" >6</text>
<text x="48.0536" y="341.4333333333333" font-size="6.5" stroke="#000" stroke-width="0.2" text-anchor="end" fill="#000" >1.0×10</text>
<text x="48.253600000000006" y="338.1833333333333" font-size="4.4" stroke="#000" stroke-width="0.15" text-anchor="start" fill="#000" >6</text>
<text x="48.0536" y="372.76666666666665" font-size="6.5" stroke="#000" stroke-width="0.2" text-anchor="end" fill="#000" >5.0×10</text>
<text x="48.253600000000006" y="369.51666666666665" font-size="4.4" stroke="#000" stroke-width="0.15" text-anchor="start" fill="#000" >5</text>
<text x="50.4" y="404.09999999999997" font-size="6.5" stroke="#000" stroke-width="0.2" text-anchor="end" fill="#000" >0.0</text>
<line x1="66.3" y1="342.4" x2="66.3" y2="346.2" stroke="#000" stroke-width="1.0"/>
<line x1="62.15" y1="342.4" x2="70.44999999999999" y2="342.4" stroke="#000" stroke-width="1.3"/>
<rect x="58.65" y="346.84999999999997" width="15.299999999999994" height="54.54999999999999" fill="#fff" stroke="#000" stroke-width="1.3"/>
<line x1="89.44999999999999" y1="324.3" x2="89.44999999999999" y2="330.2" stroke="#000" stroke-width="1.0"/>
<line x1="85.37499999999999" y1="324.3" x2="93.52499999999999" y2="324.3" stroke="#000" stroke-width="1.3"/>
<rect x="81.95" y="330.84999999999997" width="14.999999999999996" height="70.54999999999998" fill="#4e4e4e" stroke="#000" stroke-width="1.3"/>
<line x1="65.6" y1="401.4" x2="65.6" y2="404.0" stroke="#000" stroke-width="1.2"/>
<line x1="89.7" y1="401.4" x2="89.7" y2="404.0" stroke="#000" stroke-width="1.2"/>
<line x1="67.2" y1="317.6" x2="89.6" y2="317.6" stroke="#000" stroke-width="1.3"/>
<text x="78.4" y="315.3476" font-size="6.256" font-weight="bold" stroke="#000" stroke-width="0.3" text-anchor="middle" fill="#000" >**</text>
<text x="56.2" y="414.3" font-size="8.7" font-weight="bold" stroke="#000" stroke-width="0.12" text-anchor="start" fill="#000" >WT</text>
<text x="77.4" y="414.3" font-size="8.7" font-weight="bold" stroke="#000" stroke-width="0.12" text-anchor="start" fill="#000" >Bec</text>
<text x="97.5" y="414.3" font-size="8.7" font-weight="bold" stroke="#000" stroke-width="0.12" text-anchor="start" fill="#000" >+/-</text>
<text transform="translate(21.8,353.8) rotate(-90)" font-size="7.26" font-weight="bold" stroke="#000" stroke-width="0.15" text-anchor="middle">CD45+ Cells per Right Lung</text>
<line x1="163.1" y1="303.7" x2="163.1" y2="402.0" stroke="#000" stroke-width="1.4"/>
<line x1="162.4" y1="401.3" x2="214.2" y2="401.3" stroke="#000" stroke-width="1.4"/>
<line x1="160.1" y1="304.3" x2="163.1" y2="304.3" stroke="#000" stroke-width="1.2"/>
<line x1="160.1" y1="328.55" x2="163.1" y2="328.55" stroke="#000" stroke-width="1.2"/>
<line x1="160.1" y1="352.8" x2="163.1" y2="352.8" stroke="#000" stroke-width="1.2"/>
<line x1="160.1" y1="377.05" x2="163.1" y2="377.05" stroke="#000" stroke-width="1.2"/>
<line x1="160.1" y1="401.3" x2="163.1" y2="401.3" stroke="#000" stroke-width="1.2"/>
<text x="156.4312" y="307.5" font-size="7.0" stroke="#000" stroke-width="0.2" text-anchor="end" fill="#000" >4×10</text>
<text x="156.63119999999998" y="304.0" font-size="4.8" stroke="#000" stroke-width="0.15" text-anchor="start" fill="#000" >5</text>
<text x="156.4312" y="331.75" font-size="7.0" stroke="#000" stroke-width="0.2" text-anchor="end" fill="#000" >3×10</text>
<text x="156.63119999999998" y="328.25" font-size="4.8" stroke="#000" stroke-width="0.15" text-anchor="start" fill="#000" >5</text>
<text x="156.4312" y="356.0" font-size="7.0" stroke="#000" stroke-width="0.2" text-anchor="end" fill="#000" >2×10</text>
<text x="156.63119999999998" y="352.5" font-size="4.8" stroke="#000" stroke-width="0.15" text-anchor="start" fill="#000" >5</text>
<text x="156.4312" y="380.25" font-size="7.0" stroke="#000" stroke-width="0.2" text-anchor="end" fill="#000" >1×10</text>
<text x="156.63119999999998" y="376.75" font-size="4.8" stroke="#000" stroke-width="0.15" text-anchor="start" fill="#000" >5</text>
<text x="159.9" y="404.5" font-size="7.0" stroke="#000" stroke-width="0.2" text-anchor="end" fill="#000" >0</text>
<line x1="176.1" y1="347" x2="176.1" y2="359.8" stroke="#000" stroke-width="1.0"/>
<line x1="171.64999999999998" y1="347" x2="180.55" y2="347" stroke="#000" stroke-width="1.3"/>
<rect x="167.85" y="360.45" width="16.50000000000001" height="40.85" fill="#fff" stroke="#000" stroke-width="1.3"/>
<line x1="201.89999999999998" y1="326.2" x2="201.89999999999998" y2="336.5" stroke="#000" stroke-width="1.0"/>
<line x1="197.49999999999997" y1="326.2" x2="206.29999999999998" y2="326.2" stroke="#000" stroke-width="1.3"/>
<rect x="193.75" y="337.15" width="16.299999999999994" height="64.15" fill="#4f4f4f" stroke="#000" stroke-width="1.3"/>
<line x1="176.3" y1="401.3" x2="176.3" y2="403.90000000000003" stroke="#000" stroke-width="1.2"/>
<line x1="202" y1="401.3" x2="202" y2="403.90000000000003" stroke="#000" stroke-width="1.2"/>
<line x1="177.7" y1="319" x2="201.1" y2="319" stroke="#000" stroke-width="1.3"/>
<text x="189.39999999999998" y="316.04760000000005" font-size="6.256" font-weight="bold" stroke="#000" stroke-width="0.3" text-anchor="middle" fill="#000" >**</text>
<text x="164.9" y="413.9" font-size="9.2" font-weight="bold" stroke="#000" stroke-width="0.12" text-anchor="start" fill="#000" >WT</text>
<text x="185.3" y="413.9" font-size="9.2" font-weight="bold" stroke="#000" stroke-width="0.12" text-anchor="start" fill="#000" >Bec</text>
<text x="205.4" y="413.9" font-size="9.2" font-weight="bold" stroke="#000" stroke-width="0.12" text-anchor="start" fill="#000" >+/-</text>
<text transform="translate(133.7,352.5) rotate(-90)" font-size="7.52" font-weight="bold" stroke="#000" stroke-width="0.15" text-anchor="middle">LDLN cells per mouse</text>
<line x1="290.2" y1="305.5" x2="290.2" y2="401.59999999999997" stroke="#000" stroke-width="1.4"/>
<line x1="289.5" y1="400.9" x2="356" y2="400.9" stroke="#000" stroke-width="1.4"/>
<line x1="287.2" y1="306.1" x2="290.2" y2="306.1" stroke="#000" stroke-width="1.2"/>
<line x1="287.2" y1="329.8" x2="290.2" y2="329.8" stroke="#000" stroke-width="1.2"/>
<line x1="287.2" y1="353.5" x2="290.2" y2="353.5" stroke="#000" stroke-width="1.2"/>
<line x1="287.2" y1="377.2" x2="290.2" y2="377.2" stroke="#000" stroke-width="1.2"/>
<line x1="287.2" y1="400.9" x2="290.2" y2="400.9" stroke="#000" stroke-width="1.2"/>
<text x="279.9848" y="309.0" font-size="6.6" stroke="#000" stroke-width="0.2" text-anchor="end" fill="#000" >2.0×10</text>
<text x="280.1848" y="305.7" font-size="4.6" stroke="#000" stroke-width="0.15" text-anchor="start" fill="#000" >05</text>
<text x="279.9848" y="332.7" font-size="6.6" stroke="#000" stroke-width="0.2" text-anchor="end" fill="#000" >1.5×10</text>
<text x="280.1848" y="329.4" font-size="4.6" stroke="#000" stroke-width="0.15" text-anchor="start" fill="#000" >05</text>
<text x="279.9848" y="356.4" font-size="6.6" stroke="#000" stroke-width="0.2" text-anchor="end" fill="#000" >1.0×10</text>
<text x="280.1848" y="353.09999999999997" font-size="4.6" stroke="#000" stroke-width="0.15" text-anchor="start" fill="#000" >05</text>
<text x="279.9848" y="380.09999999999997" font-size="6.6" stroke="#000" stroke-width="0.2" text-anchor="end" fill="#000" >5.0×10</text>
<text x="280.1848" y="376.79999999999995" font-size="4.6" stroke="#000" stroke-width="0.15" text-anchor="start" fill="#000" >04</text>
<text x="287.0" y="403.79999999999995" font-size="6.6" stroke="#000" stroke-width="0.2" text-anchor="end" fill="#000" >0.0</text>
<line x1="306.8" y1="344.3" x2="306.8" y2="353.4" stroke="#000" stroke-width="1.0"/>
<line x1="300.95000000000005" y1="344.3" x2="312.65" y2="344.3" stroke="#000" stroke-width="1.3"/>
<rect x="295.75" y="354.04999999999995" width="22.099999999999977" height="46.85" fill="#fff" stroke="#000" stroke-width="1.3"/>
<line x1="341.1" y1="317.3" x2="341.1" y2="324.5" stroke="#000" stroke-width="1.0"/>
<line x1="335.20000000000005" y1="317.3" x2="347.0" y2="317.3" stroke="#000" stroke-width="1.3"/>
<rect x="329.95" y="325.15" width="22.299999999999965" height="75.74999999999997" fill="#5f5f5f" stroke="#000" stroke-width="1.3"/>
<line x1="307.7" y1="400.9" x2="307.7" y2="403.5" stroke="#000" stroke-width="1.2"/>
<line x1="341.3" y1="400.9" x2="341.3" y2="403.5" stroke="#000" stroke-width="1.2"/>
<line x1="307.3" y1="310.2" x2="340.9" y2="310.2" stroke="#000" stroke-width="1.3"/>
<text x="324.1" y="308.263" font-size="8.280000000000001" font-weight="bold" stroke="#000" stroke-width="0.3" text-anchor="middle" fill="#000" >*</text>
<text x="297.9" y="413.8" font-size="8.5" font-weight="bold" stroke="#000" stroke-width="0.12" text-anchor="start" fill="#000" >WT</text>
<text x="323.1" y="413.8" font-size="8.5" font-weight="bold" stroke="#000" stroke-width="0.12" text-anchor="start" fill="#000" >Bec</text>
<text x="341.7" y="413.8" font-size="8.5" font-weight="bold" stroke="#000" stroke-width="0.12" text-anchor="start" fill="#000" >+/-</text>
<text transform="translate(254.2,346) rotate(-90)" font-size="7.95" font-weight="bold" stroke="#000" stroke-width="0.15" text-anchor="middle">% Fc&#949;RIa+ Ly6C+ DCs</text>
<line x1="417.5" y1="300.79999999999995" x2="417.5" y2="401.7" stroke="#000" stroke-width="1.4"/>
<line x1="416.8" y1="401" x2="507.6" y2="401" stroke="#000" stroke-width="1.4"/>
<line x1="414.5" y1="301.4" x2="417.5" y2="301.4" stroke="#000" stroke-width="1.2"/>
<line x1="414.5" y1="334.59999999999997" x2="417.5" y2="334.59999999999997" stroke="#000" stroke-width="1.2"/>
<line x1="414.5" y1="367.8" x2="417.5" y2="367.8" stroke="#000" stroke-width="1.2"/>
<line x1="414.5" y1="401.0" x2="417.5" y2="401.0" stroke="#000" stroke-width="1.2"/>
<text x="410.0744" y="303.5" font-size="5.4" stroke="#000" stroke-width="0.2" text-anchor="end" fill="#000" >6×10</text>
<text x="410.2744" y="300.8" font-size="3.8" stroke="#000" stroke-width="0.15" text-anchor="start" fill="#000" >04</text>
<text x="410.0744" y="336.7" font-size="5.4" stroke="#000" stroke-width="0.2" text-anchor="end" fill="#000" >4×10</text>
<text x="410.2744" y="334.0" font-size="3.8" stroke="#000" stroke-width="0.15" text-anchor="start" fill="#000" >04</text>
<text x="410.0744" y="369.90000000000003" font-size="5.4" stroke="#000" stroke-width="0.2" text-anchor="end" fill="#000" >2×10</text>
<text x="410.2744" y="367.20000000000005" font-size="3.8" stroke="#000" stroke-width="0.15" text-anchor="start" fill="#000" >04</text>
<text x="414.3" y="403.1" font-size="5.4" stroke="#000" stroke-width="0.2" text-anchor="end" fill="#000" >0</text>
<line x1="432.35" y1="358.4" x2="432.35" y2="362.2" stroke="#000" stroke-width="1.0"/>
<line x1="429.225" y1="358.4" x2="435.475" y2="358.4" stroke="#000" stroke-width="1.3"/>
<rect x="426.75" y="362.84999999999997" width="11.2" height="38.15000000000001" fill="#fff" stroke="#000" stroke-width="1.3"/>
<line x1="449.85" y1="374.9" x2="449.85" y2="375.9" stroke="#000" stroke-width="1.0"/>
<line x1="446.77500000000003" y1="374.9" x2="452.925" y2="374.9" stroke="#000" stroke-width="1.3"/>
<rect x="444.34999999999997" y="376.54999999999995" width="11.00000000000001" height="24.450000000000024" fill="#5e5e5e" stroke="#000" stroke-width="1.3"/>
<line x1="479.45000000000005" y1="315.6" x2="479.45000000000005" y2="322.4" stroke="#000" stroke-width="1.0"/>
<line x1="476.27500000000003" y1="315.6" x2="482.62500000000006" y2="315.6" stroke="#000" stroke-width="1.3"/>
<rect x="473.75" y="323.04999999999995" width="11.399999999999988" height="77.95000000000002" fill="#fff" stroke="#000" stroke-width="1.3"/>
<line x1="496.95" y1="354.5" x2="496.95" y2="355.9" stroke="#000" stroke-width="1.0"/>
<line x1="493.92499999999995" y1="354.5" x2="499.975" y2="354.5" stroke="#000" stroke-width="1.3"/>
<rect x="491.54999999999995" y="356.54999999999995" width="10.800000000000022" height="44.450000000000024" fill="#5e5e5e" stroke="#000" stroke-width="1.3"/>
<line x1="440.7" y1="401" x2="440.7" y2="403.6" stroke="#000" stroke-width="1.2"/>
<line x1="487.7" y1="401" x2="487.7" y2="403.6" stroke="#000" stroke-width="1.2"/>
<line x1="431.2" y1="353.5" x2="449.4" y2="353.5" stroke="#000" stroke-width="1.3"/>
<text x="440.29999999999995" y="353.94620000000003" font-size="6.072" font-weight="bold" stroke="#000" stroke-width="0.3" text-anchor="middle" fill="#000" >***</text>
<line x1="478.3" y1="311.1" x2="496.3" y2="311.1" stroke="#000" stroke-width="1.3"/>
<text x="487.3" y="311.6462" font-size="6.072" font-weight="bold" stroke="#000" stroke-width="0.3" text-anchor="middle" fill="#000" >***</text>
<rect x="422.0" y="303.2" width="7.799999999999999" height="4.6" fill="#fff" stroke="#000" stroke-width="1.4"/>
<rect x="422.0" y="311.9" width="7.799999999999999" height="4.6" fill="#5e5e5e" stroke="#000" stroke-width="1.4"/>
<text x="434" y="307.8" font-size="5.6" stroke="#000" stroke-width="0.25" text-anchor="start" fill="#000" >WT RSV</text>
<text x="434" y="316.5" font-size="5.6" stroke="#000" stroke-width="0.25" text-anchor="start" fill="#000" >Bec +/- RSV</text>
<text x="442.5" y="414.1" font-size="9.5" font-weight="bold" stroke="#000" stroke-width="0.12" text-anchor="middle" fill="#000" >CD11b+</text>
<text x="442.4" y="422.2" font-size="9.5" font-weight="bold" stroke="#000" stroke-width="0.12" text-anchor="middle" fill="#000" >DC</text>
<text x="489" y="414.1" font-size="9.5" font-weight="bold" stroke="#000" stroke-width="0.12" text-anchor="middle" fill="#000" >CD103+</text>
<text x="488.3" y="422.2" font-size="9.5" font-weight="bold" stroke="#000" stroke-width="0.12" text-anchor="middle" fill="#000" >DC</text>
<text transform="translate(394.4,349.8) rotate(-90)" font-size="9.0" font-weight="bold" stroke="#000" stroke-width="0.15" text-anchor="middle">MFI - MHC-II</text>
</svg></body></html>
